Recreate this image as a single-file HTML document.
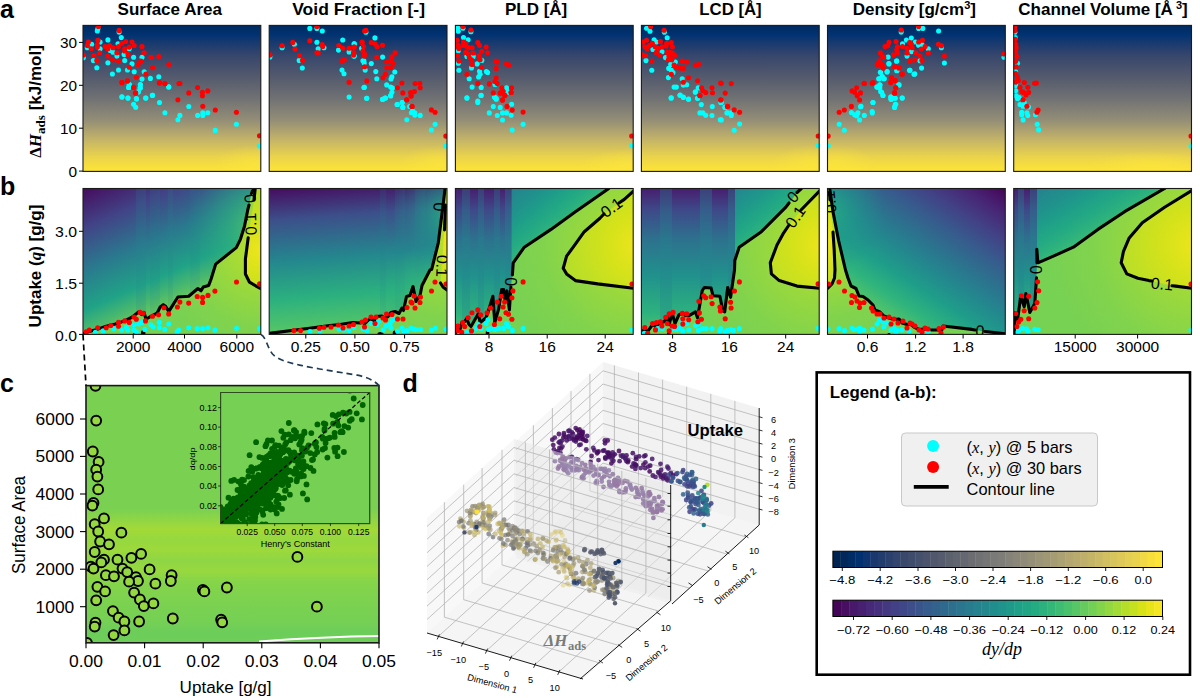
<!DOCTYPE html>
<html><head><meta charset="utf-8"><style>
html,body{margin:0;padding:0;background:#fff;}
body{width:1200px;height:698px;overflow:hidden;font-family:"Liberation Sans",sans-serif;}
svg{display:block;}
</style></head><body>
<svg width="1200" height="698" viewBox="0 0 1200 698">
<defs><linearGradient id="ga" x1="0" y1="0" x2="0" y2="1"><stop offset="0" stop-color="#002a5f"/><stop offset="0.06" stop-color="#013271"/><stop offset="0.2" stop-color="#35456c"/><stop offset="0.35" stop-color="#545a6d"/><stop offset="0.5" stop-color="#707173"/><stop offset="0.65" stop-color="#948e77"/><stop offset="0.78" stop-color="#c3b369"/><stop offset="0.9" stop-color="#ead34c"/><stop offset="1" stop-color="#fee535"/></linearGradient><clipPath id="ca0"><rect x="83" y="25.4" width="177.8" height="146.0"/></clipPath><clipPath id="cb0"><rect x="83" y="188.5" width="177.8" height="145.89999999999998"/></clipPath><clipPath id="ca1"><rect x="269.2" y="25.4" width="177.8" height="146.0"/></clipPath><clipPath id="cb1"><rect x="269.2" y="188.5" width="177.8" height="145.89999999999998"/></clipPath><clipPath id="ca2"><rect x="455.4" y="25.4" width="177.8" height="146.0"/></clipPath><clipPath id="cb2"><rect x="455.4" y="188.5" width="177.8" height="145.89999999999998"/></clipPath><clipPath id="ca3"><rect x="641.4" y="25.4" width="177.8" height="146.0"/></clipPath><clipPath id="cb3"><rect x="641.4" y="188.5" width="177.8" height="145.89999999999998"/></clipPath><clipPath id="ca4"><rect x="827.5" y="25.4" width="177.8" height="146.0"/></clipPath><clipPath id="cb4"><rect x="827.5" y="188.5" width="177.8" height="145.89999999999998"/></clipPath><clipPath id="ca5"><rect x="1013.7" y="25.4" width="177.8" height="146.0"/></clipPath><clipPath id="cb5"><rect x="1013.7" y="188.5" width="177.8" height="145.89999999999998"/></clipPath><radialGradient id="gyb"><stop offset="0" stop-color="#fee838" stop-opacity="0.55"/><stop offset="1" stop-color="#fee838" stop-opacity="0"/></radialGradient><linearGradient id="gA0" gradientUnits="userSpaceOnUse" x1="83" y1="188" x2="144" y2="325.4"><stop offset="0.000" stop-color="#460b5e"/><stop offset="0.250" stop-color="#414487"/><stop offset="0.500" stop-color="#2a788e"/><stop offset="0.750" stop-color="#20a386"/><stop offset="1.000" stop-color="#7ad151"/></linearGradient><linearGradient id="gA1" gradientUnits="userSpaceOnUse" x1="269" y1="188" x2="280" y2="334"><stop offset="0.000" stop-color="#460b5e"/><stop offset="0.220" stop-color="#3c4f8a"/><stop offset="0.500" stop-color="#24868e"/><stop offset="0.770" stop-color="#2cb17e"/><stop offset="1.000" stop-color="#58c765"/></linearGradient><linearGradient id="gA2L" gradientUnits="userSpaceOnUse" x1="455" y1="188" x2="455" y2="334"><stop offset="0.000" stop-color="#481d6f"/><stop offset="0.150" stop-color="#3e4989"/><stop offset="0.350" stop-color="#2d718e"/><stop offset="0.600" stop-color="#21918c"/><stop offset="0.850" stop-color="#2cb17e"/><stop offset="1.000" stop-color="#4ec36b"/></linearGradient><linearGradient id="gA2R" gradientUnits="userSpaceOnUse" x1="511" y1="190" x2="560" y2="252"><stop offset="0.000" stop-color="#26828e"/><stop offset="0.125" stop-color="#228b8d"/><stop offset="0.250" stop-color="#20938c"/><stop offset="0.375" stop-color="#1e9d89"/><stop offset="0.500" stop-color="#21a685"/><stop offset="0.625" stop-color="#28ae80"/><stop offset="0.750" stop-color="#35b779"/><stop offset="0.875" stop-color="#44bf70"/><stop offset="1.000" stop-color="#58c765"/></linearGradient><linearGradient id="gA3L" gradientUnits="userSpaceOnUse" x1="641" y1="188" x2="641" y2="334"><stop offset="0.000" stop-color="#481d6f"/><stop offset="0.150" stop-color="#3e4989"/><stop offset="0.350" stop-color="#2d718e"/><stop offset="0.600" stop-color="#21918c"/><stop offset="0.850" stop-color="#2cb17e"/><stop offset="1.000" stop-color="#4ec36b"/></linearGradient><linearGradient id="gA3R" gradientUnits="userSpaceOnUse" x1="735" y1="190" x2="780" y2="247"><stop offset="0.000" stop-color="#24868e"/><stop offset="0.125" stop-color="#218f8d"/><stop offset="0.250" stop-color="#1f978b"/><stop offset="0.375" stop-color="#1fa088"/><stop offset="0.500" stop-color="#22a884"/><stop offset="0.625" stop-color="#2ab07f"/><stop offset="0.750" stop-color="#37b878"/><stop offset="0.875" stop-color="#46c06f"/><stop offset="1.000" stop-color="#58c765"/></linearGradient><linearGradient id="gA4" gradientUnits="userSpaceOnUse" x1="1005" y1="188" x2="909.6" y2="334.1"><stop offset="0.000" stop-color="#450457"/><stop offset="0.125" stop-color="#482475"/><stop offset="0.250" stop-color="#424186"/><stop offset="0.375" stop-color="#375b8d"/><stop offset="0.500" stop-color="#2c728e"/><stop offset="0.625" stop-color="#23888e"/><stop offset="0.750" stop-color="#1f9e89"/><stop offset="0.875" stop-color="#2fb47c"/><stop offset="1.000" stop-color="#58c765"/></linearGradient><linearGradient id="gA5L" gradientUnits="userSpaceOnUse" x1="1013" y1="188" x2="1013" y2="334"><stop offset="0.000" stop-color="#481d6f"/><stop offset="0.150" stop-color="#3e4989"/><stop offset="0.350" stop-color="#2d718e"/><stop offset="0.600" stop-color="#21918c"/><stop offset="0.850" stop-color="#2cb17e"/><stop offset="1.000" stop-color="#4ec36b"/></linearGradient><linearGradient id="gA5R" gradientUnits="userSpaceOnUse" x1="1037" y1="190" x2="1080" y2="264"><stop offset="0.000" stop-color="#26828e"/><stop offset="0.125" stop-color="#228b8d"/><stop offset="0.250" stop-color="#20938c"/><stop offset="0.375" stop-color="#1e9d89"/><stop offset="0.500" stop-color="#21a685"/><stop offset="0.625" stop-color="#28ae80"/><stop offset="0.750" stop-color="#35b779"/><stop offset="0.875" stop-color="#44bf70"/><stop offset="1.000" stop-color="#58c765"/></linearGradient><radialGradient id="gB0" gradientUnits="userSpaceOnUse" cx="262" cy="250" r="110"><stop offset="0.000" stop-color="#bddf26"/><stop offset="0.400" stop-color="#98d83e"/><stop offset="0.700" stop-color="#81d34d"/><stop offset="1.000" stop-color="#77d153"/></radialGradient><radialGradient id="gC0" gradientUnits="userSpaceOnUse" cx="262" cy="250" r="72.60000000000001"><stop offset="0.000" stop-color="#efe51c"/><stop offset="0.350" stop-color="#d5e21a"/><stop offset="0.700" stop-color="#bddf26"/><stop offset="1.000" stop-color="#addc30"/></radialGradient><radialGradient id="gB1" gradientUnits="userSpaceOnUse" cx="449" cy="240" r="110"><stop offset="0.000" stop-color="#bddf26"/><stop offset="0.400" stop-color="#98d83e"/><stop offset="0.700" stop-color="#81d34d"/><stop offset="1.000" stop-color="#77d153"/></radialGradient><radialGradient id="gC1" gradientUnits="userSpaceOnUse" cx="449" cy="240" r="72.60000000000001"><stop offset="0.000" stop-color="#efe51c"/><stop offset="0.350" stop-color="#d5e21a"/><stop offset="0.700" stop-color="#bddf26"/><stop offset="1.000" stop-color="#addc30"/></radialGradient><radialGradient id="gB2" gradientUnits="userSpaceOnUse" cx="640" cy="245" r="140"><stop offset="0.000" stop-color="#bddf26"/><stop offset="0.400" stop-color="#98d83e"/><stop offset="0.700" stop-color="#81d34d"/><stop offset="1.000" stop-color="#77d153"/></radialGradient><radialGradient id="gC2" gradientUnits="userSpaceOnUse" cx="640" cy="245" r="92.4"><stop offset="0.000" stop-color="#efe51c"/><stop offset="0.350" stop-color="#d5e21a"/><stop offset="0.700" stop-color="#bddf26"/><stop offset="1.000" stop-color="#addc30"/></radialGradient><radialGradient id="gB3" gradientUnits="userSpaceOnUse" cx="826" cy="245" r="140"><stop offset="0.000" stop-color="#bddf26"/><stop offset="0.400" stop-color="#98d83e"/><stop offset="0.700" stop-color="#81d34d"/><stop offset="1.000" stop-color="#77d153"/></radialGradient><radialGradient id="gC3" gradientUnits="userSpaceOnUse" cx="826" cy="245" r="92.4"><stop offset="0.000" stop-color="#efe51c"/><stop offset="0.350" stop-color="#d5e21a"/><stop offset="0.700" stop-color="#bddf26"/><stop offset="1.000" stop-color="#addc30"/></radialGradient><radialGradient id="gB4" gradientUnits="userSpaceOnUse" cx="828" cy="240" r="110"><stop offset="0.000" stop-color="#bddf26"/><stop offset="0.400" stop-color="#98d83e"/><stop offset="0.700" stop-color="#81d34d"/><stop offset="1.000" stop-color="#77d153"/></radialGradient><radialGradient id="gC4" gradientUnits="userSpaceOnUse" cx="828" cy="240" r="72.60000000000001"><stop offset="0.000" stop-color="#efe51c"/><stop offset="0.350" stop-color="#d5e21a"/><stop offset="0.700" stop-color="#bddf26"/><stop offset="1.000" stop-color="#addc30"/></radialGradient><radialGradient id="gB5" gradientUnits="userSpaceOnUse" cx="1198" cy="245" r="150"><stop offset="0.000" stop-color="#bddf26"/><stop offset="0.400" stop-color="#98d83e"/><stop offset="0.700" stop-color="#81d34d"/><stop offset="1.000" stop-color="#77d153"/></radialGradient><radialGradient id="gC5" gradientUnits="userSpaceOnUse" cx="1198" cy="245" r="99.0"><stop offset="0.000" stop-color="#efe51c"/><stop offset="0.350" stop-color="#d5e21a"/><stop offset="0.700" stop-color="#bddf26"/><stop offset="1.000" stop-color="#addc30"/></radialGradient><radialGradient id="ov0_0"><stop offset="0" stop-color="#58c765" stop-opacity="0.95"/><stop offset="0.5" stop-color="#32b67a" stop-opacity="0.5"/><stop offset="1" stop-color="#21a685" stop-opacity="0"/></radialGradient><radialGradient id="ov1_0"><stop offset="0" stop-color="#26ad81" stop-opacity="0.95"/><stop offset="0.5" stop-color="#1f9a8a" stop-opacity="0.5"/><stop offset="1" stop-color="#23898e" stop-opacity="0"/></radialGradient><radialGradient id="ov1_1"><stop offset="0" stop-color="#58c765" stop-opacity="0.95"/><stop offset="0.5" stop-color="#32b67a" stop-opacity="0.5"/><stop offset="1" stop-color="#21a685" stop-opacity="0"/></radialGradient><radialGradient id="ov4_0"><stop offset="0" stop-color="#26ad81" stop-opacity="0.95"/><stop offset="0.5" stop-color="#1f9a8a" stop-opacity="0.5"/><stop offset="1" stop-color="#23898e" stop-opacity="0"/></radialGradient><linearGradient id="gc" x1="0" y1="0" x2="0" y2="1"><stop offset="0" stop-color="#7ad151"/><stop offset="0.48" stop-color="#7ad151"/><stop offset="0.52" stop-color="#8ed645"/><stop offset="0.56" stop-color="#a2da37"/><stop offset="0.6" stop-color="#95d840"/><stop offset="0.64" stop-color="#9dd93b"/><stop offset="0.68" stop-color="#8ed645"/><stop offset="0.72" stop-color="#98d83e"/><stop offset="0.76" stop-color="#86d549"/><stop offset="0.8" stop-color="#81d34d"/><stop offset="0.86" stop-color="#7ad151"/><stop offset="0.92" stop-color="#75d054"/><stop offset="0.96" stop-color="#6ccd5a"/><stop offset="1" stop-color="#6ece58"/></linearGradient><clipPath id="cc"><rect x="86" y="385.6" width="293" height="257.19999999999993"/></clipPath><clipPath id="ci"><rect x="220.6" y="392.5" width="149.1" height="131.10000000000002"/></clipPath></defs>
<rect x="83" y="25.4" width="177.8" height="146.0" fill="url(#ga)"/>
<g clip-path="url(#ca0)"><ellipse cx="255" cy="163" rx="40" ry="18" fill="url(#gyb)"/></g>
<rect x="269.2" y="25.4" width="177.8" height="146.0" fill="url(#ga)"/>
<g clip-path="url(#ca1)"><ellipse cx="441" cy="163" rx="40" ry="18" fill="url(#gyb)"/></g>
<rect x="455.4" y="25.4" width="177.8" height="146.0" fill="url(#ga)"/>
<g clip-path="url(#ca2)"><ellipse cx="627" cy="165" rx="45" ry="16" fill="url(#gyb)"/></g>
<rect x="641.4" y="25.4" width="177.8" height="146.0" fill="url(#ga)"/>
<g clip-path="url(#ca3)"><ellipse cx="813" cy="163" rx="40" ry="18" fill="url(#gyb)"/></g>
<rect x="827.5" y="25.4" width="177.8" height="146.0" fill="url(#ga)"/>
<g clip-path="url(#ca4)"><ellipse cx="835" cy="163" rx="40" ry="18" fill="url(#gyb)"/></g>
<rect x="1013.7" y="25.4" width="177.8" height="146.0" fill="url(#ga)"/>
<g clip-path="url(#ca5)"><ellipse cx="1150" cy="165" rx="60" ry="14" fill="url(#gyb)"/></g>
<g clip-path="url(#ca0)">
<circle cx="97.3" cy="30.9" r="2.55" fill="#00ffff"/><circle cx="97.9" cy="28.7" r="2.55" fill="#00ffff"/><circle cx="119.1" cy="32.1" r="2.55" fill="#00ffff"/><circle cx="121.3" cy="37.6" r="2.55" fill="#00ffff"/><circle cx="107.9" cy="39.9" r="2.55" fill="#00ffff"/><circle cx="91.7" cy="44.3" r="2.55" fill="#00ffff"/><circle cx="100.1" cy="42.1" r="2.55" fill="#00ffff"/><circle cx="87.3" cy="47.7" r="2.55" fill="#00ffff"/><circle cx="100.1" cy="48.8" r="2.55" fill="#00ffff"/><circle cx="110.2" cy="50.5" r="2.55" fill="#00ffff"/><circle cx="113" cy="52.2" r="2.55" fill="#00ffff"/><circle cx="118" cy="43.8" r="2.55" fill="#00ffff"/><circle cx="129.2" cy="48.8" r="2.55" fill="#00ffff"/><circle cx="83.4" cy="57.8" r="2.55" fill="#00ffff"/><circle cx="93.4" cy="60.5" r="2.55" fill="#00ffff"/><circle cx="116.9" cy="56.1" r="2.55" fill="#00ffff"/><circle cx="124.1" cy="54.4" r="2.55" fill="#00ffff"/><circle cx="133.6" cy="57.2" r="2.55" fill="#00ffff"/><circle cx="142" cy="57.2" r="2.55" fill="#00ffff"/><circle cx="107.9" cy="62.8" r="2.55" fill="#00ffff"/><circle cx="124.7" cy="60.5" r="2.55" fill="#00ffff"/><circle cx="132" cy="63.9" r="2.55" fill="#00ffff"/><circle cx="96.8" cy="67.8" r="2.55" fill="#00ffff"/><circle cx="118.5" cy="70" r="2.55" fill="#00ffff"/><circle cx="127.5" cy="70" r="2.55" fill="#00ffff"/><circle cx="134.2" cy="71.7" r="2.55" fill="#00ffff"/><circle cx="144.2" cy="71.7" r="2.55" fill="#00ffff"/><circle cx="112.4" cy="74" r="2.55" fill="#00ffff"/><circle cx="142" cy="79" r="2.55" fill="#00ffff"/><circle cx="150.4" cy="78.4" r="2.55" fill="#00ffff"/><circle cx="158.8" cy="76.7" r="2.55" fill="#00ffff"/><circle cx="129.2" cy="84.6" r="2.55" fill="#00ffff"/><circle cx="128.6" cy="87.4" r="2.55" fill="#00ffff"/><circle cx="140.3" cy="84.6" r="2.55" fill="#00ffff"/><circle cx="140.3" cy="87.9" r="2.55" fill="#00ffff"/><circle cx="138.1" cy="91.8" r="2.55" fill="#00ffff"/><circle cx="168.8" cy="86.8" r="2.55" fill="#00ffff"/><circle cx="121.9" cy="96.9" r="2.55" fill="#00ffff"/><circle cx="128" cy="98" r="2.55" fill="#00ffff"/><circle cx="136.4" cy="98.5" r="2.55" fill="#00ffff"/><circle cx="145.9" cy="98" r="2.55" fill="#00ffff"/><circle cx="152.6" cy="95.2" r="2.55" fill="#00ffff"/><circle cx="129.5" cy="84.8" r="2.55" fill="#00ffff"/><circle cx="128.8" cy="87.5" r="2.55" fill="#00ffff"/><circle cx="140.4" cy="84.8" r="2.55" fill="#00ffff"/><circle cx="140.1" cy="87.9" r="2.55" fill="#00ffff"/><circle cx="138.4" cy="92" r="2.55" fill="#00ffff"/><circle cx="168.7" cy="87.1" r="2.55" fill="#00ffff"/><circle cx="122" cy="97" r="2.55" fill="#00ffff"/><circle cx="127.9" cy="98.1" r="2.55" fill="#00ffff"/><circle cx="136.6" cy="99.1" r="2.55" fill="#00ffff"/><circle cx="145.6" cy="98.1" r="2.55" fill="#00ffff"/><circle cx="152.4" cy="95.4" r="2.55" fill="#00ffff"/><circle cx="133.6" cy="104.2" r="2.55" fill="#00ffff"/><circle cx="135.7" cy="107.2" r="2.55" fill="#00ffff"/><circle cx="159.5" cy="102.5" r="2.55" fill="#00ffff"/><circle cx="164.9" cy="112.7" r="2.55" fill="#00ffff"/><circle cx="188.8" cy="106.5" r="2.55" fill="#00ffff"/><circle cx="179.9" cy="115.4" r="2.55" fill="#00ffff"/><circle cx="177.9" cy="119.8" r="2.55" fill="#00ffff"/><circle cx="197.6" cy="115.4" r="2.55" fill="#00ffff"/><circle cx="202.8" cy="112.7" r="2.55" fill="#00ffff"/><circle cx="202.8" cy="115.4" r="2.55" fill="#00ffff"/><circle cx="207.8" cy="112.7" r="2.55" fill="#00ffff"/><circle cx="236.4" cy="124.2" r="2.55" fill="#00ffff"/><circle cx="215.3" cy="130.4" r="2.55" fill="#00ffff"/><circle cx="259.5" cy="146" r="2.55" fill="#00ffff"/>
<circle cx="98.4" cy="26.5" r="2.55" fill="#ff0000"/><circle cx="119.1" cy="30.4" r="2.55" fill="#ff0000"/><circle cx="88.4" cy="42.1" r="2.55" fill="#ff0000"/><circle cx="97.9" cy="40.4" r="2.55" fill="#ff0000"/><circle cx="87.3" cy="45.5" r="2.55" fill="#ff0000"/><circle cx="97.3" cy="44.9" r="2.55" fill="#ff0000"/><circle cx="91.2" cy="48.8" r="2.55" fill="#ff0000"/><circle cx="97.3" cy="47.1" r="2.55" fill="#ff0000"/><circle cx="105.1" cy="46.6" r="2.55" fill="#ff0000"/><circle cx="109.6" cy="45.5" r="2.55" fill="#ff0000"/><circle cx="113" cy="47.7" r="2.55" fill="#ff0000"/><circle cx="107.9" cy="48.8" r="2.55" fill="#ff0000"/><circle cx="118.5" cy="46.6" r="2.55" fill="#ff0000"/><circle cx="121.9" cy="43.2" r="2.55" fill="#ff0000"/><circle cx="125.8" cy="41.6" r="2.55" fill="#ff0000"/><circle cx="124.7" cy="48.8" r="2.55" fill="#ff0000"/><circle cx="124.7" cy="51" r="2.55" fill="#ff0000"/><circle cx="132" cy="42.1" r="2.55" fill="#ff0000"/><circle cx="134.2" cy="45.5" r="2.55" fill="#ff0000"/><circle cx="129.2" cy="47.1" r="2.55" fill="#ff0000"/><circle cx="99.6" cy="52.7" r="2.55" fill="#ff0000"/><circle cx="94" cy="55.5" r="2.55" fill="#ff0000"/><circle cx="83.4" cy="55" r="2.55" fill="#ff0000"/><circle cx="107.9" cy="56.1" r="2.55" fill="#ff0000"/><circle cx="116.9" cy="52.7" r="2.55" fill="#ff0000"/><circle cx="128" cy="54.4" r="2.55" fill="#ff0000"/><circle cx="142" cy="46.6" r="2.55" fill="#ff0000"/><circle cx="144.2" cy="52.7" r="2.55" fill="#ff0000"/><circle cx="96.8" cy="60.5" r="2.55" fill="#ff0000"/><circle cx="112.4" cy="60" r="2.55" fill="#ff0000"/><circle cx="118.5" cy="61.1" r="2.55" fill="#ff0000"/><circle cx="140.9" cy="61.1" r="2.55" fill="#ff0000"/><circle cx="138.1" cy="64.5" r="2.55" fill="#ff0000"/><circle cx="151" cy="57.2" r="2.55" fill="#ff0000"/><circle cx="158.8" cy="56.6" r="2.55" fill="#ff0000"/><circle cx="168.8" cy="64.5" r="2.55" fill="#ff0000"/><circle cx="129.2" cy="67.3" r="2.55" fill="#ff0000"/><circle cx="152.6" cy="67.8" r="2.55" fill="#ff0000"/><circle cx="145.9" cy="74" r="2.55" fill="#ff0000"/><circle cx="136.4" cy="77.3" r="2.55" fill="#ff0000"/><circle cx="121.9" cy="82.3" r="2.55" fill="#ff0000"/><circle cx="127.5" cy="80.7" r="2.55" fill="#ff0000"/><circle cx="133.6" cy="87.4" r="2.55" fill="#ff0000"/><circle cx="135.3" cy="93" r="2.55" fill="#ff0000"/><circle cx="159.3" cy="82.9" r="2.55" fill="#ff0000"/><circle cx="164.9" cy="83.5" r="2.55" fill="#ff0000"/><circle cx="178.9" cy="83.5" r="2.55" fill="#ff0000"/><circle cx="122" cy="82.7" r="2.55" fill="#ff0000"/><circle cx="127.5" cy="81.1" r="2.55" fill="#ff0000"/><circle cx="133.6" cy="87.5" r="2.55" fill="#ff0000"/><circle cx="135.7" cy="92.9" r="2.55" fill="#ff0000"/><circle cx="159.5" cy="82.7" r="2.55" fill="#ff0000"/><circle cx="164.9" cy="83.8" r="2.55" fill="#ff0000"/><circle cx="179.9" cy="83.4" r="2.55" fill="#ff0000"/><circle cx="188.8" cy="92.9" r="2.55" fill="#ff0000"/><circle cx="197.6" cy="87.5" r="2.55" fill="#ff0000"/><circle cx="202.4" cy="92.3" r="2.55" fill="#ff0000"/><circle cx="202.4" cy="95.7" r="2.55" fill="#ff0000"/><circle cx="207.8" cy="90.9" r="2.55" fill="#ff0000"/><circle cx="177.9" cy="99.7" r="2.55" fill="#ff0000"/><circle cx="202.8" cy="106.3" r="2.55" fill="#ff0000"/><circle cx="215.3" cy="110" r="2.55" fill="#ff0000"/><circle cx="236.4" cy="112.3" r="2.55" fill="#ff0000"/><circle cx="259.5" cy="135.8" r="2.55" fill="#ff0000"/>
</g>
<g clip-path="url(#ca1)">
<circle cx="309.8" cy="28.4" r="2.55" fill="#00ffff"/><circle cx="316.9" cy="28.4" r="2.55" fill="#00ffff"/><circle cx="322.3" cy="31" r="2.55" fill="#00ffff"/><circle cx="316.9" cy="42.2" r="2.55" fill="#00ffff"/><circle cx="294.4" cy="44.2" r="2.55" fill="#00ffff"/><circle cx="282.1" cy="47.8" r="2.55" fill="#00ffff"/><circle cx="318.2" cy="48.8" r="2.55" fill="#00ffff"/><circle cx="324" cy="47.8" r="2.55" fill="#00ffff"/><circle cx="299.2" cy="60.4" r="2.55" fill="#00ffff"/><circle cx="302.3" cy="68" r="2.55" fill="#00ffff"/><circle cx="269.9" cy="57.1" r="2.55" fill="#00ffff"/><circle cx="342.7" cy="40" r="2.55" fill="#00ffff"/><circle cx="338.5" cy="50.1" r="2.55" fill="#00ffff"/><circle cx="349.1" cy="51.9" r="2.55" fill="#00ffff"/><circle cx="354.3" cy="43.9" r="2.55" fill="#00ffff"/><circle cx="354.3" cy="56.1" r="2.55" fill="#00ffff"/><circle cx="342" cy="70.1" r="2.55" fill="#00ffff"/><circle cx="344" cy="73.8" r="2.55" fill="#00ffff"/><circle cx="349.1" cy="97.1" r="2.55" fill="#00ffff"/><circle cx="363.9" cy="60.7" r="2.55" fill="#00ffff"/><circle cx="363.9" cy="87.5" r="2.55" fill="#00ffff"/><circle cx="365.9" cy="32.3" r="2.55" fill="#00ffff"/><circle cx="374.9" cy="37.9" r="2.55" fill="#00ffff"/><circle cx="354.1" cy="43.9" r="2.55" fill="#00ffff"/><circle cx="361.6" cy="48.4" r="2.55" fill="#00ffff"/><circle cx="353.9" cy="56.1" r="2.55" fill="#00ffff"/><circle cx="382.6" cy="57.1" r="2.55" fill="#00ffff"/><circle cx="362.9" cy="60.7" r="2.55" fill="#00ffff"/><circle cx="364.2" cy="63" r="2.55" fill="#00ffff"/><circle cx="371.3" cy="63.6" r="2.55" fill="#00ffff"/><circle cx="365.2" cy="70.1" r="2.55" fill="#00ffff"/><circle cx="375.8" cy="71.6" r="2.55" fill="#00ffff"/><circle cx="394.8" cy="72" r="2.55" fill="#00ffff"/><circle cx="376.8" cy="78.7" r="2.55" fill="#00ffff"/><circle cx="391.9" cy="76.8" r="2.55" fill="#00ffff"/><circle cx="391" cy="79" r="2.55" fill="#00ffff"/><circle cx="364.4" cy="87.3" r="2.55" fill="#00ffff"/><circle cx="386.7" cy="84.9" r="2.55" fill="#00ffff"/><circle cx="390.6" cy="87.1" r="2.55" fill="#00ffff"/><circle cx="392.5" cy="88" r="2.55" fill="#00ffff"/><circle cx="391.9" cy="92.2" r="2.55" fill="#00ffff"/><circle cx="390.6" cy="95.5" r="2.55" fill="#00ffff"/><circle cx="366.8" cy="98.3" r="2.55" fill="#00ffff"/><circle cx="382.5" cy="99.3" r="2.55" fill="#00ffff"/><circle cx="385.1" cy="98" r="2.55" fill="#00ffff"/><circle cx="397.4" cy="104.5" r="2.55" fill="#00ffff"/><circle cx="402.2" cy="102.5" r="2.55" fill="#00ffff"/><circle cx="402.8" cy="107.4" r="2.55" fill="#00ffff"/><circle cx="412.5" cy="110.9" r="2.55" fill="#00ffff"/><circle cx="366.6" cy="98.2" r="2.55" fill="#00ffff"/><circle cx="382.7" cy="99.4" r="2.55" fill="#00ffff"/><circle cx="385.6" cy="98.1" r="2.55" fill="#00ffff"/><circle cx="390.7" cy="95.9" r="2.55" fill="#00ffff"/><circle cx="397" cy="104.5" r="2.55" fill="#00ffff"/><circle cx="402.2" cy="102.5" r="2.55" fill="#00ffff"/><circle cx="402.8" cy="107.4" r="2.55" fill="#00ffff"/><circle cx="409.6" cy="106.5" r="2.55" fill="#00ffff"/><circle cx="411.4" cy="112.8" r="2.55" fill="#00ffff"/><circle cx="414.8" cy="112.8" r="2.55" fill="#00ffff"/><circle cx="414.8" cy="115.1" r="2.55" fill="#00ffff"/><circle cx="420.2" cy="115.4" r="2.55" fill="#00ffff"/><circle cx="406.8" cy="119.7" r="2.55" fill="#00ffff"/><circle cx="435.1" cy="124.2" r="2.55" fill="#00ffff"/><circle cx="431.4" cy="130" r="2.55" fill="#00ffff"/><circle cx="445.8" cy="146" r="2.55" fill="#00ffff"/>
<circle cx="316.9" cy="26.5" r="2.55" fill="#ff0000"/><circle cx="309.8" cy="40.7" r="2.55" fill="#ff0000"/><circle cx="282.1" cy="45.8" r="2.55" fill="#ff0000"/><circle cx="292.8" cy="42.4" r="2.55" fill="#ff0000"/><circle cx="295" cy="49.1" r="2.55" fill="#ff0000"/><circle cx="299.5" cy="55.8" r="2.55" fill="#ff0000"/><circle cx="302.5" cy="60.4" r="2.55" fill="#ff0000"/><circle cx="316.9" cy="52.7" r="2.55" fill="#ff0000"/><circle cx="318.2" cy="52.9" r="2.55" fill="#ff0000"/><circle cx="322.1" cy="44.6" r="2.55" fill="#ff0000"/><circle cx="322.7" cy="46.5" r="2.55" fill="#ff0000"/><circle cx="269.9" cy="54.9" r="2.55" fill="#ff0000"/><circle cx="338.8" cy="45.5" r="2.55" fill="#ff0000"/><circle cx="342.7" cy="48.2" r="2.55" fill="#ff0000"/><circle cx="342" cy="60.7" r="2.55" fill="#ff0000"/><circle cx="344.4" cy="60" r="2.55" fill="#ff0000"/><circle cx="349.1" cy="48.2" r="2.55" fill="#ff0000"/><circle cx="354.3" cy="47.1" r="2.55" fill="#ff0000"/><circle cx="353.6" cy="52.9" r="2.55" fill="#ff0000"/><circle cx="353.6" cy="54.9" r="2.55" fill="#ff0000"/><circle cx="349.1" cy="82.3" r="2.55" fill="#ff0000"/><circle cx="362" cy="42.6" r="2.55" fill="#ff0000"/><circle cx="364.6" cy="31" r="2.55" fill="#ff0000"/><circle cx="365.9" cy="30.4" r="2.55" fill="#ff0000"/><circle cx="362.2" cy="42" r="2.55" fill="#ff0000"/><circle cx="353.9" cy="47.1" r="2.55" fill="#ff0000"/><circle cx="363.5" cy="46.5" r="2.55" fill="#ff0000"/><circle cx="362.9" cy="51" r="2.55" fill="#ff0000"/><circle cx="364.8" cy="54.2" r="2.55" fill="#ff0000"/><circle cx="364.2" cy="56.1" r="2.55" fill="#ff0000"/><circle cx="353.9" cy="52.9" r="2.55" fill="#ff0000"/><circle cx="371.3" cy="42.6" r="2.55" fill="#ff0000"/><circle cx="375.1" cy="43.9" r="2.55" fill="#ff0000"/><circle cx="377.1" cy="46.7" r="2.55" fill="#ff0000"/><circle cx="382.5" cy="45.2" r="2.55" fill="#ff0000"/><circle cx="376.8" cy="57.4" r="2.55" fill="#ff0000"/><circle cx="395.1" cy="52.7" r="2.55" fill="#ff0000"/><circle cx="391.9" cy="56.8" r="2.55" fill="#ff0000"/><circle cx="386.7" cy="61.9" r="2.55" fill="#ff0000"/><circle cx="391.2" cy="60.7" r="2.55" fill="#ff0000"/><circle cx="393.2" cy="63.9" r="2.55" fill="#ff0000"/><circle cx="386.7" cy="67.7" r="2.55" fill="#ff0000"/><circle cx="390.6" cy="67.7" r="2.55" fill="#ff0000"/><circle cx="364.6" cy="66.8" r="2.55" fill="#ff0000"/><circle cx="385.4" cy="74.2" r="2.55" fill="#ff0000"/><circle cx="382.9" cy="77.7" r="2.55" fill="#ff0000"/><circle cx="366.8" cy="80.9" r="2.55" fill="#ff0000"/><circle cx="401.9" cy="83" r="2.55" fill="#ff0000"/><circle cx="415.1" cy="83.6" r="2.55" fill="#ff0000"/><circle cx="419.8" cy="83.2" r="2.55" fill="#ff0000"/><circle cx="420.2" cy="87.7" r="2.55" fill="#ff0000"/><circle cx="397.4" cy="87.7" r="2.55" fill="#ff0000"/><circle cx="402.8" cy="92.9" r="2.55" fill="#ff0000"/><circle cx="410.6" cy="92.6" r="2.55" fill="#ff0000"/><circle cx="414.4" cy="91.6" r="2.55" fill="#ff0000"/><circle cx="411.2" cy="95.7" r="2.55" fill="#ff0000"/><circle cx="406.7" cy="99.7" r="2.55" fill="#ff0000"/><circle cx="412.1" cy="106.4" r="2.55" fill="#ff0000"/><circle cx="431.4" cy="109.9" r="2.55" fill="#ff0000"/><circle cx="411.1" cy="96.1" r="2.55" fill="#ff0000"/><circle cx="406.8" cy="99.8" r="2.55" fill="#ff0000"/><circle cx="411.9" cy="106.5" r="2.55" fill="#ff0000"/><circle cx="435.1" cy="112.2" r="2.55" fill="#ff0000"/><circle cx="445.8" cy="136.1" r="2.55" fill="#ff0000"/>
</g>
<g clip-path="url(#ca2)">
<circle cx="457.7" cy="27.7" r="2.55" fill="#00ffff"/><circle cx="458.3" cy="31.2" r="2.55" fill="#00ffff"/><circle cx="462.9" cy="28.3" r="2.55" fill="#00ffff"/><circle cx="470.9" cy="31.7" r="2.55" fill="#00ffff"/><circle cx="463.5" cy="37.5" r="2.55" fill="#00ffff"/><circle cx="468.1" cy="39.8" r="2.55" fill="#00ffff"/><circle cx="458.3" cy="50.7" r="2.55" fill="#00ffff"/><circle cx="466.9" cy="56.4" r="2.55" fill="#00ffff"/><circle cx="473.2" cy="56.4" r="2.55" fill="#00ffff"/><circle cx="481.8" cy="60.4" r="2.55" fill="#00ffff"/><circle cx="458.3" cy="63.3" r="2.55" fill="#00ffff"/><circle cx="477.2" cy="63.9" r="2.55" fill="#00ffff"/><circle cx="471.5" cy="67.9" r="2.55" fill="#00ffff"/><circle cx="458.9" cy="70.2" r="2.55" fill="#00ffff"/><circle cx="486.4" cy="71.5" r="2.55" fill="#00ffff"/><circle cx="487.6" cy="72.5" r="2.55" fill="#00ffff"/><circle cx="479.5" cy="71.3" r="2.55" fill="#00ffff"/><circle cx="480.1" cy="74.2" r="2.55" fill="#00ffff"/><circle cx="478.6" cy="77" r="2.55" fill="#00ffff"/><circle cx="469.2" cy="78.8" r="2.55" fill="#00ffff"/><circle cx="495" cy="84.5" r="2.55" fill="#00ffff"/><circle cx="472.1" cy="87.1" r="2.55" fill="#00ffff"/><circle cx="481.2" cy="87.4" r="2.55" fill="#00ffff"/><circle cx="506.5" cy="87.9" r="2.55" fill="#00ffff"/><circle cx="508.2" cy="92" r="2.55" fill="#00ffff"/><circle cx="481.2" cy="95.4" r="2.55" fill="#00ffff"/><circle cx="466.9" cy="97.9" r="2.55" fill="#00ffff"/><circle cx="494.4" cy="97.1" r="2.55" fill="#00ffff"/><circle cx="496.2" cy="98.6" r="2.55" fill="#00ffff"/><circle cx="477.8" cy="101.1" r="2.55" fill="#00ffff"/><circle cx="466.9" cy="98" r="2.55" fill="#00ffff"/><circle cx="480.9" cy="95.5" r="2.55" fill="#00ffff"/><circle cx="477.8" cy="102.4" r="2.55" fill="#00ffff"/><circle cx="495" cy="97.5" r="2.55" fill="#00ffff"/><circle cx="496.2" cy="99.2" r="2.55" fill="#00ffff"/><circle cx="508.2" cy="92.3" r="2.55" fill="#00ffff"/><circle cx="511.6" cy="104.3" r="2.55" fill="#00ffff"/><circle cx="493.3" cy="106.6" r="2.55" fill="#00ffff"/><circle cx="500.2" cy="107.4" r="2.55" fill="#00ffff"/><circle cx="489.3" cy="112.9" r="2.55" fill="#00ffff"/><circle cx="497.3" cy="115.5" r="2.55" fill="#00ffff"/><circle cx="502.5" cy="112.9" r="2.55" fill="#00ffff"/><circle cx="506.5" cy="112.9" r="2.55" fill="#00ffff"/><circle cx="511.1" cy="115.2" r="2.55" fill="#00ffff"/><circle cx="502.5" cy="120" r="2.55" fill="#00ffff"/><circle cx="523.1" cy="124.2" r="2.55" fill="#00ffff"/><circle cx="512.2" cy="130.1" r="2.55" fill="#00ffff"/><circle cx="631.7" cy="145.7" r="2.55" fill="#00ffff"/>
<circle cx="462.9" cy="26.6" r="2.55" fill="#ff0000"/><circle cx="470.9" cy="30" r="2.55" fill="#ff0000"/><circle cx="457.2" cy="40.3" r="2.55" fill="#ff0000"/><circle cx="457.7" cy="44.9" r="2.55" fill="#ff0000"/><circle cx="458.9" cy="48.4" r="2.55" fill="#ff0000"/><circle cx="463.5" cy="42.1" r="2.55" fill="#ff0000"/><circle cx="465.8" cy="43.2" r="2.55" fill="#ff0000"/><circle cx="462.9" cy="45.5" r="2.55" fill="#ff0000"/><circle cx="466.9" cy="46.7" r="2.55" fill="#ff0000"/><circle cx="469.2" cy="47.8" r="2.55" fill="#ff0000"/><circle cx="472.1" cy="47.8" r="2.55" fill="#ff0000"/><circle cx="465.8" cy="52.4" r="2.55" fill="#ff0000"/><circle cx="468.1" cy="54.1" r="2.55" fill="#ff0000"/><circle cx="473.2" cy="53" r="2.55" fill="#ff0000"/><circle cx="457.7" cy="55.8" r="2.55" fill="#ff0000"/><circle cx="469.2" cy="57.6" r="2.55" fill="#ff0000"/><circle cx="471.5" cy="59.8" r="2.55" fill="#ff0000"/><circle cx="458.9" cy="61" r="2.55" fill="#ff0000"/><circle cx="472.1" cy="64.4" r="2.55" fill="#ff0000"/><circle cx="477.8" cy="42.6" r="2.55" fill="#ff0000"/><circle cx="479.5" cy="45.5" r="2.55" fill="#ff0000"/><circle cx="481.8" cy="51.2" r="2.55" fill="#ff0000"/><circle cx="479" cy="55.8" r="2.55" fill="#ff0000"/><circle cx="480.1" cy="59.8" r="2.55" fill="#ff0000"/><circle cx="486.2" cy="47" r="2.55" fill="#ff0000"/><circle cx="487.6" cy="52.7" r="2.55" fill="#ff0000"/><circle cx="495.6" cy="61" r="2.55" fill="#ff0000"/><circle cx="497.3" cy="62.1" r="2.55" fill="#ff0000"/><circle cx="506.5" cy="63.9" r="2.55" fill="#ff0000"/><circle cx="508.8" cy="65" r="2.55" fill="#ff0000"/><circle cx="496.2" cy="68.4" r="2.55" fill="#ff0000"/><circle cx="481.2" cy="67.3" r="2.55" fill="#ff0000"/><circle cx="466.9" cy="74.2" r="2.55" fill="#ff0000"/><circle cx="496.2" cy="78" r="2.55" fill="#ff0000"/><circle cx="495" cy="81.6" r="2.55" fill="#ff0000"/><circle cx="497.3" cy="83.4" r="2.55" fill="#ff0000"/><circle cx="489.3" cy="83.9" r="2.55" fill="#ff0000"/><circle cx="477.8" cy="83.4" r="2.55" fill="#ff0000"/><circle cx="501.9" cy="87.9" r="2.55" fill="#ff0000"/><circle cx="511.6" cy="87.7" r="2.55" fill="#ff0000"/><circle cx="502.5" cy="91.4" r="2.55" fill="#ff0000"/><circle cx="500.2" cy="93.1" r="2.55" fill="#ff0000"/><circle cx="493.3" cy="92.9" r="2.55" fill="#ff0000"/><circle cx="511.1" cy="92.5" r="2.55" fill="#ff0000"/><circle cx="504.8" cy="95.4" r="2.55" fill="#ff0000"/><circle cx="502.5" cy="100" r="2.55" fill="#ff0000"/><circle cx="500.2" cy="92.9" r="2.55" fill="#ff0000"/><circle cx="503" cy="91.4" r="2.55" fill="#ff0000"/><circle cx="504.8" cy="95.5" r="2.55" fill="#ff0000"/><circle cx="511.1" cy="92.5" r="2.55" fill="#ff0000"/><circle cx="502.5" cy="100.1" r="2.55" fill="#ff0000"/><circle cx="507" cy="106.4" r="2.55" fill="#ff0000"/><circle cx="512.2" cy="110.1" r="2.55" fill="#ff0000"/><circle cx="523.1" cy="112.1" r="2.55" fill="#ff0000"/><circle cx="631.7" cy="136" r="2.55" fill="#ff0000"/>
</g>
<g clip-path="url(#ca3)">
<circle cx="646.6" cy="28.3" r="2.55" fill="#00ffff"/><circle cx="650" cy="31.2" r="2.55" fill="#00ffff"/><circle cx="664.4" cy="32.3" r="2.55" fill="#00ffff"/><circle cx="667.2" cy="37.8" r="2.55" fill="#00ffff"/><circle cx="654.1" cy="39.8" r="2.55" fill="#00ffff"/><circle cx="656.3" cy="42.1" r="2.55" fill="#00ffff"/><circle cx="652.9" cy="49.5" r="2.55" fill="#00ffff"/><circle cx="662.1" cy="51.8" r="2.55" fill="#00ffff"/><circle cx="665.5" cy="57.6" r="2.55" fill="#00ffff"/><circle cx="646" cy="60.6" r="2.55" fill="#00ffff"/><circle cx="675.3" cy="62.1" r="2.55" fill="#00ffff"/><circle cx="670.7" cy="64.4" r="2.55" fill="#00ffff"/><circle cx="668.7" cy="68.4" r="2.55" fill="#00ffff"/><circle cx="671.3" cy="70.2" r="2.55" fill="#00ffff"/><circle cx="673" cy="72.5" r="2.55" fill="#00ffff"/><circle cx="651.8" cy="70.2" r="2.55" fill="#00ffff"/><circle cx="668.4" cy="77.6" r="2.55" fill="#00ffff"/><circle cx="682.2" cy="78.8" r="2.55" fill="#00ffff"/><circle cx="686.7" cy="84.8" r="2.55" fill="#00ffff"/><circle cx="683.3" cy="85.1" r="2.55" fill="#00ffff"/><circle cx="674.1" cy="87.1" r="2.55" fill="#00ffff"/><circle cx="676.4" cy="87.1" r="2.55" fill="#00ffff"/><circle cx="698.2" cy="87.9" r="2.55" fill="#00ffff"/><circle cx="695.3" cy="92" r="2.55" fill="#00ffff"/><circle cx="680.2" cy="95.1" r="2.55" fill="#00ffff"/><circle cx="683.3" cy="97.1" r="2.55" fill="#00ffff"/><circle cx="671.3" cy="97.9" r="2.55" fill="#00ffff"/><circle cx="688.5" cy="99.1" r="2.55" fill="#00ffff"/><circle cx="697.6" cy="98.3" r="2.55" fill="#00ffff"/><circle cx="695.3" cy="92.1" r="2.55" fill="#00ffff"/><circle cx="671" cy="98" r="2.55" fill="#00ffff"/><circle cx="679.9" cy="95.2" r="2.55" fill="#00ffff"/><circle cx="683.3" cy="97.5" r="2.55" fill="#00ffff"/><circle cx="688.5" cy="99.2" r="2.55" fill="#00ffff"/><circle cx="697.6" cy="98.3" r="2.55" fill="#00ffff"/><circle cx="701.3" cy="104.6" r="2.55" fill="#00ffff"/><circle cx="712.3" cy="106.6" r="2.55" fill="#00ffff"/><circle cx="720.8" cy="102.6" r="2.55" fill="#00ffff"/><circle cx="725.2" cy="107.2" r="2.55" fill="#00ffff"/><circle cx="699.9" cy="112.9" r="2.55" fill="#00ffff"/><circle cx="702.8" cy="112.9" r="2.55" fill="#00ffff"/><circle cx="705.7" cy="115.2" r="2.55" fill="#00ffff"/><circle cx="712" cy="115.5" r="2.55" fill="#00ffff"/><circle cx="726.9" cy="112.9" r="2.55" fill="#00ffff"/><circle cx="720.3" cy="119.8" r="2.55" fill="#00ffff"/><circle cx="721.3" cy="102.5" r="2.55" fill="#00ffff"/><circle cx="724.9" cy="107.4" r="2.55" fill="#00ffff"/><circle cx="727.5" cy="112.8" r="2.55" fill="#00ffff"/><circle cx="731.3" cy="112.8" r="2.55" fill="#00ffff"/><circle cx="731.3" cy="115.4" r="2.55" fill="#00ffff"/><circle cx="721.3" cy="119.9" r="2.55" fill="#00ffff"/><circle cx="739.6" cy="124" r="2.55" fill="#00ffff"/><circle cx="734.2" cy="130.2" r="2.55" fill="#00ffff"/><circle cx="818.2" cy="145.7" r="2.55" fill="#00ffff"/>
<circle cx="650.6" cy="26.6" r="2.55" fill="#ff0000"/><circle cx="664.1" cy="30.3" r="2.55" fill="#ff0000"/><circle cx="643.2" cy="42.1" r="2.55" fill="#ff0000"/><circle cx="646.6" cy="40.3" r="2.55" fill="#ff0000"/><circle cx="644.9" cy="46.7" r="2.55" fill="#ff0000"/><circle cx="647.2" cy="49" r="2.55" fill="#ff0000"/><circle cx="649.5" cy="45.5" r="2.55" fill="#ff0000"/><circle cx="652.3" cy="43.2" r="2.55" fill="#ff0000"/><circle cx="655.2" cy="46.7" r="2.55" fill="#ff0000"/><circle cx="658.1" cy="48.4" r="2.55" fill="#ff0000"/><circle cx="660.4" cy="41.5" r="2.55" fill="#ff0000"/><circle cx="662.1" cy="46.7" r="2.55" fill="#ff0000"/><circle cx="666.7" cy="43.2" r="2.55" fill="#ff0000"/><circle cx="666.1" cy="46.1" r="2.55" fill="#ff0000"/><circle cx="671.3" cy="42.6" r="2.55" fill="#ff0000"/><circle cx="672.4" cy="46.7" r="2.55" fill="#ff0000"/><circle cx="656.3" cy="52.4" r="2.55" fill="#ff0000"/><circle cx="659.8" cy="55.3" r="2.55" fill="#ff0000"/><circle cx="645.5" cy="55.8" r="2.55" fill="#ff0000"/><circle cx="642.6" cy="54.7" r="2.55" fill="#ff0000"/><circle cx="667.2" cy="52.4" r="2.55" fill="#ff0000"/><circle cx="670.1" cy="52.4" r="2.55" fill="#ff0000"/><circle cx="672.4" cy="53" r="2.55" fill="#ff0000"/><circle cx="669" cy="56.4" r="2.55" fill="#ff0000"/><circle cx="674.7" cy="55.8" r="2.55" fill="#ff0000"/><circle cx="668.4" cy="59.8" r="2.55" fill="#ff0000"/><circle cx="671.8" cy="59.8" r="2.55" fill="#ff0000"/><circle cx="651.8" cy="61" r="2.55" fill="#ff0000"/><circle cx="682.2" cy="61" r="2.55" fill="#ff0000"/><circle cx="686.7" cy="62.1" r="2.55" fill="#ff0000"/><circle cx="674.1" cy="65" r="2.55" fill="#ff0000"/><circle cx="676.4" cy="67.3" r="2.55" fill="#ff0000"/><circle cx="679.9" cy="67.9" r="2.55" fill="#ff0000"/><circle cx="683.3" cy="68.4" r="2.55" fill="#ff0000"/><circle cx="695.3" cy="65" r="2.55" fill="#ff0000"/><circle cx="698.8" cy="64.2" r="2.55" fill="#ff0000"/><circle cx="671.3" cy="74.2" r="2.55" fill="#ff0000"/><circle cx="688.5" cy="77.8" r="2.55" fill="#ff0000"/><circle cx="697.6" cy="80.8" r="2.55" fill="#ff0000"/><circle cx="683.3" cy="82.2" r="2.55" fill="#ff0000"/><circle cx="720.6" cy="83.1" r="2.55" fill="#ff0000"/><circle cx="701.6" cy="87.7" r="2.55" fill="#ff0000"/><circle cx="712" cy="87.7" r="2.55" fill="#ff0000"/><circle cx="702.8" cy="90.8" r="2.55" fill="#ff0000"/><circle cx="705.7" cy="92.5" r="2.55" fill="#ff0000"/><circle cx="712.5" cy="92.8" r="2.55" fill="#ff0000"/><circle cx="725.2" cy="93.1" r="2.55" fill="#ff0000"/><circle cx="699.9" cy="95.7" r="2.55" fill="#ff0000"/><circle cx="720.6" cy="100" r="2.55" fill="#ff0000"/><circle cx="699.9" cy="95.5" r="2.55" fill="#ff0000"/><circle cx="721.3" cy="83.2" r="2.55" fill="#ff0000"/><circle cx="731.3" cy="83.6" r="2.55" fill="#ff0000"/><circle cx="721" cy="99.7" r="2.55" fill="#ff0000"/><circle cx="727.7" cy="106.4" r="2.55" fill="#ff0000"/><circle cx="734.2" cy="109.9" r="2.55" fill="#ff0000"/><circle cx="739.6" cy="112.2" r="2.55" fill="#ff0000"/><circle cx="727.4" cy="106.4" r="2.55" fill="#ff0000"/><circle cx="818.2" cy="136" r="2.55" fill="#ff0000"/>
</g>
<g clip-path="url(#ca4)">
<circle cx="918.6" cy="28.4" r="2.55" fill="#00ffff"/><circle cx="922.8" cy="28.4" r="2.55" fill="#00ffff"/><circle cx="901.2" cy="32.1" r="2.55" fill="#00ffff"/><circle cx="938.6" cy="31" r="2.55" fill="#00ffff"/><circle cx="906.4" cy="40" r="2.55" fill="#00ffff"/><circle cx="911.3" cy="38.1" r="2.55" fill="#00ffff"/><circle cx="915.4" cy="42" r="2.55" fill="#00ffff"/><circle cx="902.5" cy="43.9" r="2.55" fill="#00ffff"/><circle cx="918.6" cy="45.2" r="2.55" fill="#00ffff"/><circle cx="921.9" cy="44.6" r="2.55" fill="#00ffff"/><circle cx="928.3" cy="48.8" r="2.55" fill="#00ffff"/><circle cx="941.4" cy="47.8" r="2.55" fill="#00ffff"/><circle cx="911.5" cy="51.6" r="2.55" fill="#00ffff"/><circle cx="907" cy="56.1" r="2.55" fill="#00ffff"/><circle cx="919.9" cy="60.7" r="2.55" fill="#00ffff"/><circle cx="944.4" cy="63" r="2.55" fill="#00ffff"/><circle cx="888.1" cy="57.1" r="2.55" fill="#00ffff"/><circle cx="896.7" cy="60.7" r="2.55" fill="#00ffff"/><circle cx="889" cy="63.9" r="2.55" fill="#00ffff"/><circle cx="896.7" cy="70.7" r="2.55" fill="#00ffff"/><circle cx="887.1" cy="71.6" r="2.55" fill="#00ffff"/><circle cx="880.6" cy="72.3" r="2.55" fill="#00ffff"/><circle cx="910" cy="70.3" r="2.55" fill="#00ffff"/><circle cx="914.8" cy="73.9" r="2.55" fill="#00ffff"/><circle cx="921.6" cy="68.1" r="2.55" fill="#00ffff"/><circle cx="881.9" cy="76.8" r="2.55" fill="#00ffff"/><circle cx="883.8" cy="78.7" r="2.55" fill="#00ffff"/><circle cx="878.7" cy="78.7" r="2.55" fill="#00ffff"/><circle cx="880" cy="85.1" r="2.55" fill="#00ffff"/><circle cx="876.8" cy="87.1" r="2.55" fill="#00ffff"/><circle cx="898.7" cy="84.9" r="2.55" fill="#00ffff"/><circle cx="880.6" cy="91.6" r="2.55" fill="#00ffff"/><circle cx="882.9" cy="95.5" r="2.55" fill="#00ffff"/><circle cx="890.9" cy="96.7" r="2.55" fill="#00ffff"/><circle cx="890.9" cy="99.3" r="2.55" fill="#00ffff"/><circle cx="894.8" cy="98" r="2.55" fill="#00ffff"/><circle cx="902.3" cy="98" r="2.55" fill="#00ffff"/><circle cx="872.9" cy="102.5" r="2.55" fill="#00ffff"/><circle cx="895.8" cy="104.2" r="2.55" fill="#00ffff"/><circle cx="894.5" cy="107.1" r="2.55" fill="#00ffff"/><circle cx="861" cy="106.4" r="2.55" fill="#00ffff"/><circle cx="872.2" cy="111.6" r="2.55" fill="#00ffff"/><circle cx="888.8" cy="63.6" r="2.55" fill="#00ffff"/><circle cx="896.6" cy="61.3" r="2.55" fill="#00ffff"/><circle cx="880.4" cy="72.2" r="2.55" fill="#00ffff"/><circle cx="887.1" cy="71.9" r="2.55" fill="#00ffff"/><circle cx="897.2" cy="70.3" r="2.55" fill="#00ffff"/><circle cx="909.5" cy="70.3" r="2.55" fill="#00ffff"/><circle cx="914" cy="74.2" r="2.55" fill="#00ffff"/><circle cx="882.4" cy="76.5" r="2.55" fill="#00ffff"/><circle cx="884.3" cy="78.7" r="2.55" fill="#00ffff"/><circle cx="879.2" cy="78.7" r="2.55" fill="#00ffff"/><circle cx="879.8" cy="84.8" r="2.55" fill="#00ffff"/><circle cx="877.2" cy="87.1" r="2.55" fill="#00ffff"/><circle cx="879.8" cy="87.7" r="2.55" fill="#00ffff"/><circle cx="899.1" cy="84.9" r="2.55" fill="#00ffff"/><circle cx="881.7" cy="92.2" r="2.55" fill="#00ffff"/><circle cx="883" cy="95.5" r="2.55" fill="#00ffff"/><circle cx="890.8" cy="97.4" r="2.55" fill="#00ffff"/><circle cx="891.4" cy="99.3" r="2.55" fill="#00ffff"/><circle cx="895.3" cy="98.3" r="2.55" fill="#00ffff"/><circle cx="902.1" cy="98" r="2.55" fill="#00ffff"/><circle cx="895.3" cy="104.5" r="2.55" fill="#00ffff"/><circle cx="894.6" cy="107.4" r="2.55" fill="#00ffff"/><circle cx="873" cy="102.5" r="2.55" fill="#00ffff"/><circle cx="860.5" cy="106.7" r="2.55" fill="#00ffff"/><circle cx="851.4" cy="112.6" r="2.55" fill="#00ffff"/><circle cx="854.7" cy="114.8" r="2.55" fill="#00ffff"/><circle cx="857.9" cy="112.9" r="2.55" fill="#00ffff"/><circle cx="856.6" cy="115.7" r="2.55" fill="#00ffff"/><circle cx="864.3" cy="115.4" r="2.55" fill="#00ffff"/><circle cx="872.3" cy="112.9" r="2.55" fill="#00ffff"/><circle cx="859.6" cy="120" r="2.55" fill="#00ffff"/><circle cx="839.2" cy="124.2" r="2.55" fill="#00ffff"/><circle cx="844.3" cy="130.3" r="2.55" fill="#00ffff"/><circle cx="828.2" cy="145.7" r="2.55" fill="#00ffff"/><circle cx="1004" cy="57.3" r="2.55" fill="#00ffff"/>
<circle cx="918.6" cy="26.5" r="2.55" fill="#ff0000"/><circle cx="901.2" cy="30" r="2.55" fill="#ff0000"/><circle cx="889" cy="42.4" r="2.55" fill="#ff0000"/><circle cx="896.1" cy="41.6" r="2.55" fill="#ff0000"/><circle cx="885.1" cy="46.5" r="2.55" fill="#ff0000"/><circle cx="887.7" cy="45.8" r="2.55" fill="#ff0000"/><circle cx="897.4" cy="46.7" r="2.55" fill="#ff0000"/><circle cx="896.7" cy="49.7" r="2.55" fill="#ff0000"/><circle cx="897.4" cy="52.9" r="2.55" fill="#ff0000"/><circle cx="893.5" cy="54.9" r="2.55" fill="#ff0000"/><circle cx="902.5" cy="46.5" r="2.55" fill="#ff0000"/><circle cx="907" cy="48.4" r="2.55" fill="#ff0000"/><circle cx="909.6" cy="42.6" r="2.55" fill="#ff0000"/><circle cx="911.5" cy="44.6" r="2.55" fill="#ff0000"/><circle cx="912.2" cy="47.8" r="2.55" fill="#ff0000"/><circle cx="918.6" cy="42" r="2.55" fill="#ff0000"/><circle cx="922.5" cy="40.3" r="2.55" fill="#ff0000"/><circle cx="925.1" cy="46.5" r="2.55" fill="#ff0000"/><circle cx="921.2" cy="49.1" r="2.55" fill="#ff0000"/><circle cx="928.3" cy="52.9" r="2.55" fill="#ff0000"/><circle cx="915.7" cy="52.7" r="2.55" fill="#ff0000"/><circle cx="907" cy="52.9" r="2.55" fill="#ff0000"/><circle cx="919.9" cy="55.8" r="2.55" fill="#ff0000"/><circle cx="921.9" cy="60.4" r="2.55" fill="#ff0000"/><circle cx="914.8" cy="60" r="2.55" fill="#ff0000"/><circle cx="909.6" cy="60.9" r="2.55" fill="#ff0000"/><circle cx="938.4" cy="44.2" r="2.55" fill="#ff0000"/><circle cx="941.4" cy="45.8" r="2.55" fill="#ff0000"/><circle cx="944.4" cy="56.1" r="2.55" fill="#ff0000"/><circle cx="880.4" cy="52.9" r="2.55" fill="#ff0000"/><circle cx="882.6" cy="56.5" r="2.55" fill="#ff0000"/><circle cx="883.8" cy="57.4" r="2.55" fill="#ff0000"/><circle cx="879.3" cy="60.7" r="2.55" fill="#ff0000"/><circle cx="878" cy="63.9" r="2.55" fill="#ff0000"/><circle cx="881.9" cy="64.5" r="2.55" fill="#ff0000"/><circle cx="883.2" cy="67.7" r="2.55" fill="#ff0000"/><circle cx="894.8" cy="66.8" r="2.55" fill="#ff0000"/><circle cx="898.7" cy="67.7" r="2.55" fill="#ff0000"/><circle cx="901.9" cy="74.2" r="2.55" fill="#ff0000"/><circle cx="891.6" cy="77.7" r="2.55" fill="#ff0000"/><circle cx="895.1" cy="80.6" r="2.55" fill="#ff0000"/><circle cx="890.7" cy="82.3" r="2.55" fill="#ff0000"/><circle cx="895.8" cy="87.7" r="2.55" fill="#ff0000"/><circle cx="894.5" cy="92.6" r="2.55" fill="#ff0000"/><circle cx="864.1" cy="83.2" r="2.55" fill="#ff0000"/><circle cx="872.2" cy="83.2" r="2.55" fill="#ff0000"/><circle cx="873.1" cy="82.6" r="2.55" fill="#ff0000"/><circle cx="877.2" cy="64.5" r="2.55" fill="#ff0000"/><circle cx="882.4" cy="65.2" r="2.55" fill="#ff0000"/><circle cx="883" cy="68" r="2.55" fill="#ff0000"/><circle cx="894.6" cy="66.7" r="2.55" fill="#ff0000"/><circle cx="899.1" cy="68" r="2.55" fill="#ff0000"/><circle cx="902.4" cy="73.9" r="2.55" fill="#ff0000"/><circle cx="910.1" cy="61.3" r="2.55" fill="#ff0000"/><circle cx="891.4" cy="77.4" r="2.55" fill="#ff0000"/><circle cx="895.3" cy="80.6" r="2.55" fill="#ff0000"/><circle cx="890.8" cy="82.6" r="2.55" fill="#ff0000"/><circle cx="895.7" cy="87.7" r="2.55" fill="#ff0000"/><circle cx="894.6" cy="93.3" r="2.55" fill="#ff0000"/><circle cx="864.3" cy="83.5" r="2.55" fill="#ff0000"/><circle cx="856.6" cy="87.7" r="2.55" fill="#ff0000"/><circle cx="852.1" cy="90.9" r="2.55" fill="#ff0000"/><circle cx="854.7" cy="92.2" r="2.55" fill="#ff0000"/><circle cx="860.5" cy="92.9" r="2.55" fill="#ff0000"/><circle cx="857.2" cy="95.8" r="2.55" fill="#ff0000"/><circle cx="859.6" cy="100" r="2.55" fill="#ff0000"/><circle cx="851.4" cy="106.4" r="2.55" fill="#ff0000"/><circle cx="844.3" cy="110" r="2.55" fill="#ff0000"/><circle cx="839.2" cy="112.2" r="2.55" fill="#ff0000"/><circle cx="828.2" cy="136.1" r="2.55" fill="#ff0000"/><circle cx="1004" cy="54" r="2.55" fill="#ff0000"/>
</g>
<g clip-path="url(#ca5)">
<circle cx="1014.9" cy="32.3" r="2.55" fill="#00ffff"/><circle cx="1015.2" cy="37.5" r="2.55" fill="#00ffff"/><circle cx="1017.5" cy="63.2" r="2.55" fill="#00ffff"/><circle cx="1015.7" cy="71.8" r="2.55" fill="#00ffff"/><circle cx="1015.7" cy="85.6" r="2.55" fill="#00ffff"/><circle cx="1015.7" cy="90.7" r="2.55" fill="#00ffff"/><circle cx="1016.2" cy="95.9" r="2.55" fill="#00ffff"/><circle cx="1017.5" cy="98.5" r="2.55" fill="#00ffff"/><circle cx="1019.2" cy="97.6" r="2.55" fill="#00ffff"/><circle cx="1020" cy="104.5" r="2.55" fill="#00ffff"/><circle cx="1024.3" cy="102.8" r="2.55" fill="#00ffff"/><circle cx="1023.1" cy="106.2" r="2.55" fill="#00ffff"/><circle cx="1028.6" cy="107" r="2.55" fill="#00ffff"/><circle cx="1021.7" cy="112.2" r="2.55" fill="#00ffff"/><circle cx="1021.7" cy="114.8" r="2.55" fill="#00ffff"/><circle cx="1026.9" cy="112.7" r="2.55" fill="#00ffff"/><circle cx="1027.8" cy="115.6" r="2.55" fill="#00ffff"/><circle cx="1035.5" cy="114.8" r="2.55" fill="#00ffff"/><circle cx="1023.1" cy="119.9" r="2.55" fill="#00ffff"/><circle cx="1037.2" cy="124.2" r="2.55" fill="#00ffff"/><circle cx="1038.6" cy="129.9" r="2.55" fill="#00ffff"/><circle cx="1191" cy="146" r="2.55" fill="#00ffff"/>
<circle cx="1014.9" cy="27.2" r="2.55" fill="#ff0000"/><circle cx="1014.9" cy="30.6" r="2.55" fill="#ff0000"/><circle cx="1015.2" cy="39.2" r="2.55" fill="#ff0000"/><circle cx="1015.7" cy="44.3" r="2.55" fill="#ff0000"/><circle cx="1016.2" cy="47.8" r="2.55" fill="#ff0000"/><circle cx="1015.7" cy="52.1" r="2.55" fill="#ff0000"/><circle cx="1016.6" cy="56.4" r="2.55" fill="#ff0000"/><circle cx="1015.7" cy="61.5" r="2.55" fill="#ff0000"/><circle cx="1016.2" cy="66.7" r="2.55" fill="#ff0000"/><circle cx="1015.7" cy="73.5" r="2.55" fill="#ff0000"/><circle cx="1017.5" cy="77" r="2.55" fill="#ff0000"/><circle cx="1015.7" cy="82.1" r="2.55" fill="#ff0000"/><circle cx="1018.3" cy="80.4" r="2.55" fill="#ff0000"/><circle cx="1024.3" cy="82.5" r="2.55" fill="#ff0000"/><circle cx="1034.6" cy="83.3" r="2.55" fill="#ff0000"/><circle cx="1036.4" cy="83" r="2.55" fill="#ff0000"/><circle cx="1020" cy="87.3" r="2.55" fill="#ff0000"/><circle cx="1027.8" cy="87.3" r="2.55" fill="#ff0000"/><circle cx="1021.7" cy="91.6" r="2.55" fill="#ff0000"/><circle cx="1023.5" cy="92.4" r="2.55" fill="#ff0000"/><circle cx="1028.6" cy="92.4" r="2.55" fill="#ff0000"/><circle cx="1026" cy="95" r="2.55" fill="#ff0000"/><circle cx="1023.1" cy="99.7" r="2.55" fill="#ff0000"/><circle cx="1026.9" cy="106.2" r="2.55" fill="#ff0000"/><circle cx="1038.1" cy="110" r="2.55" fill="#ff0000"/><circle cx="1036.9" cy="112.2" r="2.55" fill="#ff0000"/><circle cx="1191" cy="136" r="2.55" fill="#ff0000"/>
</g>
<g clip-path="url(#cb0)">
<rect x="83" y="188.5" width="177.8" height="145.89999999999998" fill="url(#gA0)"/>
<rect x="136" y="188.5" width="10" height="145.89999999999998" fill="#25848e" fill-opacity="0.18"/>
<rect x="150" y="188.5" width="10" height="145.89999999999998" fill="#25848e" fill-opacity="0.12"/>
<rect x="168" y="188.5" width="5" height="145.89999999999998" fill="#25848e" fill-opacity="0.15"/>
<rect x="190" y="188.5" width="10" height="145.89999999999998" fill="#25848e" fill-opacity="0.12"/>
<circle cx="262" cy="228" r="75" fill="url(#ov0_0)"/>
<polygon points="83.1,334.0 89.3,331.4 97.0,329.4 106.2,326.3 115.5,324.0 124.7,320.9 132.4,317.0 138.6,311.9 141.7,314.7 144.0,312.4 146.0,319.3 150.9,316.3 157.1,313.2 160.2,307.0 163.3,304.7 165.6,306.2 168.7,311.6 177.9,297.0 188.7,296.2 197.9,288.5 201.0,290.8 203.3,287.0 208.7,285.4 211.0,279.3 215.7,264.1 236.3,247.6 240.4,239.4 244.5,226.2 247.8,209.7 249.0,205.0 251.5,193.5 252.5,191.0 254.4,188.5 260.8,188.5 260.8,334.4 83.0,334.4" fill="url(#gB0)" />
<polygon points="261.0,288.5 259.4,288.0 249.5,282.2 245.4,274.0 245.4,259.1 248.2,237.7 254.0,200.0 255.2,188.5 260.8,188.5" fill="url(#gC0)" />
<polyline points="83.1,334.0 89.3,331.4 97.0,329.4 106.2,326.3 115.5,324.0 124.7,320.9 132.4,317.0 138.6,311.9 141.7,314.7 144.0,312.4 146.0,319.3 150.9,316.3 157.1,313.2 160.2,307.0 163.3,304.7 165.6,306.2 168.7,311.6 177.9,297.0 188.7,296.2 197.9,288.5 201.0,290.8 203.3,287.0 208.7,285.4 211.0,279.3 215.7,264.1 236.3,247.6 240.4,239.4 244.5,226.2 247.8,209.7 249.0,205.0" fill="none" stroke="#000" stroke-width="3.1" stroke-linejoin="round" stroke-linecap="round"/>
<polyline points="251.5,193.5 252.5,191.0 254.4,188.5" fill="none" stroke="#000" stroke-width="3.1" stroke-linejoin="round" stroke-linecap="round"/>
<polyline points="261.0,288.5 259.4,288.0 249.5,282.2 245.4,274.0 245.4,259.1 248.2,237.7" fill="none" stroke="#000" stroke-width="3.1" stroke-linejoin="round" stroke-linecap="round"/>
<polyline points="254.0,200.0 255.2,188.5" fill="none" stroke="#000" stroke-width="3.1" stroke-linejoin="round" stroke-linecap="round"/>
<ellipse cx="143.2" cy="333.2" rx="2.2" ry="3.2" fill="#000"/>
<ellipse cx="134.5" cy="334.2" rx="1.6" ry="1.2" fill="#000"/>
<text transform="translate(250.2,198.5) rotate(-95)" font-family="Liberation Sans" font-size="16" text-anchor="middle" dominant-baseline="central">0</text>
<text transform="translate(250.8,224) rotate(-92)" font-family="Liberation Sans" font-size="16" text-anchor="middle" dominant-baseline="central">0.1</text>
<circle cx="159.4" cy="322.4" r="2.55" fill="#00ffff"/><circle cx="168.7" cy="324" r="2.55" fill="#00ffff"/><circle cx="150.9" cy="324.7" r="2.55" fill="#00ffff"/><circle cx="153.2" cy="327" r="2.55" fill="#00ffff"/><circle cx="141.7" cy="322.4" r="2.55" fill="#00ffff"/><circle cx="138.6" cy="324" r="2.55" fill="#00ffff"/><circle cx="134" cy="324.7" r="2.55" fill="#00ffff"/><circle cx="134" cy="330.1" r="2.55" fill="#00ffff"/><circle cx="136.3" cy="331.7" r="2.55" fill="#00ffff"/><circle cx="144.8" cy="329.4" r="2.55" fill="#00ffff"/><circle cx="159.4" cy="327.8" r="2.55" fill="#00ffff"/><circle cx="164.8" cy="329.4" r="2.55" fill="#00ffff"/><circle cx="178.7" cy="330.1" r="2.55" fill="#00ffff"/><circle cx="177.1" cy="331.7" r="2.55" fill="#00ffff"/><circle cx="188.7" cy="327.8" r="2.55" fill="#00ffff"/><circle cx="197.2" cy="328.6" r="2.55" fill="#00ffff"/><circle cx="202.6" cy="328.6" r="2.55" fill="#00ffff"/><circle cx="208" cy="327.8" r="2.55" fill="#00ffff"/><circle cx="214.9" cy="330.1" r="2.55" fill="#00ffff"/><circle cx="236.5" cy="328.3" r="2.55" fill="#00ffff"/><circle cx="259.6" cy="328.6" r="2.55" fill="#00ffff"/><circle cx="126.3" cy="327" r="2.55" fill="#00ffff"/><circle cx="121.6" cy="330.1" r="2.55" fill="#00ffff"/><circle cx="127.8" cy="330.1" r="2.55" fill="#00ffff"/><circle cx="113.9" cy="328.6" r="2.55" fill="#00ffff"/><circle cx="103.1" cy="330.9" r="2.55" fill="#00ffff"/><circle cx="95.4" cy="332.4" r="2.55" fill="#00ffff"/>
<circle cx="236.5" cy="282" r="2.55" fill="#ff0000"/><circle cx="214.9" cy="291.1" r="2.55" fill="#ff0000"/><circle cx="208" cy="295.4" r="2.55" fill="#ff0000"/><circle cx="202.6" cy="297.4" r="2.55" fill="#ff0000"/><circle cx="202.6" cy="302.4" r="2.55" fill="#ff0000"/><circle cx="197.2" cy="296.5" r="2.55" fill="#ff0000"/><circle cx="188.7" cy="303.1" r="2.55" fill="#ff0000"/><circle cx="179.9" cy="302.1" r="2.55" fill="#ff0000"/><circle cx="177.4" cy="307" r="2.55" fill="#ff0000"/><circle cx="164" cy="307.8" r="2.55" fill="#ff0000"/><circle cx="168.7" cy="313.9" r="2.55" fill="#ff0000"/><circle cx="158.6" cy="314.7" r="2.55" fill="#ff0000"/><circle cx="152.5" cy="316.3" r="2.55" fill="#ff0000"/><circle cx="145.5" cy="320.9" r="2.55" fill="#ff0000"/><circle cx="143.2" cy="313.2" r="2.55" fill="#ff0000"/><circle cx="140.1" cy="312.4" r="2.55" fill="#ff0000"/><circle cx="136.3" cy="319.3" r="2.55" fill="#ff0000"/><circle cx="134" cy="317" r="2.55" fill="#ff0000"/><circle cx="129.3" cy="322.4" r="2.55" fill="#ff0000"/><circle cx="124.7" cy="320.9" r="2.55" fill="#ff0000"/><circle cx="118.5" cy="322.4" r="2.55" fill="#ff0000"/><circle cx="118.5" cy="326.3" r="2.55" fill="#ff0000"/><circle cx="110.8" cy="325.5" r="2.55" fill="#ff0000"/><circle cx="106.2" cy="327.8" r="2.55" fill="#ff0000"/><circle cx="97.7" cy="327.8" r="2.55" fill="#ff0000"/><circle cx="89.3" cy="330.1" r="2.55" fill="#ff0000"/><circle cx="86.2" cy="331.7" r="2.55" fill="#ff0000"/><circle cx="259.6" cy="283.9" r="2.55" fill="#ff0000"/>
</g>
<g clip-path="url(#cb1)">
<rect x="269.2" y="188.5" width="177.8" height="145.89999999999998" fill="url(#gA1)"/>
<rect x="380" y="188.5" width="6" height="145.89999999999998" fill="#25848e" fill-opacity="0.12"/>
<rect x="395" y="188.5" width="10" height="145.89999999999998" fill="#25848e" fill-opacity="0.15"/>
<rect x="415" y="188.5" width="10" height="145.89999999999998" fill="#25848e" fill-opacity="0.15"/>
<circle cx="448" cy="215" r="55" fill="url(#ov1_0)"/>
<circle cx="432" cy="300" r="55" fill="url(#ov1_1)"/>
<polygon points="269.4,333.4 309.4,328.3 330.0,325.5 340.0,324.5 348.0,323.2 353.0,322.5 360.0,323.0 363.0,321.5 364.5,324.0 368.0,320.5 371.0,318.5 374.0,321.5 376.0,316.5 382.0,316.0 384.0,318.5 388.0,316.5 391.0,312.5 395.0,311.5 399.0,313.5 402.0,308.0 403.5,310.5 406.5,296.5 410.0,295.5 413.0,286.5 416.0,301.5 420.0,295.5 422.0,285.5 430.0,270.0 431.7,269.4 438.3,242.8 442.8,207.2 445.0,189.4 447.0,188.5 447.0,334.4 269.2,334.4" fill="url(#gB1)" />
<polygon points="447.0,290.0 443.0,287.0 440.5,283.0 444.5,230.0 445.5,205.0 447.0,188.5" fill="url(#gC1)" />
<polyline points="269.4,333.4 309.4,328.3 330.0,325.5 340.0,324.5 348.0,323.2 353.0,322.5 360.0,323.0 363.0,321.5 364.5,324.0 368.0,320.5 371.0,318.5 374.0,321.5 376.0,316.5 382.0,316.0 384.0,318.5 388.0,316.5 391.0,312.5 395.0,311.5 399.0,313.5 402.0,308.0 403.5,310.5 406.5,296.5 410.0,295.5 413.0,286.5 416.0,301.5 420.0,295.5 422.0,285.5 430.0,270.0 431.7,269.4 438.3,242.8 442.8,207.2 445.0,189.4" fill="none" stroke="#000" stroke-width="3.1" stroke-linejoin="round" stroke-linecap="round"/>
<polyline points="447.0,290.0 443.0,287.0 440.5,283.0" fill="none" stroke="#000" stroke-width="3.1" stroke-linejoin="round" stroke-linecap="round"/>
<polyline points="444.5,230.0 445.5,205.0" fill="none" stroke="#000" stroke-width="3.1" stroke-linejoin="round" stroke-linecap="round"/>
<ellipse cx="380.5" cy="333.8" rx="3" ry="1.8" fill="#000"/>
<ellipse cx="394.5" cy="333" rx="1.8" ry="2.6" fill="#000"/>
<text transform="translate(439,207) rotate(92)" font-family="Liberation Sans" font-size="16" text-anchor="middle" dominant-baseline="central">0</text>
<text transform="translate(442,266) rotate(92)" font-family="Liberation Sans" font-size="16" text-anchor="middle" dominant-baseline="central">0.1</text>
<circle cx="339" cy="329" r="2.55" fill="#00ffff"/><circle cx="344" cy="330" r="2.55" fill="#00ffff"/><circle cx="349" cy="330.5" r="2.55" fill="#00ffff"/><circle cx="354" cy="327.5" r="2.55" fill="#00ffff"/><circle cx="363" cy="329" r="2.55" fill="#00ffff"/><circle cx="367" cy="330.5" r="2.55" fill="#00ffff"/><circle cx="371" cy="323.5" r="2.55" fill="#00ffff"/><circle cx="377" cy="324.5" r="2.55" fill="#00ffff"/><circle cx="378.5" cy="321.5" r="2.55" fill="#00ffff"/><circle cx="383" cy="330" r="2.55" fill="#00ffff"/><circle cx="386" cy="326" r="2.55" fill="#00ffff"/><circle cx="390" cy="324" r="2.55" fill="#00ffff"/><circle cx="392" cy="320.5" r="2.55" fill="#00ffff"/><circle cx="394" cy="319" r="2.55" fill="#00ffff"/><circle cx="391" cy="328" r="2.55" fill="#00ffff"/><circle cx="397.5" cy="331" r="2.55" fill="#00ffff"/><circle cx="402" cy="328" r="2.55" fill="#00ffff"/><circle cx="404" cy="331" r="2.55" fill="#00ffff"/><circle cx="407" cy="330.5" r="2.55" fill="#00ffff"/><circle cx="411" cy="328" r="2.55" fill="#00ffff"/><circle cx="414" cy="329" r="2.55" fill="#00ffff"/><circle cx="416" cy="329.5" r="2.55" fill="#00ffff"/><circle cx="420.5" cy="329.5" r="2.55" fill="#00ffff"/><circle cx="431.5" cy="330" r="2.55" fill="#00ffff"/><circle cx="435.5" cy="328" r="2.55" fill="#00ffff"/><circle cx="446" cy="329" r="2.55" fill="#00ffff"/><circle cx="310" cy="331.5" r="2.55" fill="#00ffff"/><circle cx="320" cy="331" r="2.55" fill="#00ffff"/>
<circle cx="338.5" cy="325" r="2.55" fill="#ff0000"/><circle cx="343" cy="328" r="2.55" fill="#ff0000"/><circle cx="349" cy="326" r="2.55" fill="#ff0000"/><circle cx="353.5" cy="324.5" r="2.55" fill="#ff0000"/><circle cx="362" cy="322" r="2.55" fill="#ff0000"/><circle cx="364.5" cy="327" r="2.55" fill="#ff0000"/><circle cx="365.5" cy="320" r="2.55" fill="#ff0000"/><circle cx="371" cy="317" r="2.55" fill="#ff0000"/><circle cx="375" cy="323.5" r="2.55" fill="#ff0000"/><circle cx="376" cy="317" r="2.55" fill="#ff0000"/><circle cx="383" cy="318" r="2.55" fill="#ff0000"/><circle cx="385.5" cy="320" r="2.55" fill="#ff0000"/><circle cx="386.5" cy="314" r="2.55" fill="#ff0000"/><circle cx="392" cy="314.5" r="2.55" fill="#ff0000"/><circle cx="397.5" cy="319" r="2.55" fill="#ff0000"/><circle cx="403" cy="319" r="2.55" fill="#ff0000"/><circle cx="407" cy="307.5" r="2.55" fill="#ff0000"/><circle cx="411" cy="302" r="2.55" fill="#ff0000"/><circle cx="412" cy="303" r="2.55" fill="#ff0000"/><circle cx="415" cy="308" r="2.55" fill="#ff0000"/><circle cx="420" cy="302.5" r="2.55" fill="#ff0000"/><circle cx="420.5" cy="297" r="2.55" fill="#ff0000"/><circle cx="414" cy="296" r="2.55" fill="#ff0000"/><circle cx="431.5" cy="291" r="2.55" fill="#ff0000"/><circle cx="435" cy="282" r="2.55" fill="#ff0000"/><circle cx="446" cy="284" r="2.55" fill="#ff0000"/><circle cx="293.9" cy="330.6" r="2.55" fill="#ff0000"/><circle cx="300.6" cy="330.6" r="2.55" fill="#ff0000"/><circle cx="319.4" cy="328.3" r="2.55" fill="#ff0000"/><circle cx="323.9" cy="327.2" r="2.55" fill="#ff0000"/><circle cx="331" cy="327" r="2.55" fill="#ff0000"/>
</g>
<g clip-path="url(#cb2)">
<rect x="455.4" y="188.5" width="177.8" height="145.89999999999998" fill="url(#gA2L)"/>
<polygon points="511.5,188.5 511.5,275.0 512.4,275.0 513.2,262.8 524.3,247.2 551.0,229.4 575.4,211.7 608.8,188.5 633.2,188.5" fill="url(#gA2R)" />
<rect x="462" y="188.5" width="8" height="145.89999999999998" fill="#25848e" fill-opacity="0.3"/>
<rect x="478" y="188.5" width="6" height="145.89999999999998" fill="#25848e" fill-opacity="0.3"/>
<rect x="494" y="188.5" width="6" height="145.89999999999998" fill="#25848e" fill-opacity="0.3"/>
<rect x="505" y="188.5" width="6.5" height="145.89999999999998" fill="#25848e" fill-opacity="0.35"/>
<polygon points="455.4,333.8 457.8,326.5 459.8,330.4 461.7,322.6 464.7,321.6 466.6,318.7 469.0,324.5 471.0,326.5 474.4,320.6 478.3,313.8 480.2,322.6 486.1,317.7 489.0,308.9 492.9,296.3 494.8,322.6 498.7,308.9 501.7,289.5 503.6,289.5 505.1,300.2 507.0,290.9 509.4,309.9 510.9,287.0 512.4,275.0 513.2,262.8 524.3,247.2 551.0,229.4 575.4,211.7 608.8,188.5 633.2,188.5 633.2,334.4 455.4,334.4" fill="url(#gB2)" />
<polygon points="633.4,191.2 624.3,199.4 619.0,203.0 604.0,214.0 599.9,218.3 584.3,231.7 573.2,247.2 566.6,256.1 563.2,268.3 566.6,273.9 575.4,280.6 597.7,283.9 633.4,288.3 633.2,288.3" fill="url(#gC2)" />
<polyline points="455.4,333.8 457.8,326.5 459.8,330.4 461.7,322.6 464.7,321.6 466.6,318.7 469.0,324.5 471.0,326.5 474.4,320.6 478.3,313.8 480.2,322.6 486.1,317.7 489.0,308.9 492.9,296.3 494.8,322.6 498.7,308.9 501.7,289.5 503.6,289.5 505.1,300.2 507.0,290.9 509.4,309.9 510.9,287.0" fill="none" stroke="#000" stroke-width="3.1" stroke-linejoin="round" stroke-linecap="round"/>
<polyline points="512.4,275.0 513.2,262.8 524.3,247.2 551.0,229.4 575.4,211.7 608.8,188.5" fill="none" stroke="#000" stroke-width="3.1" stroke-linejoin="round" stroke-linecap="round"/>
<polyline points="633.4,191.2 624.3,199.4 619.0,203.0" fill="none" stroke="#000" stroke-width="3.1" stroke-linejoin="round" stroke-linecap="round"/>
<polyline points="604.0,214.0 599.9,218.3 584.3,231.7 573.2,247.2 566.6,256.1 563.2,268.3 566.6,273.9 575.4,280.6 597.7,283.9 633.4,288.3" fill="none" stroke="#000" stroke-width="3.1" stroke-linejoin="round" stroke-linecap="round"/>
<ellipse cx="487.5" cy="333" rx="1.8" ry="3" fill="#000"/>
<text transform="translate(510.2,281.7) rotate(90)" font-family="Liberation Sans" font-size="16" text-anchor="middle" dominant-baseline="central">0</text>
<text transform="translate(611.5,207.5) rotate(-36)" font-family="Liberation Sans" font-size="16" text-anchor="middle" dominant-baseline="central">0.1</text>
<circle cx="523.1" cy="328.4" r="2.55" fill="#00ffff"/><circle cx="512.4" cy="330.4" r="2.55" fill="#00ffff"/><circle cx="508.5" cy="326.5" r="2.55" fill="#00ffff"/><circle cx="506.5" cy="323.6" r="2.55" fill="#00ffff"/><circle cx="503.6" cy="328.4" r="2.55" fill="#00ffff"/><circle cx="498.7" cy="328.4" r="2.55" fill="#00ffff"/><circle cx="494.8" cy="329.4" r="2.55" fill="#00ffff"/><circle cx="490.9" cy="328.4" r="2.55" fill="#00ffff"/><circle cx="488.5" cy="329.4" r="2.55" fill="#00ffff"/><circle cx="486.1" cy="323.6" r="2.55" fill="#00ffff"/><circle cx="488" cy="319.7" r="2.55" fill="#00ffff"/><circle cx="481.2" cy="328.4" r="2.55" fill="#00ffff"/><circle cx="478.3" cy="324.5" r="2.55" fill="#00ffff"/><circle cx="476.3" cy="328.4" r="2.55" fill="#00ffff"/><circle cx="472" cy="332.3" r="2.55" fill="#00ffff"/><circle cx="466.6" cy="332.3" r="2.55" fill="#00ffff"/><circle cx="632" cy="330" r="2.55" fill="#00ffff"/>
<circle cx="523.1" cy="281.9" r="2.55" fill="#ff0000"/><circle cx="512.9" cy="290.9" r="2.55" fill="#ff0000"/><circle cx="511.9" cy="297.8" r="2.55" fill="#ff0000"/><circle cx="501.2" cy="296.3" r="2.55" fill="#ff0000"/><circle cx="504.6" cy="302.1" r="2.55" fill="#ff0000"/><circle cx="497.3" cy="302.1" r="2.55" fill="#ff0000"/><circle cx="503.1" cy="307" r="2.55" fill="#ff0000"/><circle cx="490.5" cy="308" r="2.55" fill="#ff0000"/><circle cx="506" cy="312.8" r="2.55" fill="#ff0000"/><circle cx="508.5" cy="314.3" r="2.55" fill="#ff0000"/><circle cx="511.9" cy="319.2" r="2.55" fill="#ff0000"/><circle cx="499.7" cy="318.7" r="2.55" fill="#ff0000"/><circle cx="494.4" cy="324.5" r="2.55" fill="#ff0000"/><circle cx="487.1" cy="312.8" r="2.55" fill="#ff0000"/><circle cx="477.8" cy="309.9" r="2.55" fill="#ff0000"/><circle cx="480.7" cy="314.8" r="2.55" fill="#ff0000"/><circle cx="472" cy="312.8" r="2.55" fill="#ff0000"/><circle cx="468.1" cy="317.7" r="2.55" fill="#ff0000"/><circle cx="462.7" cy="322.6" r="2.55" fill="#ff0000"/><circle cx="457.8" cy="326" r="2.55" fill="#ff0000"/><circle cx="464.7" cy="326.5" r="2.55" fill="#ff0000"/><circle cx="471.5" cy="330.9" r="2.55" fill="#ff0000"/><circle cx="479.8" cy="326.5" r="2.55" fill="#ff0000"/><circle cx="457.4" cy="330.4" r="2.55" fill="#ff0000"/><circle cx="461.7" cy="332.3" r="2.55" fill="#ff0000"/><circle cx="632" cy="284" r="2.55" fill="#ff0000"/>
</g>
<g clip-path="url(#cb3)">
<rect x="641.4" y="188.5" width="177.8" height="145.89999999999998" fill="url(#gA3L)"/>
<polygon points="735.0,188.5 735.0,270.0 734.5,270.0 734.8,260.6 739.2,247.2 761.4,231.7 785.9,207.2 789.0,203.0 797.0,192.5 801.4,188.5 819.2,188.5" fill="url(#gA3R)" />
<rect x="660" y="188.5" width="12" height="145.89999999999998" fill="#25848e" fill-opacity="0.3"/>
<rect x="700" y="188.5" width="12" height="145.89999999999998" fill="#25848e" fill-opacity="0.35"/>
<rect x="728" y="188.5" width="7" height="145.89999999999998" fill="#25848e" fill-opacity="0.35"/>
<polygon points="641.4,333.4 644.8,328.5 647.7,331.4 652.6,324.6 655.5,326.5 659.4,323.1 664.3,321.7 667.2,316.8 669.2,324.6 672.1,312.9 675.0,323.6 678.9,314.8 682.8,312.9 685.8,315.8 688.7,315.8 695.5,311.9 697.5,317.8 702.3,290.5 704.3,287.5 711.1,288.0 713.0,295.8 719.9,296.3 722.8,310.9 724.7,311.9 727.7,287.5 730.6,297.3 734.5,270.0 734.8,260.6 739.2,247.2 761.4,231.7 785.9,207.2 789.0,203.0 797.0,192.5 801.4,188.5 819.2,188.5 819.2,334.4 641.4,334.4" fill="url(#gB3)" />
<polygon points="819.4,191.2 805.9,205.0 801.0,210.0 789.0,225.0 783.7,232.8 777.0,245.0 770.3,262.8 771.4,273.9 779.2,280.6 797.0,286.1 819.4,288.3 819.2,288.3" fill="url(#gC3)" />
<polyline points="641.4,333.4 644.8,328.5 647.7,331.4 652.6,324.6 655.5,326.5 659.4,323.1 664.3,321.7 667.2,316.8 669.2,324.6 672.1,312.9 675.0,323.6 678.9,314.8 682.8,312.9 685.8,315.8 688.7,315.8 695.5,311.9 697.5,317.8 702.3,290.5 704.3,287.5 711.1,288.0 713.0,295.8 719.9,296.3 722.8,310.9 724.7,311.9 727.7,287.5 730.6,297.3 734.5,270.0 734.8,260.6 739.2,247.2 761.4,231.7 785.9,207.2 789.0,203.0" fill="none" stroke="#000" stroke-width="3.1" stroke-linejoin="round" stroke-linecap="round"/>
<polyline points="797.0,192.5 801.4,188.5" fill="none" stroke="#000" stroke-width="3.1" stroke-linejoin="round" stroke-linecap="round"/>
<polyline points="819.4,191.2 805.9,205.0 801.0,210.0" fill="none" stroke="#000" stroke-width="3.1" stroke-linejoin="round" stroke-linecap="round"/>
<polyline points="789.0,225.0 783.7,232.8 777.0,245.0 770.3,262.8 771.4,273.9 779.2,280.6 797.0,286.1 819.4,288.3" fill="none" stroke="#000" stroke-width="3.1" stroke-linejoin="round" stroke-linecap="round"/>
<ellipse cx="668.7" cy="334" rx="1.8" ry="1.4" fill="#000"/>
<text transform="translate(793,197) rotate(-48)" font-family="Liberation Sans" font-size="16" text-anchor="middle" dominant-baseline="central">0</text>
<text transform="translate(795.5,217) rotate(-55)" font-family="Liberation Sans" font-size="16" text-anchor="middle" dominant-baseline="central">0.1</text>
<circle cx="739.4" cy="328.5" r="2.55" fill="#00ffff"/><circle cx="733.5" cy="330.4" r="2.55" fill="#00ffff"/><circle cx="730.6" cy="329.5" r="2.55" fill="#00ffff"/><circle cx="727.7" cy="330.4" r="2.55" fill="#00ffff"/><circle cx="725.2" cy="331.9" r="2.55" fill="#00ffff"/><circle cx="720.8" cy="328.5" r="2.55" fill="#00ffff"/><circle cx="719.9" cy="330.9" r="2.55" fill="#00ffff"/><circle cx="712.1" cy="328.5" r="2.55" fill="#00ffff"/><circle cx="706.2" cy="328.5" r="2.55" fill="#00ffff"/><circle cx="702.3" cy="328.5" r="2.55" fill="#00ffff"/><circle cx="698.4" cy="330.4" r="2.55" fill="#00ffff"/><circle cx="695.5" cy="325.6" r="2.55" fill="#00ffff"/><circle cx="698.4" cy="324.1" r="2.55" fill="#00ffff"/><circle cx="688.7" cy="329.9" r="2.55" fill="#00ffff"/><circle cx="682.8" cy="330.9" r="2.55" fill="#00ffff"/><circle cx="680.9" cy="326.5" r="2.55" fill="#00ffff"/><circle cx="678.9" cy="328.5" r="2.55" fill="#00ffff"/><circle cx="676.5" cy="329.5" r="2.55" fill="#00ffff"/><circle cx="672.1" cy="329.5" r="2.55" fill="#00ffff"/><circle cx="686.7" cy="323.6" r="2.55" fill="#00ffff"/><circle cx="681.9" cy="321.7" r="2.55" fill="#00ffff"/><circle cx="662.4" cy="328.5" r="2.55" fill="#00ffff"/><circle cx="657.5" cy="328.5" r="2.55" fill="#00ffff"/><circle cx="644.3" cy="333.4" r="2.55" fill="#00ffff"/><circle cx="818.1" cy="328.3" r="2.55" fill="#00ffff"/>
<circle cx="739.4" cy="281.9" r="2.55" fill="#ff0000"/><circle cx="734.5" cy="291" r="2.55" fill="#ff0000"/><circle cx="730.6" cy="302.2" r="2.55" fill="#ff0000"/><circle cx="731.1" cy="308" r="2.55" fill="#ff0000"/><circle cx="725.2" cy="318.7" r="2.55" fill="#ff0000"/><circle cx="719.9" cy="307" r="2.55" fill="#ff0000"/><circle cx="720.4" cy="310.9" r="2.55" fill="#ff0000"/><circle cx="712.1" cy="303.6" r="2.55" fill="#ff0000"/><circle cx="711.1" cy="296.8" r="2.55" fill="#ff0000"/><circle cx="705.7" cy="297.8" r="2.55" fill="#ff0000"/><circle cx="703.8" cy="295.8" r="2.55" fill="#ff0000"/><circle cx="698.9" cy="301.2" r="2.55" fill="#ff0000"/><circle cx="699.4" cy="312.9" r="2.55" fill="#ff0000"/><circle cx="701.4" cy="319.2" r="2.55" fill="#ff0000"/><circle cx="697.9" cy="321.7" r="2.55" fill="#ff0000"/><circle cx="688.7" cy="319.7" r="2.55" fill="#ff0000"/><circle cx="686.7" cy="313.9" r="2.55" fill="#ff0000"/><circle cx="682.8" cy="318.7" r="2.55" fill="#ff0000"/><circle cx="682.8" cy="324.1" r="2.55" fill="#ff0000"/><circle cx="682.3" cy="313.4" r="2.55" fill="#ff0000"/><circle cx="673.1" cy="312.4" r="2.55" fill="#ff0000"/><circle cx="669.2" cy="313.9" r="2.55" fill="#ff0000"/><circle cx="665.8" cy="317.3" r="2.55" fill="#ff0000"/><circle cx="667.2" cy="323.6" r="2.55" fill="#ff0000"/><circle cx="672.1" cy="326" r="2.55" fill="#ff0000"/><circle cx="674.6" cy="326.5" r="2.55" fill="#ff0000"/><circle cx="669.2" cy="330.9" r="2.55" fill="#ff0000"/><circle cx="661.9" cy="326" r="2.55" fill="#ff0000"/><circle cx="660.4" cy="321.7" r="2.55" fill="#ff0000"/><circle cx="656.5" cy="322.6" r="2.55" fill="#ff0000"/><circle cx="652.6" cy="323.6" r="2.55" fill="#ff0000"/><circle cx="655.5" cy="329.9" r="2.55" fill="#ff0000"/><circle cx="644.8" cy="327.5" r="2.55" fill="#ff0000"/><circle cx="647.7" cy="333.4" r="2.55" fill="#ff0000"/><circle cx="818.1" cy="283.9" r="2.55" fill="#ff0000"/>
</g>
<g clip-path="url(#cb4)">
<rect x="827.5" y="188.5" width="177.8" height="145.89999999999998" fill="url(#gA4)"/>
<circle cx="826" cy="212" r="60" fill="url(#ov4_0)"/>
<polygon points="827.5,188.5 829.7,188.5 833.0,211.7 838.6,240.6 845.5,270.0 848.0,278.0 851.0,286.0 856.0,288.5 859.0,296.0 863.0,296.5 868.0,300.0 873.0,305.0 875.0,310.0 880.0,312.0 884.0,316.0 889.0,318.0 894.0,319.5 899.0,319.0 902.0,323.0 907.0,324.5 911.0,324.5 914.0,327.0 919.0,329.5 924.0,329.0 929.0,330.0 939.0,330.0 941.5,331.0 943.0,326.0 971.9,329.4 975.0,330.0 985.0,331.5 987.4,331.7 1005.2,333.9 1005.3,334.4 827.5,334.4" fill="url(#gB4)" />
<polygon points="827.5,288.5 828.0,288.0 832.0,284.0 834.5,278.0 835.0,270.0 834.2,250.0 833.0,232.0 830.0,200.0 829.5,192.0 827.5,188.5" fill="url(#gC4)" />
<polyline points="829.7,188.5 833.0,211.7 838.6,240.6 845.5,270.0 848.0,278.0 851.0,286.0 856.0,288.5 859.0,296.0 863.0,296.5 868.0,300.0 873.0,305.0 875.0,310.0 880.0,312.0 884.0,316.0 889.0,318.0 894.0,319.5 899.0,319.0 902.0,323.0 907.0,324.5 911.0,324.5 914.0,327.0 919.0,329.5 924.0,329.0 929.0,330.0 939.0,330.0 941.5,331.0 943.0,326.0 971.9,329.4 975.0,330.0" fill="none" stroke="#000" stroke-width="3.1" stroke-linejoin="round" stroke-linecap="round"/>
<polyline points="985.0,331.5 987.4,331.7 1005.2,333.9" fill="none" stroke="#000" stroke-width="3.1" stroke-linejoin="round" stroke-linecap="round"/>
<polyline points="827.5,288.5 828.0,288.0 832.0,284.0 834.5,278.0 835.0,270.0 834.2,250.0 833.0,232.0" fill="none" stroke="#000" stroke-width="3.1" stroke-linejoin="round" stroke-linecap="round"/>
<polyline points="830.0,200.0 829.5,192.0" fill="none" stroke="#000" stroke-width="3.1" stroke-linejoin="round" stroke-linecap="round"/>
<ellipse cx="889" cy="334.2" rx="1.6" ry="1.2" fill="#000"/>
<text transform="translate(830,202) rotate(-95)" font-family="Liberation Sans" font-size="16" text-anchor="middle" dominant-baseline="central">0.1</text>
<text transform="translate(980,331) rotate(5)" font-family="Liberation Sans" font-size="16" text-anchor="middle" dominant-baseline="central">0</text>
<circle cx="828" cy="329" r="2.55" fill="#00ffff"/><circle cx="839" cy="328.5" r="2.55" fill="#00ffff"/><circle cx="844.5" cy="330.5" r="2.55" fill="#00ffff"/><circle cx="852" cy="328" r="2.55" fill="#00ffff"/><circle cx="854" cy="329.5" r="2.55" fill="#00ffff"/><circle cx="858" cy="329" r="2.55" fill="#00ffff"/><circle cx="860" cy="328" r="2.55" fill="#00ffff"/><circle cx="864" cy="330" r="2.55" fill="#00ffff"/><circle cx="859.5" cy="331" r="2.55" fill="#00ffff"/><circle cx="872.5" cy="329" r="2.55" fill="#00ffff"/><circle cx="877" cy="324" r="2.55" fill="#00ffff"/><circle cx="879.5" cy="320" r="2.55" fill="#00ffff"/><circle cx="883" cy="322" r="2.55" fill="#00ffff"/><circle cx="887" cy="323" r="2.55" fill="#00ffff"/><circle cx="884" cy="327" r="2.55" fill="#00ffff"/><circle cx="891" cy="330" r="2.55" fill="#00ffff"/><circle cx="894" cy="328" r="2.55" fill="#00ffff"/><circle cx="897" cy="330" r="2.55" fill="#00ffff"/><circle cx="902" cy="330" r="2.55" fill="#00ffff"/><circle cx="896" cy="332" r="2.55" fill="#00ffff"/><circle cx="909" cy="331" r="2.55" fill="#00ffff"/><circle cx="920" cy="333" r="2.55" fill="#00ffff"/><circle cx="928" cy="331.5" r="2.55" fill="#00ffff"/>
<circle cx="839" cy="282" r="2.55" fill="#ff0000"/><circle cx="828.5" cy="284" r="2.55" fill="#ff0000"/><circle cx="844.5" cy="291" r="2.55" fill="#ff0000"/><circle cx="852" cy="295.5" r="2.55" fill="#ff0000"/><circle cx="855" cy="297" r="2.55" fill="#ff0000"/><circle cx="851.5" cy="302.5" r="2.55" fill="#ff0000"/><circle cx="857" cy="301" r="2.55" fill="#ff0000"/><circle cx="860" cy="303" r="2.55" fill="#ff0000"/><circle cx="864" cy="302.5" r="2.55" fill="#ff0000"/><circle cx="859.5" cy="307.5" r="2.55" fill="#ff0000"/><circle cx="871.5" cy="308" r="2.55" fill="#ff0000"/><circle cx="873" cy="311" r="2.55" fill="#ff0000"/><circle cx="877" cy="314" r="2.55" fill="#ff0000"/><circle cx="880" cy="314" r="2.55" fill="#ff0000"/><circle cx="884" cy="318" r="2.55" fill="#ff0000"/><circle cx="889" cy="317" r="2.55" fill="#ff0000"/><circle cx="891" cy="324" r="2.55" fill="#ff0000"/><circle cx="894" cy="319" r="2.55" fill="#ff0000"/><circle cx="898" cy="323" r="2.55" fill="#ff0000"/><circle cx="903" cy="321" r="2.55" fill="#ff0000"/><circle cx="907" cy="328" r="2.55" fill="#ff0000"/><circle cx="910" cy="323" r="2.55" fill="#ff0000"/><circle cx="912" cy="324" r="2.55" fill="#ff0000"/><circle cx="915" cy="326" r="2.55" fill="#ff0000"/><circle cx="919" cy="330" r="2.55" fill="#ff0000"/><circle cx="922" cy="332" r="2.55" fill="#ff0000"/><circle cx="925" cy="328" r="2.55" fill="#ff0000"/><circle cx="928" cy="329" r="2.55" fill="#ff0000"/><circle cx="939" cy="328.5" r="2.55" fill="#ff0000"/><circle cx="941" cy="333" r="2.55" fill="#ff0000"/><circle cx="943.5" cy="327" r="2.55" fill="#ff0000"/>
</g>
<g clip-path="url(#cb5)">
<rect x="1013.7" y="188.5" width="177.8" height="145.89999999999998" fill="url(#gA5L)"/>
<polygon points="1037.0,188.5 1037.0,277.9 1036.5,277.9 1037.0,262.8 1036.8,249.4 1037.9,262.8 1053.4,256.1 1073.4,247.2 1097.9,229.4 1124.6,211.7 1164.6,188.5 1191.5,188.5" fill="url(#gA5R)" />
<rect x="1018" y="188.5" width="6" height="145.89999999999998" fill="#25848e" fill-opacity="0.35"/>
<rect x="1030" y="188.5" width="7" height="145.89999999999998" fill="#25848e" fill-opacity="0.35"/>
<polygon points="1014.1,333.2 1015.3,312.5 1017.5,320.3 1020.8,295.8 1024.2,306.9 1025.9,293.5 1029.8,312.5 1034.8,303.6 1036.5,277.9 1037.0,262.8 1036.8,249.4 1037.9,262.8 1053.4,256.1 1073.4,247.2 1097.9,229.4 1124.6,211.7 1164.6,188.5 1191.5,188.5 1191.5,334.4 1013.7,334.4" fill="url(#gB5)" />
<polygon points="1191.7,190.6 1164.6,207.2 1142.3,222.8 1129.0,238.3 1123.4,251.7 1121.2,262.8 1126.8,273.9 1137.9,278.3 1149.0,280.6 1152.0,281.0 1172.0,285.8 1175.7,286.1 1191.7,288.3 1191.5,288.3" fill="url(#gC5)" />
<polyline points="1014.1,333.2 1015.3,312.5 1017.5,320.3 1020.8,295.8 1024.2,306.9 1025.9,293.5 1029.8,312.5 1034.8,303.6 1036.5,277.9" fill="none" stroke="#000" stroke-width="3.1" stroke-linejoin="round" stroke-linecap="round"/>
<polyline points="1037.0,262.8 1036.8,249.4 1037.9,262.8 1053.4,256.1 1073.4,247.2 1097.9,229.4 1124.6,211.7 1164.6,188.5" fill="none" stroke="#000" stroke-width="3.1" stroke-linejoin="round" stroke-linecap="round"/>
<polyline points="1191.7,190.6 1164.6,207.2 1142.3,222.8 1129.0,238.3 1123.4,251.7 1121.2,262.8 1126.8,273.9 1137.9,278.3 1149.0,280.6 1152.0,281.0" fill="none" stroke="#000" stroke-width="3.1" stroke-linejoin="round" stroke-linecap="round"/>
<polyline points="1172.0,285.8 1175.7,286.1 1191.7,288.3" fill="none" stroke="#000" stroke-width="3.1" stroke-linejoin="round" stroke-linecap="round"/>
<text transform="translate(1035.7,269.6) rotate(90)" font-family="Liberation Sans" font-size="16" text-anchor="middle" dominant-baseline="central">0</text>
<text transform="translate(1162,284) rotate(5)" font-family="Liberation Sans" font-size="16" text-anchor="middle" dominant-baseline="central">0.1</text>
<circle cx="1019.2" cy="329.8" r="2.55" fill="#00ffff"/><circle cx="1022.5" cy="328.2" r="2.55" fill="#00ffff"/><circle cx="1026.4" cy="328.7" r="2.55" fill="#00ffff"/><circle cx="1028.1" cy="331" r="2.55" fill="#00ffff"/><circle cx="1034.8" cy="329.3" r="2.55" fill="#00ffff"/><circle cx="1038.2" cy="329.8" r="2.55" fill="#00ffff"/><circle cx="1018.1" cy="332.1" r="2.55" fill="#00ffff"/><circle cx="1191" cy="330" r="2.55" fill="#00ffff"/>
<circle cx="1037.6" cy="281.8" r="2.55" fill="#ff0000"/><circle cx="1038.7" cy="290.7" r="2.55" fill="#ff0000"/><circle cx="1037" cy="302.5" r="2.55" fill="#ff0000"/><circle cx="1034.8" cy="308" r="2.55" fill="#ff0000"/><circle cx="1028.7" cy="318.7" r="2.55" fill="#ff0000"/><circle cx="1024.2" cy="310.8" r="2.55" fill="#ff0000"/><circle cx="1028.7" cy="296.3" r="2.55" fill="#ff0000"/><circle cx="1021.4" cy="295.8" r="2.55" fill="#ff0000"/><circle cx="1020.8" cy="319.2" r="2.55" fill="#ff0000"/><circle cx="1016.9" cy="326.5" r="2.55" fill="#ff0000"/><circle cx="1018.6" cy="322" r="2.55" fill="#ff0000"/><circle cx="1015.8" cy="313.6" r="2.55" fill="#ff0000"/><circle cx="1191" cy="284" r="2.55" fill="#ff0000"/>
</g>
<rect x="83" y="25.4" width="177.8" height="146.0" fill="none" stroke="#1a1a1a" stroke-width="1.1"/>
<rect x="83" y="188.5" width="177.8" height="145.89999999999998" fill="none" stroke="#1a1a1a" stroke-width="1.1"/>
<rect x="269.2" y="25.4" width="177.8" height="146.0" fill="none" stroke="#1a1a1a" stroke-width="1.1"/>
<rect x="269.2" y="188.5" width="177.8" height="145.89999999999998" fill="none" stroke="#1a1a1a" stroke-width="1.1"/>
<rect x="455.4" y="25.4" width="177.8" height="146.0" fill="none" stroke="#1a1a1a" stroke-width="1.1"/>
<rect x="455.4" y="188.5" width="177.8" height="145.89999999999998" fill="none" stroke="#1a1a1a" stroke-width="1.1"/>
<rect x="641.4" y="25.4" width="177.8" height="146.0" fill="none" stroke="#1a1a1a" stroke-width="1.1"/>
<rect x="641.4" y="188.5" width="177.8" height="145.89999999999998" fill="none" stroke="#1a1a1a" stroke-width="1.1"/>
<rect x="827.5" y="25.4" width="177.8" height="146.0" fill="none" stroke="#1a1a1a" stroke-width="1.1"/>
<rect x="827.5" y="188.5" width="177.8" height="145.89999999999998" fill="none" stroke="#1a1a1a" stroke-width="1.1"/>
<rect x="1013.7" y="25.4" width="177.8" height="146.0" fill="none" stroke="#1a1a1a" stroke-width="1.1"/>
<rect x="1013.7" y="188.5" width="177.8" height="145.89999999999998" fill="none" stroke="#1a1a1a" stroke-width="1.1"/>
<text x="169.8" y="15.2" font-family="Liberation Sans" font-size="17" text-anchor="middle" font-weight="bold" textLength="104.4" lengthAdjust="spacingAndGlyphs" >Surface Area</text>
<text x="358.6" y="15.2" font-family="Liberation Sans" font-size="17" text-anchor="middle" font-weight="bold" textLength="132.7" lengthAdjust="spacingAndGlyphs" >Void Fraction [-]</text>
<text x="536.1" y="15.2" font-family="Liberation Sans" font-size="17" text-anchor="middle" font-weight="bold" textLength="62.3" lengthAdjust="spacingAndGlyphs" >PLD [Å]</text>
<text x="730.5" y="15.2" font-family="Liberation Sans" font-size="17" text-anchor="middle" font-weight="bold" textLength="62.4" lengthAdjust="spacingAndGlyphs" >LCD [Å]</text>
<text x="852.7" y="15.2" font-family="Liberation Sans" font-size="17" text-anchor="start" font-weight="bold" >Density [g/cm<tspan font-size="11" dy="-6">3</tspan><tspan dy="6">]</tspan></text>
<text x="1018.3" y="15.2" font-family="Liberation Sans" font-size="17" text-anchor="start" font-weight="bold" >Channel Volume [Å<tspan font-size="11" dy="-6"> 3</tspan><tspan dy="6">]</tspan></text>
<text x="0.0" y="17.5" font-family="Liberation Sans" font-size="25" text-anchor="start" font-weight="bold" >a</text>
<text x="0.0" y="194.5" font-family="Liberation Sans" font-size="25" text-anchor="start" font-weight="bold" >b</text>
<text x="0.0" y="392.0" font-family="Liberation Sans" font-size="25" text-anchor="start" font-weight="bold" >c</text>
<text x="402.5" y="392.4" font-family="Liberation Sans" font-size="25" text-anchor="start" font-weight="bold" >d</text>
<line x1="79" y1="42.4" x2="83" y2="42.4" stroke="#000" stroke-width="1"/>
<text x="77.0" y="47.9" font-family="Liberation Sans" font-size="15.5" text-anchor="end" textLength="17.1" lengthAdjust="spacingAndGlyphs" >30</text>
<line x1="79" y1="85.3" x2="83" y2="85.3" stroke="#000" stroke-width="1"/>
<text x="77.0" y="90.8" font-family="Liberation Sans" font-size="15.5" text-anchor="end" textLength="17.1" lengthAdjust="spacingAndGlyphs" >20</text>
<line x1="79" y1="128.2" x2="83" y2="128.2" stroke="#000" stroke-width="1"/>
<text x="77.0" y="133.7" font-family="Liberation Sans" font-size="15.5" text-anchor="end" textLength="17.1" lengthAdjust="spacingAndGlyphs" >10</text>
<line x1="79" y1="171.1" x2="83" y2="171.1" stroke="#000" stroke-width="1"/>
<text x="77.0" y="176.6" font-family="Liberation Sans" font-size="15.5" text-anchor="end" textLength="8.6" lengthAdjust="spacingAndGlyphs" >0</text>
<line x1="79" y1="231.3" x2="83" y2="231.3" stroke="#000" stroke-width="1"/>
<text x="77.1" y="237.4" font-family="Liberation Sans" font-size="15.5" text-anchor="end" textLength="22" lengthAdjust="spacingAndGlyphs" >3.0</text>
<line x1="79" y1="283.2" x2="83" y2="283.2" stroke="#000" stroke-width="1"/>
<text x="77.1" y="289.3" font-family="Liberation Sans" font-size="15.5" text-anchor="end" textLength="22" lengthAdjust="spacingAndGlyphs" >1.5</text>
<line x1="79" y1="334.4" x2="83" y2="334.4" stroke="#000" stroke-width="1"/>
<text x="77.1" y="340.5" font-family="Liberation Sans" font-size="15.5" text-anchor="end" textLength="22" lengthAdjust="spacingAndGlyphs" >0.0</text>
<text transform="translate(41,101.5) rotate(-90)" font-family="Liberation Sans" font-size="17" font-weight="bold" text-anchor="middle"><tspan font-family="Liberation Serif">Δ</tspan><tspan font-family="Liberation Serif" font-style="italic">H</tspan><tspan font-family="Liberation Serif" font-size="13" dy="4">ads</tspan><tspan dy="-4"> [kJ/mol]</tspan></text>
<text transform="translate(41,266) rotate(-90)" font-family="Liberation Sans" font-size="17" font-weight="bold" text-anchor="middle">Uptake (<tspan font-family="Liberation Serif" font-style="italic">q</tspan>) [g/g]</text>
<line x1="133.2" y1="334.4" x2="133.2" y2="338.5" stroke="#000" stroke-width="1"/>
<text x="133.2" y="351.9" font-family="Liberation Sans" font-size="15.5" text-anchor="middle" textLength="34.5" lengthAdjust="spacingAndGlyphs" >2000</text>
<line x1="184.5" y1="334.4" x2="184.5" y2="338.5" stroke="#000" stroke-width="1"/>
<text x="184.5" y="351.9" font-family="Liberation Sans" font-size="15.5" text-anchor="middle" textLength="34.5" lengthAdjust="spacingAndGlyphs" >4000</text>
<line x1="236.8" y1="334.4" x2="236.8" y2="338.5" stroke="#000" stroke-width="1"/>
<text x="236.8" y="351.9" font-family="Liberation Sans" font-size="15.5" text-anchor="middle" textLength="34.5" lengthAdjust="spacingAndGlyphs" >6000</text>
<line x1="305.8" y1="334.4" x2="305.8" y2="338.5" stroke="#000" stroke-width="1"/>
<text x="305.8" y="351.9" font-family="Liberation Sans" font-size="15.5" text-anchor="middle" textLength="30.2" lengthAdjust="spacingAndGlyphs" >0.25</text>
<line x1="354.9" y1="334.4" x2="354.9" y2="338.5" stroke="#000" stroke-width="1"/>
<text x="354.9" y="351.9" font-family="Liberation Sans" font-size="15.5" text-anchor="middle" textLength="30.2" lengthAdjust="spacingAndGlyphs" >0.50</text>
<line x1="404.6" y1="334.4" x2="404.6" y2="338.5" stroke="#000" stroke-width="1"/>
<text x="404.6" y="351.9" font-family="Liberation Sans" font-size="15.5" text-anchor="middle" textLength="30.2" lengthAdjust="spacingAndGlyphs" >0.75</text>
<line x1="489" y1="334.4" x2="489" y2="338.5" stroke="#000" stroke-width="1"/>
<text x="489.0" y="351.9" font-family="Liberation Sans" font-size="15.5" text-anchor="middle" textLength="8.6" lengthAdjust="spacingAndGlyphs" >8</text>
<line x1="547.2" y1="334.4" x2="547.2" y2="338.5" stroke="#000" stroke-width="1"/>
<text x="547.2" y="351.9" font-family="Liberation Sans" font-size="15.5" text-anchor="middle" textLength="17.2" lengthAdjust="spacingAndGlyphs" >16</text>
<line x1="605.2" y1="334.4" x2="605.2" y2="338.5" stroke="#000" stroke-width="1"/>
<text x="605.2" y="351.9" font-family="Liberation Sans" font-size="15.5" text-anchor="middle" textLength="17.2" lengthAdjust="spacingAndGlyphs" >24</text>
<line x1="672.6" y1="334.4" x2="672.6" y2="338.5" stroke="#000" stroke-width="1"/>
<text x="672.6" y="351.9" font-family="Liberation Sans" font-size="15.5" text-anchor="middle" textLength="8.6" lengthAdjust="spacingAndGlyphs" >8</text>
<line x1="729.3" y1="334.4" x2="729.3" y2="338.5" stroke="#000" stroke-width="1"/>
<text x="729.3" y="351.9" font-family="Liberation Sans" font-size="15.5" text-anchor="middle" textLength="17.2" lengthAdjust="spacingAndGlyphs" >16</text>
<line x1="785.7" y1="334.4" x2="785.7" y2="338.5" stroke="#000" stroke-width="1"/>
<text x="785.7" y="351.9" font-family="Liberation Sans" font-size="15.5" text-anchor="middle" textLength="17.2" lengthAdjust="spacingAndGlyphs" >24</text>
<line x1="867.5" y1="334.4" x2="867.5" y2="338.5" stroke="#000" stroke-width="1"/>
<text x="867.5" y="351.9" font-family="Liberation Sans" font-size="15.5" text-anchor="middle" textLength="21.6" lengthAdjust="spacingAndGlyphs" >0.6</text>
<line x1="915.6" y1="334.4" x2="915.6" y2="338.5" stroke="#000" stroke-width="1"/>
<text x="915.6" y="351.9" font-family="Liberation Sans" font-size="15.5" text-anchor="middle" textLength="21.6" lengthAdjust="spacingAndGlyphs" >1.2</text>
<line x1="963.1" y1="334.4" x2="963.1" y2="338.5" stroke="#000" stroke-width="1"/>
<text x="963.1" y="351.9" font-family="Liberation Sans" font-size="15.5" text-anchor="middle" textLength="21.6" lengthAdjust="spacingAndGlyphs" >1.8</text>
<line x1="1075.2" y1="334.4" x2="1075.2" y2="338.5" stroke="#000" stroke-width="1"/>
<text x="1075.2" y="351.9" font-family="Liberation Sans" font-size="15.5" text-anchor="middle" textLength="43.1" lengthAdjust="spacingAndGlyphs" >15000</text>
<line x1="1137.6" y1="334.4" x2="1137.6" y2="338.5" stroke="#000" stroke-width="1"/>
<text x="1137.6" y="351.9" font-family="Liberation Sans" font-size="15.5" text-anchor="middle" textLength="43.1" lengthAdjust="spacingAndGlyphs" >30000</text>
<rect x="86" y="385.6" width="293" height="257.19999999999993" fill="url(#gc)"/>
<g clip-path="url(#cc)">
<path d="M259,641.5 C300,638.5 340,636.5 380,636" fill="none" stroke="#fff" stroke-width="1.8"/>
<circle cx="95.5" cy="385.8" r="4.9" fill="#95d840" stroke="#000" stroke-width="2"/><circle cx="96.2" cy="420.6" r="4.9" fill="#95d840" stroke="#000" stroke-width="2"/><circle cx="92.8" cy="451.5" r="4.9" fill="#95d840" stroke="#000" stroke-width="2"/><circle cx="98.6" cy="461.9" r="4.9" fill="#95d840" stroke="#000" stroke-width="2"/><circle cx="96.2" cy="469.7" r="4.9" fill="#95d840" stroke="#000" stroke-width="2"/><circle cx="97.4" cy="476.6" r="4.9" fill="#95d840" stroke="#000" stroke-width="2"/><circle cx="98.2" cy="489.4" r="4.9" fill="#95d840" stroke="#000" stroke-width="2"/><circle cx="93.5" cy="502.9" r="4.9" fill="#95d840" stroke="#000" stroke-width="2"/><circle cx="92.4" cy="505.6" r="4.9" fill="#95d840" stroke="#000" stroke-width="2"/><circle cx="104" cy="518.4" r="4.9" fill="#95d840" stroke="#000" stroke-width="2"/><circle cx="94.7" cy="524.2" r="4.9" fill="#95d840" stroke="#000" stroke-width="2"/><circle cx="98.2" cy="531.5" r="4.9" fill="#95d840" stroke="#000" stroke-width="2"/><circle cx="121.4" cy="532.7" r="4.9" fill="#95d840" stroke="#000" stroke-width="2"/><circle cx="100.1" cy="541.5" r="4.9" fill="#95d840" stroke="#000" stroke-width="2"/><circle cx="109" cy="544.3" r="4.9" fill="#95d840" stroke="#000" stroke-width="2"/><circle cx="94.7" cy="552" r="4.9" fill="#95d840" stroke="#000" stroke-width="2"/><circle cx="104" cy="559.7" r="4.9" fill="#95d840" stroke="#000" stroke-width="2"/><circle cx="101.3" cy="562.4" r="4.9" fill="#95d840" stroke="#000" stroke-width="2"/><circle cx="117.5" cy="559.7" r="4.9" fill="#95d840" stroke="#000" stroke-width="2"/><circle cx="131.4" cy="557.8" r="4.9" fill="#95d840" stroke="#000" stroke-width="2"/><circle cx="141.1" cy="553.9" r="4.9" fill="#95d840" stroke="#000" stroke-width="2"/><circle cx="90.8" cy="566.7" r="4.9" fill="#95d840" stroke="#000" stroke-width="2"/><circle cx="93.5" cy="568.6" r="4.9" fill="#95d840" stroke="#000" stroke-width="2"/><circle cx="122.5" cy="568.6" r="4.9" fill="#95d840" stroke="#000" stroke-width="2"/><circle cx="127.2" cy="572.1" r="4.9" fill="#95d840" stroke="#000" stroke-width="2"/><circle cx="149.6" cy="569.4" r="4.9" fill="#95d840" stroke="#000" stroke-width="2"/><circle cx="105.9" cy="575.2" r="4.9" fill="#95d840" stroke="#000" stroke-width="2"/><circle cx="114" cy="576.3" r="4.9" fill="#95d840" stroke="#000" stroke-width="2"/><circle cx="136" cy="577.1" r="4.9" fill="#95d840" stroke="#000" stroke-width="2"/><circle cx="138" cy="581" r="4.9" fill="#95d840" stroke="#000" stroke-width="2"/><circle cx="129.1" cy="581.7" r="4.9" fill="#95d840" stroke="#000" stroke-width="2"/><circle cx="171.6" cy="575.2" r="4.9" fill="#95d840" stroke="#000" stroke-width="2"/><circle cx="170.8" cy="581" r="4.9" fill="#95d840" stroke="#000" stroke-width="2"/><circle cx="155.4" cy="583.7" r="4.9" fill="#95d840" stroke="#000" stroke-width="2"/><circle cx="97.4" cy="586.8" r="4.9" fill="#95d840" stroke="#000" stroke-width="2"/><circle cx="105.1" cy="591.4" r="4.9" fill="#95d840" stroke="#000" stroke-width="2"/><circle cx="134.1" cy="592.6" r="4.9" fill="#95d840" stroke="#000" stroke-width="2"/><circle cx="139.9" cy="599.5" r="4.9" fill="#95d840" stroke="#000" stroke-width="2"/><circle cx="96.2" cy="600.3" r="4.9" fill="#95d840" stroke="#000" stroke-width="2"/><circle cx="143.8" cy="606.1" r="4.9" fill="#95d840" stroke="#000" stroke-width="2"/><circle cx="153.4" cy="603.4" r="4.9" fill="#95d840" stroke="#000" stroke-width="2"/><circle cx="112.9" cy="611.1" r="4.9" fill="#95d840" stroke="#000" stroke-width="2"/><circle cx="118.6" cy="617.7" r="4.9" fill="#95d840" stroke="#000" stroke-width="2"/><circle cx="124.4" cy="621.5" r="4.9" fill="#95d840" stroke="#000" stroke-width="2"/><circle cx="139.1" cy="621.5" r="4.9" fill="#95d840" stroke="#000" stroke-width="2"/><circle cx="172.8" cy="618.5" r="4.9" fill="#95d840" stroke="#000" stroke-width="2"/><circle cx="95.5" cy="622.7" r="4.9" fill="#95d840" stroke="#000" stroke-width="2"/><circle cx="94.7" cy="626.6" r="4.9" fill="#95d840" stroke="#000" stroke-width="2"/><circle cx="124.4" cy="630.4" r="4.9" fill="#95d840" stroke="#000" stroke-width="2"/><circle cx="113.6" cy="635.1" r="4.9" fill="#95d840" stroke="#000" stroke-width="2"/><circle cx="87" cy="642.8" r="4.9" fill="#95d840" stroke="#000" stroke-width="2"/><circle cx="202.9" cy="589.9" r="4.9" fill="#95d840" stroke="#000" stroke-width="2"/><circle cx="204.4" cy="591.4" r="4.9" fill="#95d840" stroke="#000" stroke-width="2"/><circle cx="226.9" cy="587.5" r="4.9" fill="#95d840" stroke="#000" stroke-width="2"/><circle cx="221.1" cy="619.6" r="4.9" fill="#95d840" stroke="#000" stroke-width="2"/><circle cx="222.2" cy="622.3" r="4.9" fill="#95d840" stroke="#000" stroke-width="2"/><circle cx="297.4" cy="556.9" r="4.9" fill="#95d840" stroke="#000" stroke-width="2"/><circle cx="316.9" cy="606.7" r="4.9" fill="#95d840" stroke="#000" stroke-width="2"/>
<rect x="220.6" y="392.5" width="149.1" height="131.10000000000002" fill="#75d054" stroke="#3a5a2a" stroke-width="1"/>
<clipPath id="ci"><rect x="220.6" y="392.5" width="149.1" height="131.10000000000002"/></clipPath>
<g clip-path="url(#ci)"><circle cx="260.5" cy="483.1" r="2.9" fill="#006400"/><circle cx="291.0" cy="454.9" r="2.9" fill="#006400"/><circle cx="261.0" cy="486.2" r="2.9" fill="#006400"/><circle cx="289.3" cy="461.5" r="2.9" fill="#006400"/><circle cx="275.0" cy="475.1" r="2.9" fill="#006400"/><circle cx="271.5" cy="468.0" r="2.9" fill="#006400"/><circle cx="227.2" cy="524.4" r="2.9" fill="#006400"/><circle cx="255.7" cy="468.6" r="2.9" fill="#006400"/><circle cx="278.9" cy="469.7" r="2.9" fill="#006400"/><circle cx="275.0" cy="474.0" r="2.9" fill="#006400"/><circle cx="253.3" cy="504.8" r="2.9" fill="#006400"/><circle cx="249.7" cy="493.7" r="2.9" fill="#006400"/><circle cx="256.2" cy="507.1" r="2.9" fill="#006400"/><circle cx="245.1" cy="510.5" r="2.9" fill="#006400"/><circle cx="275.7" cy="488.0" r="2.9" fill="#006400"/><circle cx="253.9" cy="480.5" r="2.9" fill="#006400"/><circle cx="240.7" cy="501.2" r="2.9" fill="#006400"/><circle cx="264.8" cy="486.3" r="2.9" fill="#006400"/><circle cx="253.4" cy="477.1" r="2.9" fill="#006400"/><circle cx="274.3" cy="507.1" r="2.9" fill="#006400"/><circle cx="246.0" cy="508.4" r="2.9" fill="#006400"/><circle cx="237.9" cy="524.4" r="2.9" fill="#006400"/><circle cx="277.8" cy="496.0" r="2.9" fill="#006400"/><circle cx="256.5" cy="512.6" r="2.9" fill="#006400"/><circle cx="274.1" cy="490.2" r="2.9" fill="#006400"/><circle cx="263.8" cy="490.2" r="2.9" fill="#006400"/><circle cx="271.7" cy="473.4" r="2.9" fill="#006400"/><circle cx="254.5" cy="495.2" r="2.9" fill="#006400"/><circle cx="288.4" cy="450.2" r="2.9" fill="#006400"/><circle cx="278.0" cy="507.0" r="2.9" fill="#006400"/><circle cx="252.0" cy="490.5" r="2.9" fill="#006400"/><circle cx="252.6" cy="514.5" r="2.9" fill="#006400"/><circle cx="302.1" cy="448.1" r="2.9" fill="#006400"/><circle cx="277.5" cy="474.5" r="2.9" fill="#006400"/><circle cx="282.3" cy="477.7" r="2.9" fill="#006400"/><circle cx="247.5" cy="495.4" r="2.9" fill="#006400"/><circle cx="298.9" cy="465.7" r="2.9" fill="#006400"/><circle cx="235.4" cy="513.3" r="2.9" fill="#006400"/><circle cx="311.3" cy="433.1" r="2.9" fill="#006400"/><circle cx="274.7" cy="509.5" r="2.9" fill="#006400"/><circle cx="248.6" cy="489.5" r="2.9" fill="#006400"/><circle cx="260.2" cy="478.5" r="2.9" fill="#006400"/><circle cx="262.2" cy="481.7" r="2.9" fill="#006400"/><circle cx="274.6" cy="480.6" r="2.9" fill="#006400"/><circle cx="270.0" cy="488.7" r="2.9" fill="#006400"/><circle cx="257.9" cy="491.0" r="2.9" fill="#006400"/><circle cx="307.2" cy="499.4" r="2.9" fill="#006400"/><circle cx="241.1" cy="495.3" r="2.9" fill="#006400"/><circle cx="278.4" cy="455.8" r="2.9" fill="#006400"/><circle cx="233.9" cy="509.0" r="2.9" fill="#006400"/><circle cx="293.1" cy="458.9" r="2.9" fill="#006400"/><circle cx="310.3" cy="453.1" r="2.9" fill="#006400"/><circle cx="260.4" cy="500.8" r="2.9" fill="#006400"/><circle cx="285.3" cy="444.2" r="2.9" fill="#006400"/><circle cx="269.8" cy="482.8" r="2.9" fill="#006400"/><circle cx="232.3" cy="502.2" r="2.9" fill="#006400"/><circle cx="233.9" cy="513.5" r="2.9" fill="#006400"/><circle cx="250.2" cy="498.8" r="2.9" fill="#006400"/><circle cx="263.0" cy="477.2" r="2.9" fill="#006400"/><circle cx="289.6" cy="470.6" r="2.9" fill="#006400"/><circle cx="327.4" cy="457.6" r="2.9" fill="#006400"/><circle cx="255.8" cy="484.5" r="2.9" fill="#006400"/><circle cx="280.4" cy="498.1" r="2.9" fill="#006400"/><circle cx="232.5" cy="524.4" r="2.9" fill="#006400"/><circle cx="270.3" cy="462.7" r="2.9" fill="#006400"/><circle cx="282.8" cy="465.7" r="2.9" fill="#006400"/><circle cx="229.8" cy="508.1" r="2.9" fill="#006400"/><circle cx="301.6" cy="439.8" r="2.9" fill="#006400"/><circle cx="229.0" cy="524.4" r="2.9" fill="#006400"/><circle cx="279.9" cy="468.2" r="2.9" fill="#006400"/><circle cx="294.3" cy="430.2" r="2.9" fill="#006400"/><circle cx="270.5" cy="489.8" r="2.9" fill="#006400"/><circle cx="298.6" cy="461.1" r="2.9" fill="#006400"/><circle cx="249.6" cy="455.2" r="2.9" fill="#006400"/><circle cx="271.5" cy="492.0" r="2.9" fill="#006400"/><circle cx="244.1" cy="524.4" r="2.9" fill="#006400"/><circle cx="284.4" cy="466.8" r="2.9" fill="#006400"/><circle cx="282.7" cy="470.1" r="2.9" fill="#006400"/><circle cx="295.8" cy="468.5" r="2.9" fill="#006400"/><circle cx="271.9" cy="468.5" r="2.9" fill="#006400"/><circle cx="255.0" cy="520.4" r="2.9" fill="#006400"/><circle cx="242.0" cy="493.6" r="2.9" fill="#006400"/><circle cx="253.2" cy="499.1" r="2.9" fill="#006400"/><circle cx="265.5" cy="485.5" r="2.9" fill="#006400"/><circle cx="268.0" cy="476.0" r="2.9" fill="#006400"/><circle cx="288.5" cy="480.7" r="2.9" fill="#006400"/><circle cx="259.3" cy="509.1" r="2.9" fill="#006400"/><circle cx="262.9" cy="464.4" r="2.9" fill="#006400"/><circle cx="259.7" cy="467.1" r="2.9" fill="#006400"/><circle cx="231.3" cy="522.3" r="2.9" fill="#006400"/><circle cx="237.4" cy="504.4" r="2.9" fill="#006400"/><circle cx="232.0" cy="515.9" r="2.9" fill="#006400"/><circle cx="241.3" cy="509.6" r="2.9" fill="#006400"/><circle cx="251.9" cy="523.4" r="2.9" fill="#006400"/><circle cx="264.5" cy="468.3" r="2.9" fill="#006400"/><circle cx="272.7" cy="482.7" r="2.9" fill="#006400"/><circle cx="269.3" cy="482.5" r="2.9" fill="#006400"/><circle cx="274.9" cy="446.5" r="2.9" fill="#006400"/><circle cx="259.2" cy="488.7" r="2.9" fill="#006400"/><circle cx="226.9" cy="513.9" r="2.9" fill="#006400"/><circle cx="285.6" cy="464.0" r="2.9" fill="#006400"/><circle cx="254.7" cy="506.5" r="2.9" fill="#006400"/><circle cx="251.3" cy="467.1" r="2.9" fill="#006400"/><circle cx="258.2" cy="479.9" r="2.9" fill="#006400"/><circle cx="268.4" cy="489.0" r="2.9" fill="#006400"/><circle cx="265.5" cy="446.2" r="2.9" fill="#006400"/><circle cx="265.6" cy="481.9" r="2.9" fill="#006400"/><circle cx="264.7" cy="479.1" r="2.9" fill="#006400"/><circle cx="301.2" cy="473.6" r="2.9" fill="#006400"/><circle cx="265.5" cy="477.7" r="2.9" fill="#006400"/><circle cx="234.9" cy="503.0" r="2.9" fill="#006400"/><circle cx="278.2" cy="480.7" r="2.9" fill="#006400"/><circle cx="270.1" cy="484.4" r="2.9" fill="#006400"/><circle cx="271.3" cy="485.6" r="2.9" fill="#006400"/><circle cx="246.7" cy="498.7" r="2.9" fill="#006400"/><circle cx="282.0" cy="469.2" r="2.9" fill="#006400"/><circle cx="263.4" cy="476.8" r="2.9" fill="#006400"/><circle cx="271.9" cy="467.9" r="2.9" fill="#006400"/><circle cx="267.3" cy="496.8" r="2.9" fill="#006400"/><circle cx="275.2" cy="464.8" r="2.9" fill="#006400"/><circle cx="270.1" cy="469.4" r="2.9" fill="#006400"/><circle cx="223.9" cy="512.4" r="2.9" fill="#006400"/><circle cx="244.6" cy="524.4" r="2.9" fill="#006400"/><circle cx="267.5" cy="507.0" r="2.9" fill="#006400"/><circle cx="264.7" cy="501.9" r="2.9" fill="#006400"/><circle cx="301.4" cy="467.8" r="2.9" fill="#006400"/><circle cx="249.0" cy="499.3" r="2.9" fill="#006400"/><circle cx="299.3" cy="444.4" r="2.9" fill="#006400"/><circle cx="265.7" cy="464.2" r="2.9" fill="#006400"/><circle cx="228.3" cy="513.6" r="2.9" fill="#006400"/><circle cx="259.6" cy="467.4" r="2.9" fill="#006400"/><circle cx="272.0" cy="440.5" r="2.9" fill="#006400"/><circle cx="251.9" cy="496.4" r="2.9" fill="#006400"/><circle cx="224.9" cy="524.4" r="2.9" fill="#006400"/><circle cx="283.3" cy="451.6" r="2.9" fill="#006400"/><circle cx="265.3" cy="479.9" r="2.9" fill="#006400"/><circle cx="270.8" cy="480.7" r="2.9" fill="#006400"/><circle cx="269.4" cy="462.9" r="2.9" fill="#006400"/><circle cx="266.3" cy="507.0" r="2.9" fill="#006400"/><circle cx="282.2" cy="483.0" r="2.9" fill="#006400"/><circle cx="278.8" cy="475.6" r="2.9" fill="#006400"/><circle cx="262.0" cy="492.4" r="2.9" fill="#006400"/><circle cx="290.6" cy="480.0" r="2.9" fill="#006400"/><circle cx="262.0" cy="501.2" r="2.9" fill="#006400"/><circle cx="262.2" cy="475.7" r="2.9" fill="#006400"/><circle cx="231.4" cy="524.4" r="2.9" fill="#006400"/><circle cx="242.4" cy="500.8" r="2.9" fill="#006400"/><circle cx="280.3" cy="454.3" r="2.9" fill="#006400"/><circle cx="241.7" cy="518.2" r="2.9" fill="#006400"/><circle cx="243.6" cy="505.7" r="2.9" fill="#006400"/><circle cx="266.3" cy="485.6" r="2.9" fill="#006400"/><circle cx="239.8" cy="510.3" r="2.9" fill="#006400"/><circle cx="259.2" cy="491.5" r="2.9" fill="#006400"/><circle cx="275.0" cy="479.4" r="2.9" fill="#006400"/><circle cx="251.2" cy="483.1" r="2.9" fill="#006400"/><circle cx="262.2" cy="510.4" r="2.9" fill="#006400"/><circle cx="270.6" cy="486.6" r="2.9" fill="#006400"/><circle cx="276.4" cy="467.1" r="2.9" fill="#006400"/><circle cx="256.5" cy="468.4" r="2.9" fill="#006400"/><circle cx="272.7" cy="491.0" r="2.9" fill="#006400"/><circle cx="235.9" cy="514.8" r="2.9" fill="#006400"/><circle cx="292.2" cy="471.9" r="2.9" fill="#006400"/><circle cx="268.5" cy="475.6" r="2.9" fill="#006400"/><circle cx="257.0" cy="490.9" r="2.9" fill="#006400"/><circle cx="264.5" cy="470.6" r="2.9" fill="#006400"/><circle cx="225.5" cy="521.0" r="2.9" fill="#006400"/><circle cx="281.4" cy="452.2" r="2.9" fill="#006400"/><circle cx="226.9" cy="516.8" r="2.9" fill="#006400"/><circle cx="242.1" cy="479.6" r="2.9" fill="#006400"/><circle cx="286.8" cy="479.6" r="2.9" fill="#006400"/><circle cx="268.0" cy="483.7" r="2.9" fill="#006400"/><circle cx="248.1" cy="491.8" r="2.9" fill="#006400"/><circle cx="282.3" cy="471.2" r="2.9" fill="#006400"/><circle cx="265.1" cy="482.5" r="2.9" fill="#006400"/><circle cx="256.6" cy="500.4" r="2.9" fill="#006400"/><circle cx="219.4" cy="524.4" r="2.9" fill="#006400"/><circle cx="282.2" cy="485.0" r="2.9" fill="#006400"/><circle cx="255.0" cy="492.1" r="2.9" fill="#006400"/><circle cx="275.5" cy="488.7" r="2.9" fill="#006400"/><circle cx="266.2" cy="473.8" r="2.9" fill="#006400"/><circle cx="274.1" cy="464.7" r="2.9" fill="#006400"/><circle cx="296.7" cy="481.3" r="2.9" fill="#006400"/><circle cx="232.6" cy="524.4" r="2.9" fill="#006400"/><circle cx="232.3" cy="518.3" r="2.9" fill="#006400"/><circle cx="241.9" cy="505.9" r="2.9" fill="#006400"/><circle cx="234.1" cy="479.9" r="2.9" fill="#006400"/><circle cx="246.0" cy="500.6" r="2.9" fill="#006400"/><circle cx="262.0" cy="524.4" r="2.9" fill="#006400"/><circle cx="255.7" cy="504.0" r="2.9" fill="#006400"/><circle cx="255.5" cy="482.8" r="2.9" fill="#006400"/><circle cx="313.0" cy="459.4" r="2.9" fill="#006400"/><circle cx="266.5" cy="444.0" r="2.9" fill="#006400"/><circle cx="224.5" cy="510.7" r="2.9" fill="#006400"/><circle cx="260.8" cy="484.0" r="2.9" fill="#006400"/><circle cx="295.1" cy="438.3" r="2.9" fill="#006400"/><circle cx="242.0" cy="516.8" r="2.9" fill="#006400"/><circle cx="278.2" cy="478.2" r="2.9" fill="#006400"/><circle cx="256.1" cy="442.2" r="2.9" fill="#006400"/><circle cx="265.5" cy="479.4" r="2.9" fill="#006400"/><circle cx="254.4" cy="495.4" r="2.9" fill="#006400"/><circle cx="288.7" cy="434.4" r="2.9" fill="#006400"/><circle cx="253.8" cy="492.3" r="2.9" fill="#006400"/><circle cx="254.2" cy="523.4" r="2.9" fill="#006400"/><circle cx="265.8" cy="485.9" r="2.9" fill="#006400"/><circle cx="303.6" cy="469.1" r="2.9" fill="#006400"/><circle cx="302.9" cy="493.4" r="2.9" fill="#006400"/><circle cx="266.3" cy="460.7" r="2.9" fill="#006400"/><circle cx="261.4" cy="468.3" r="2.9" fill="#006400"/><circle cx="253.3" cy="495.0" r="2.9" fill="#006400"/><circle cx="241.6" cy="480.8" r="2.9" fill="#006400"/><circle cx="294.3" cy="473.8" r="2.9" fill="#006400"/><circle cx="262.3" cy="481.7" r="2.9" fill="#006400"/><circle cx="243.5" cy="506.3" r="2.9" fill="#006400"/><circle cx="277.8" cy="483.5" r="2.9" fill="#006400"/><circle cx="263.6" cy="488.9" r="2.9" fill="#006400"/><circle cx="227.1" cy="512.2" r="2.9" fill="#006400"/><circle cx="285.1" cy="481.5" r="2.9" fill="#006400"/><circle cx="322.9" cy="438.7" r="2.9" fill="#006400"/><circle cx="270.6" cy="504.5" r="2.9" fill="#006400"/><circle cx="266.5" cy="486.2" r="2.9" fill="#006400"/><circle cx="299.3" cy="456.6" r="2.9" fill="#006400"/><circle cx="272.0" cy="488.9" r="2.9" fill="#006400"/><circle cx="286.0" cy="458.9" r="2.9" fill="#006400"/><circle cx="303.9" cy="466.0" r="2.9" fill="#006400"/><circle cx="265.7" cy="473.4" r="2.9" fill="#006400"/><circle cx="262.5" cy="487.3" r="2.9" fill="#006400"/><circle cx="281.8" cy="483.4" r="2.9" fill="#006400"/><circle cx="238.6" cy="524.2" r="2.9" fill="#006400"/><circle cx="282.6" cy="452.1" r="2.9" fill="#006400"/><circle cx="278.4" cy="465.6" r="2.9" fill="#006400"/><circle cx="274.4" cy="452.5" r="2.9" fill="#006400"/><circle cx="238.5" cy="481.6" r="2.9" fill="#006400"/><circle cx="265.4" cy="472.6" r="2.9" fill="#006400"/><circle cx="265.7" cy="496.2" r="2.9" fill="#006400"/><circle cx="281.1" cy="472.2" r="2.9" fill="#006400"/><circle cx="267.7" cy="482.8" r="2.9" fill="#006400"/><circle cx="281.0" cy="475.3" r="2.9" fill="#006400"/><circle cx="284.2" cy="498.0" r="2.9" fill="#006400"/><circle cx="290.3" cy="459.0" r="2.9" fill="#006400"/><circle cx="231.3" cy="480.9" r="2.9" fill="#006400"/><circle cx="302.0" cy="436.2" r="2.9" fill="#006400"/><circle cx="270.5" cy="453.4" r="2.9" fill="#006400"/><circle cx="274.0" cy="477.6" r="2.9" fill="#006400"/><circle cx="264.5" cy="462.7" r="2.9" fill="#006400"/><circle cx="256.7" cy="484.2" r="2.9" fill="#006400"/><circle cx="253.3" cy="503.5" r="2.9" fill="#006400"/><circle cx="258.9" cy="480.5" r="2.9" fill="#006400"/><circle cx="222.1" cy="518.1" r="2.9" fill="#006400"/><circle cx="268.7" cy="466.3" r="2.9" fill="#006400"/><circle cx="287.3" cy="472.3" r="2.9" fill="#006400"/><circle cx="266.0" cy="470.0" r="2.9" fill="#006400"/><circle cx="278.9" cy="479.1" r="2.9" fill="#006400"/><circle cx="263.2" cy="514.8" r="2.9" fill="#006400"/><circle cx="250.6" cy="506.0" r="2.9" fill="#006400"/><circle cx="241.0" cy="484.4" r="2.9" fill="#006400"/><circle cx="301.5" cy="455.3" r="2.9" fill="#006400"/><circle cx="274.3" cy="459.2" r="2.9" fill="#006400"/><circle cx="272.1" cy="448.8" r="2.9" fill="#006400"/><circle cx="260.4" cy="486.0" r="2.9" fill="#006400"/><circle cx="231.1" cy="515.2" r="2.9" fill="#006400"/><circle cx="268.5" cy="468.0" r="2.9" fill="#006400"/><circle cx="249.2" cy="519.1" r="2.9" fill="#006400"/><circle cx="260.4" cy="496.6" r="2.9" fill="#006400"/><circle cx="258.3" cy="474.8" r="2.9" fill="#006400"/><circle cx="265.1" cy="495.9" r="2.9" fill="#006400"/><circle cx="279.0" cy="458.7" r="2.9" fill="#006400"/><circle cx="246.7" cy="524.4" r="2.9" fill="#006400"/><circle cx="308.6" cy="445.3" r="2.9" fill="#006400"/><circle cx="306.5" cy="484.4" r="2.9" fill="#006400"/><circle cx="228.7" cy="507.6" r="2.9" fill="#006400"/><circle cx="281.4" cy="431.1" r="2.9" fill="#006400"/><circle cx="263.1" cy="465.7" r="2.9" fill="#006400"/><circle cx="261.2" cy="477.3" r="2.9" fill="#006400"/><circle cx="257.0" cy="503.4" r="2.9" fill="#006400"/><circle cx="271.6" cy="474.0" r="2.9" fill="#006400"/><circle cx="262.6" cy="495.8" r="2.9" fill="#006400"/><circle cx="255.5" cy="488.8" r="2.9" fill="#006400"/><circle cx="277.9" cy="484.3" r="2.9" fill="#006400"/><circle cx="286.0" cy="467.5" r="2.9" fill="#006400"/><circle cx="273.8" cy="462.4" r="2.9" fill="#006400"/><circle cx="239.2" cy="503.4" r="2.9" fill="#006400"/><circle cx="270.2" cy="497.4" r="2.9" fill="#006400"/><circle cx="283.9" cy="448.4" r="2.9" fill="#006400"/><circle cx="262.2" cy="476.9" r="2.9" fill="#006400"/><circle cx="255.2" cy="478.6" r="2.9" fill="#006400"/><circle cx="227.6" cy="507.7" r="2.9" fill="#006400"/><circle cx="256.5" cy="486.9" r="2.9" fill="#006400"/><circle cx="266.9" cy="483.3" r="2.9" fill="#006400"/><circle cx="229.5" cy="507.5" r="2.9" fill="#006400"/><circle cx="284.6" cy="467.4" r="2.9" fill="#006400"/><circle cx="268.8" cy="484.2" r="2.9" fill="#006400"/><circle cx="250.7" cy="507.4" r="2.9" fill="#006400"/><circle cx="277.3" cy="465.7" r="2.9" fill="#006400"/><circle cx="275.7" cy="480.7" r="2.9" fill="#006400"/><circle cx="285.8" cy="490.3" r="2.9" fill="#006400"/><circle cx="304.3" cy="431.7" r="2.9" fill="#006400"/><circle cx="262.2" cy="457.9" r="2.9" fill="#006400"/><circle cx="282.9" cy="452.3" r="2.9" fill="#006400"/><circle cx="248.6" cy="470.9" r="2.9" fill="#006400"/><circle cx="230.5" cy="503.8" r="2.9" fill="#006400"/><circle cx="272.6" cy="470.2" r="2.9" fill="#006400"/><circle cx="244.4" cy="505.1" r="2.9" fill="#006400"/><circle cx="302.0" cy="450.6" r="2.9" fill="#006400"/><circle cx="262.3" cy="503.5" r="2.9" fill="#006400"/><circle cx="272.1" cy="487.0" r="2.9" fill="#006400"/><circle cx="236.4" cy="515.9" r="2.9" fill="#006400"/><circle cx="240.3" cy="499.9" r="2.9" fill="#006400"/><circle cx="253.0" cy="508.9" r="2.9" fill="#006400"/><circle cx="296.8" cy="455.7" r="2.9" fill="#006400"/><circle cx="249.9" cy="498.7" r="2.9" fill="#006400"/><circle cx="270.8" cy="492.6" r="2.9" fill="#006400"/><circle cx="268.0" cy="464.0" r="2.9" fill="#006400"/><circle cx="241.3" cy="498.3" r="2.9" fill="#006400"/><circle cx="259.2" cy="493.9" r="2.9" fill="#006400"/><circle cx="227.7" cy="506.3" r="2.9" fill="#006400"/><circle cx="275.0" cy="469.9" r="2.9" fill="#006400"/><circle cx="262.5" cy="465.3" r="2.9" fill="#006400"/><circle cx="265.3" cy="471.9" r="2.9" fill="#006400"/><circle cx="325.4" cy="424.1" r="2.9" fill="#006400"/><circle cx="259.4" cy="457.1" r="2.9" fill="#006400"/><circle cx="244.0" cy="480.1" r="2.9" fill="#006400"/><circle cx="255.3" cy="491.7" r="2.9" fill="#006400"/><circle cx="254.8" cy="487.1" r="2.9" fill="#006400"/><circle cx="258.8" cy="503.6" r="2.9" fill="#006400"/><circle cx="271.6" cy="472.5" r="2.9" fill="#006400"/><circle cx="245.9" cy="524.4" r="2.9" fill="#006400"/><circle cx="255.4" cy="513.6" r="2.9" fill="#006400"/><circle cx="260.1" cy="478.1" r="2.9" fill="#006400"/><circle cx="245.8" cy="498.4" r="2.9" fill="#006400"/><circle cx="259.1" cy="501.1" r="2.9" fill="#006400"/><circle cx="249.9" cy="503.0" r="2.9" fill="#006400"/><circle cx="271.8" cy="489.6" r="2.9" fill="#006400"/><circle cx="271.1" cy="454.3" r="2.9" fill="#006400"/><circle cx="278.5" cy="504.5" r="2.9" fill="#006400"/><circle cx="221.7" cy="519.1" r="2.9" fill="#006400"/><circle cx="278.6" cy="473.0" r="2.9" fill="#006400"/><circle cx="241.8" cy="500.2" r="2.9" fill="#006400"/><circle cx="277.0" cy="467.8" r="2.9" fill="#006400"/><circle cx="267.8" cy="484.0" r="2.9" fill="#006400"/><circle cx="282.6" cy="448.3" r="2.9" fill="#006400"/><circle cx="251.2" cy="493.0" r="2.9" fill="#006400"/><circle cx="296.1" cy="432.1" r="2.9" fill="#006400"/><circle cx="305.4" cy="451.6" r="2.9" fill="#006400"/><circle cx="278.9" cy="455.8" r="2.9" fill="#006400"/><circle cx="284.2" cy="466.7" r="2.9" fill="#006400"/><circle cx="244.0" cy="486.6" r="2.9" fill="#006400"/><circle cx="268.5" cy="496.2" r="2.9" fill="#006400"/><circle cx="292.1" cy="437.1" r="2.9" fill="#006400"/><circle cx="252.2" cy="471.7" r="2.9" fill="#006400"/><circle cx="243.8" cy="487.9" r="2.9" fill="#006400"/><circle cx="280.1" cy="453.2" r="2.9" fill="#006400"/><circle cx="268.4" cy="477.4" r="2.9" fill="#006400"/><circle cx="277.8" cy="498.4" r="2.9" fill="#006400"/><circle cx="264.8" cy="480.9" r="2.9" fill="#006400"/><circle cx="283.3" cy="437.8" r="2.9" fill="#006400"/><circle cx="280.2" cy="473.9" r="2.9" fill="#006400"/><circle cx="263.7" cy="488.1" r="2.9" fill="#006400"/><circle cx="241.2" cy="512.5" r="2.9" fill="#006400"/><circle cx="266.9" cy="480.7" r="2.9" fill="#006400"/><circle cx="266.1" cy="508.2" r="2.9" fill="#006400"/><circle cx="262.0" cy="500.0" r="2.9" fill="#006400"/><circle cx="230.0" cy="508.8" r="2.9" fill="#006400"/><circle cx="263.1" cy="467.5" r="2.9" fill="#006400"/><circle cx="275.6" cy="445.1" r="2.9" fill="#006400"/><circle cx="282.5" cy="473.1" r="2.9" fill="#006400"/><circle cx="226.1" cy="524.4" r="2.9" fill="#006400"/><circle cx="306.9" cy="448.0" r="2.9" fill="#006400"/><circle cx="314.8" cy="454.4" r="2.9" fill="#006400"/><circle cx="235.3" cy="499.0" r="2.9" fill="#006400"/><circle cx="262.9" cy="497.5" r="2.9" fill="#006400"/><circle cx="224.5" cy="523.1" r="2.9" fill="#006400"/><circle cx="237.5" cy="490.0" r="2.9" fill="#006400"/><circle cx="276.7" cy="460.0" r="2.9" fill="#006400"/><circle cx="298.1" cy="463.9" r="2.9" fill="#006400"/><circle cx="276.4" cy="472.2" r="2.9" fill="#006400"/><circle cx="267.3" cy="499.8" r="2.9" fill="#006400"/><circle cx="240.5" cy="492.7" r="2.9" fill="#006400"/><circle cx="278.1" cy="463.1" r="2.9" fill="#006400"/><circle cx="228.5" cy="497.7" r="2.9" fill="#006400"/><circle cx="284.2" cy="460.7" r="2.9" fill="#006400"/><circle cx="270.7" cy="479.0" r="2.9" fill="#006400"/><circle cx="278.2" cy="496.2" r="2.9" fill="#006400"/><circle cx="253.7" cy="488.0" r="2.9" fill="#006400"/><circle cx="287.8" cy="462.9" r="2.9" fill="#006400"/><circle cx="285.0" cy="472.5" r="2.9" fill="#006400"/><circle cx="268.3" cy="488.5" r="2.9" fill="#006400"/><circle cx="300.8" cy="476.4" r="2.9" fill="#006400"/><circle cx="277.1" cy="479.1" r="2.9" fill="#006400"/><circle cx="262.4" cy="511.5" r="2.9" fill="#006400"/><circle cx="281.1" cy="464.4" r="2.9" fill="#006400"/><circle cx="272.5" cy="485.2" r="2.9" fill="#006400"/><circle cx="266.7" cy="481.9" r="2.9" fill="#006400"/><circle cx="233.9" cy="499.8" r="2.9" fill="#006400"/><circle cx="266.9" cy="482.1" r="2.9" fill="#006400"/><circle cx="252.5" cy="511.5" r="2.9" fill="#006400"/><circle cx="300.7" cy="442.0" r="2.9" fill="#006400"/><circle cx="259.9" cy="486.0" r="2.9" fill="#006400"/><circle cx="299.9" cy="436.7" r="2.9" fill="#006400"/><circle cx="286.4" cy="442.3" r="2.9" fill="#006400"/><circle cx="285.3" cy="478.8" r="2.9" fill="#006400"/><circle cx="229.1" cy="523.8" r="2.9" fill="#006400"/><circle cx="284.0" cy="464.9" r="2.9" fill="#006400"/><circle cx="260.2" cy="481.1" r="2.9" fill="#006400"/><circle cx="268.6" cy="469.1" r="2.9" fill="#006400"/><circle cx="250.9" cy="491.4" r="2.9" fill="#006400"/><circle cx="255.3" cy="517.1" r="2.9" fill="#006400"/><circle cx="258.8" cy="499.6" r="2.9" fill="#006400"/><circle cx="249.7" cy="485.4" r="2.9" fill="#006400"/><circle cx="301.8" cy="455.7" r="2.9" fill="#006400"/><circle cx="252.6" cy="518.3" r="2.9" fill="#006400"/><circle cx="280.6" cy="460.5" r="2.9" fill="#006400"/><circle cx="283.9" cy="469.6" r="2.9" fill="#006400"/><circle cx="280.7" cy="460.5" r="2.9" fill="#006400"/><circle cx="275.5" cy="467.6" r="2.9" fill="#006400"/><circle cx="253.1" cy="497.7" r="2.9" fill="#006400"/><circle cx="288.8" cy="423.0" r="2.9" fill="#006400"/><circle cx="264.8" cy="493.4" r="2.9" fill="#006400"/><circle cx="283.8" cy="460.7" r="2.9" fill="#006400"/><circle cx="276.3" cy="501.6" r="2.9" fill="#006400"/><circle cx="276.7" cy="452.0" r="2.9" fill="#006400"/><circle cx="287.5" cy="450.6" r="2.9" fill="#006400"/><circle cx="270.9" cy="475.4" r="2.9" fill="#006400"/><circle cx="233.0" cy="512.5" r="2.9" fill="#006400"/><circle cx="248.1" cy="508.8" r="2.9" fill="#006400"/><circle cx="286.0" cy="478.3" r="2.9" fill="#006400"/><circle cx="266.0" cy="496.8" r="2.9" fill="#006400"/><circle cx="220.9" cy="521.7" r="2.9" fill="#006400"/><circle cx="231.9" cy="521.5" r="2.9" fill="#006400"/><circle cx="237.3" cy="501.2" r="2.9" fill="#006400"/><circle cx="232.1" cy="505.1" r="2.9" fill="#006400"/><circle cx="254.6" cy="502.8" r="2.9" fill="#006400"/><circle cx="236.3" cy="506.4" r="2.9" fill="#006400"/><circle cx="242.9" cy="519.1" r="2.9" fill="#006400"/><circle cx="234.2" cy="522.8" r="2.9" fill="#006400"/><circle cx="282.8" cy="447.7" r="2.9" fill="#006400"/><circle cx="276.7" cy="513.4" r="2.9" fill="#006400"/><circle cx="289.7" cy="452.1" r="2.9" fill="#006400"/><circle cx="231.9" cy="519.2" r="2.9" fill="#006400"/><circle cx="239.3" cy="524.4" r="2.9" fill="#006400"/><circle cx="220.3" cy="507.0" r="2.9" fill="#006400"/><circle cx="245.8" cy="502.4" r="2.9" fill="#006400"/><circle cx="254.8" cy="498.0" r="2.9" fill="#006400"/><circle cx="272.2" cy="482.4" r="2.9" fill="#006400"/><circle cx="268.3" cy="504.0" r="2.9" fill="#006400"/><circle cx="282.7" cy="472.5" r="2.9" fill="#006400"/><circle cx="282.0" cy="448.0" r="2.9" fill="#006400"/><circle cx="273.2" cy="480.1" r="2.9" fill="#006400"/><circle cx="294.2" cy="452.4" r="2.9" fill="#006400"/><circle cx="236.7" cy="522.3" r="2.9" fill="#006400"/><circle cx="286.5" cy="471.7" r="2.9" fill="#006400"/><circle cx="239.6" cy="524.4" r="2.9" fill="#006400"/><circle cx="247.9" cy="498.9" r="2.9" fill="#006400"/><circle cx="296.0" cy="436.1" r="2.9" fill="#006400"/><circle cx="239.5" cy="489.7" r="2.9" fill="#006400"/><circle cx="254.0" cy="488.6" r="2.9" fill="#006400"/><circle cx="266.8" cy="483.9" r="2.9" fill="#006400"/><circle cx="262.9" cy="477.7" r="2.9" fill="#006400"/><circle cx="242.8" cy="503.8" r="2.9" fill="#006400"/><circle cx="254.7" cy="506.0" r="2.9" fill="#006400"/><circle cx="270.8" cy="485.6" r="2.9" fill="#006400"/><circle cx="298.6" cy="475.6" r="2.9" fill="#006400"/><circle cx="292.9" cy="437.1" r="2.9" fill="#006400"/><circle cx="263.6" cy="473.2" r="2.9" fill="#006400"/><circle cx="256.4" cy="488.3" r="2.9" fill="#006400"/><circle cx="270.1" cy="456.0" r="2.9" fill="#006400"/><circle cx="293.9" cy="430.5" r="2.9" fill="#006400"/><circle cx="269.7" cy="491.3" r="2.9" fill="#006400"/><circle cx="235.9" cy="523.9" r="2.9" fill="#006400"/><circle cx="297.1" cy="478.8" r="2.9" fill="#006400"/><circle cx="274.0" cy="487.6" r="2.9" fill="#006400"/><circle cx="230.1" cy="519.6" r="2.9" fill="#006400"/><circle cx="287.2" cy="482.1" r="2.9" fill="#006400"/><circle cx="264.7" cy="472.1" r="2.9" fill="#006400"/><circle cx="266.5" cy="493.3" r="2.9" fill="#006400"/><circle cx="268.7" cy="502.0" r="2.9" fill="#006400"/><circle cx="266.5" cy="456.9" r="2.9" fill="#006400"/><circle cx="267.9" cy="504.4" r="2.9" fill="#006400"/><circle cx="253.5" cy="506.1" r="2.9" fill="#006400"/><circle cx="282.6" cy="450.6" r="2.9" fill="#006400"/><circle cx="280.7" cy="451.2" r="2.9" fill="#006400"/><circle cx="271.6" cy="468.4" r="2.9" fill="#006400"/><circle cx="257.8" cy="508.5" r="2.9" fill="#006400"/><circle cx="264.5" cy="464.3" r="2.9" fill="#006400"/><circle cx="273.7" cy="495.4" r="2.9" fill="#006400"/><circle cx="303.9" cy="475.9" r="2.9" fill="#006400"/><circle cx="270.5" cy="480.4" r="2.9" fill="#006400"/><circle cx="250.9" cy="513.2" r="2.9" fill="#006400"/><circle cx="279.5" cy="482.2" r="2.9" fill="#006400"/><circle cx="306.5" cy="466.2" r="2.9" fill="#006400"/><circle cx="265.8" cy="524.4" r="2.9" fill="#006400"/><circle cx="263.7" cy="484.2" r="2.9" fill="#006400"/><circle cx="246.9" cy="507.1" r="2.9" fill="#006400"/><circle cx="294.4" cy="460.3" r="2.9" fill="#006400"/><circle cx="259.9" cy="495.8" r="2.9" fill="#006400"/><circle cx="220.4" cy="513.5" r="2.9" fill="#006400"/><circle cx="284.7" cy="434.7" r="2.9" fill="#006400"/><circle cx="244.7" cy="522.2" r="2.9" fill="#006400"/><circle cx="242.6" cy="516.5" r="2.9" fill="#006400"/><circle cx="256.2" cy="511.3" r="2.9" fill="#006400"/><circle cx="273.9" cy="456.5" r="2.9" fill="#006400"/><circle cx="267.0" cy="471.9" r="2.9" fill="#006400"/><circle cx="275.0" cy="458.3" r="2.9" fill="#006400"/><circle cx="249.4" cy="489.7" r="2.9" fill="#006400"/><circle cx="231.0" cy="515.9" r="2.9" fill="#006400"/><circle cx="285.1" cy="476.8" r="2.9" fill="#006400"/><circle cx="287.7" cy="461.9" r="2.9" fill="#006400"/><circle cx="263.2" cy="490.4" r="2.9" fill="#006400"/><circle cx="277.0" cy="495.6" r="2.9" fill="#006400"/><circle cx="262.6" cy="487.7" r="2.9" fill="#006400"/><circle cx="222.1" cy="524.4" r="2.9" fill="#006400"/><circle cx="243.4" cy="497.9" r="2.9" fill="#006400"/><circle cx="254.0" cy="492.8" r="2.9" fill="#006400"/><circle cx="261.6" cy="496.0" r="2.9" fill="#006400"/><circle cx="304.5" cy="432.9" r="2.9" fill="#006400"/><circle cx="269.1" cy="480.9" r="2.9" fill="#006400"/><circle cx="267.9" cy="440.4" r="2.9" fill="#006400"/><circle cx="278.1" cy="482.5" r="2.9" fill="#006400"/><circle cx="223.4" cy="509.5" r="2.9" fill="#006400"/><circle cx="282.0" cy="508.9" r="2.9" fill="#006400"/><circle cx="278.9" cy="445.6" r="2.9" fill="#006400"/><circle cx="298.4" cy="455.6" r="2.9" fill="#006400"/><circle cx="269.9" cy="487.9" r="2.9" fill="#006400"/><circle cx="264.4" cy="495.6" r="2.9" fill="#006400"/><circle cx="258.4" cy="491.7" r="2.9" fill="#006400"/><circle cx="244.8" cy="509.8" r="2.9" fill="#006400"/><circle cx="290.6" cy="440.2" r="2.9" fill="#006400"/><circle cx="245.2" cy="489.7" r="2.9" fill="#006400"/><circle cx="247.0" cy="495.6" r="2.9" fill="#006400"/><circle cx="303.0" cy="465.2" r="2.9" fill="#006400"/><circle cx="249.2" cy="486.2" r="2.9" fill="#006400"/><circle cx="260.5" cy="484.4" r="2.9" fill="#006400"/><circle cx="248.4" cy="476.5" r="2.9" fill="#006400"/><circle cx="260.2" cy="495.9" r="2.9" fill="#006400"/><circle cx="288.2" cy="485.2" r="2.9" fill="#006400"/><circle cx="289.9" cy="494.7" r="2.9" fill="#006400"/><circle cx="237.8" cy="497.3" r="2.9" fill="#006400"/><circle cx="264.3" cy="471.9" r="2.9" fill="#006400"/><circle cx="285.0" cy="490.7" r="2.9" fill="#006400"/><circle cx="230.8" cy="505.9" r="2.9" fill="#006400"/><circle cx="244.6" cy="490.4" r="2.9" fill="#006400"/><circle cx="233.6" cy="498.7" r="2.9" fill="#006400"/><circle cx="228.5" cy="523.9" r="2.9" fill="#006400"/><circle cx="224.1" cy="519.9" r="2.9" fill="#006400"/><circle cx="296.5" cy="471.5" r="2.9" fill="#006400"/><circle cx="269.5" cy="483.4" r="2.9" fill="#006400"/><circle cx="303.4" cy="461.5" r="2.9" fill="#006400"/><circle cx="268.6" cy="455.5" r="2.9" fill="#006400"/><circle cx="224.4" cy="524.4" r="2.9" fill="#006400"/><circle cx="241.0" cy="508.8" r="2.9" fill="#006400"/><circle cx="271.6" cy="468.2" r="2.9" fill="#006400"/><circle cx="246.0" cy="514.4" r="2.9" fill="#006400"/><circle cx="257.3" cy="490.6" r="2.9" fill="#006400"/><circle cx="271.6" cy="485.9" r="2.9" fill="#006400"/><circle cx="273.7" cy="477.0" r="2.9" fill="#006400"/><circle cx="253.5" cy="493.6" r="2.9" fill="#006400"/><circle cx="332.7" cy="414.9" r="2.9" fill="#006400"/><circle cx="237.4" cy="508.7" r="2.9" fill="#006400"/><circle cx="270.5" cy="497.6" r="2.9" fill="#006400"/><circle cx="270.6" cy="509.6" r="2.9" fill="#006400"/><circle cx="266.0" cy="479.4" r="2.9" fill="#006400"/><circle cx="221.0" cy="522.3" r="2.9" fill="#006400"/><circle cx="238.0" cy="505.2" r="2.9" fill="#006400"/><circle cx="251.0" cy="499.3" r="2.9" fill="#006400"/><circle cx="249.8" cy="492.4" r="2.9" fill="#006400"/><circle cx="232.6" cy="511.1" r="2.9" fill="#006400"/><circle cx="223.3" cy="518.8" r="2.9" fill="#006400"/><circle cx="238.2" cy="508.7" r="2.9" fill="#006400"/><circle cx="240.7" cy="500.0" r="2.9" fill="#006400"/><circle cx="232.5" cy="514.8" r="2.9" fill="#006400"/><circle cx="234.3" cy="506.1" r="2.9" fill="#006400"/><circle cx="252.5" cy="486.2" r="2.9" fill="#006400"/><circle cx="226.7" cy="515.6" r="2.9" fill="#006400"/><circle cx="231.1" cy="513.8" r="2.9" fill="#006400"/><circle cx="249.5" cy="491.4" r="2.9" fill="#006400"/><circle cx="220.9" cy="525.4" r="2.9" fill="#006400"/><circle cx="245.6" cy="502.5" r="2.9" fill="#006400"/><circle cx="252.3" cy="500.5" r="2.9" fill="#006400"/><circle cx="221.2" cy="519.6" r="2.9" fill="#006400"/><circle cx="250.8" cy="491.2" r="2.9" fill="#006400"/><circle cx="242.0" cy="506.1" r="2.9" fill="#006400"/><circle cx="244.7" cy="497.0" r="2.9" fill="#006400"/><circle cx="222.8" cy="523.5" r="2.9" fill="#006400"/><circle cx="223.5" cy="518.9" r="2.9" fill="#006400"/><circle cx="235.4" cy="509.1" r="2.9" fill="#006400"/><circle cx="224.1" cy="518.5" r="2.9" fill="#006400"/><circle cx="242.0" cy="498.3" r="2.9" fill="#006400"/><circle cx="225.8" cy="518.9" r="2.9" fill="#006400"/><circle cx="220.5" cy="521.8" r="2.9" fill="#006400"/><circle cx="250.6" cy="497.8" r="2.9" fill="#006400"/><circle cx="248.3" cy="497.0" r="2.9" fill="#006400"/><circle cx="234.3" cy="513.0" r="2.9" fill="#006400"/><circle cx="222.5" cy="515.6" r="2.9" fill="#006400"/><circle cx="240.3" cy="509.3" r="2.9" fill="#006400"/><circle cx="234.4" cy="515.3" r="2.9" fill="#006400"/><circle cx="235.3" cy="504.5" r="2.9" fill="#006400"/><circle cx="240.3" cy="504.3" r="2.9" fill="#006400"/><circle cx="221.2" cy="521.5" r="2.9" fill="#006400"/><circle cx="243.2" cy="505.4" r="2.9" fill="#006400"/><circle cx="248.5" cy="499.2" r="2.9" fill="#006400"/><circle cx="228.2" cy="519.1" r="2.9" fill="#006400"/><circle cx="228.4" cy="515.8" r="2.9" fill="#006400"/><circle cx="247.4" cy="500.7" r="2.9" fill="#006400"/><circle cx="235.7" cy="508.2" r="2.9" fill="#006400"/><circle cx="229.9" cy="514.0" r="2.9" fill="#006400"/><circle cx="252.1" cy="496.3" r="2.9" fill="#006400"/><circle cx="221.2" cy="519.0" r="2.9" fill="#006400"/><circle cx="226.4" cy="522.4" r="2.9" fill="#006400"/><circle cx="235.3" cy="511.3" r="2.9" fill="#006400"/><circle cx="226.1" cy="516.2" r="2.9" fill="#006400"/><circle cx="231.5" cy="500.3" r="2.9" fill="#006400"/><circle cx="250.3" cy="497.6" r="2.9" fill="#006400"/><circle cx="222.6" cy="524.4" r="2.9" fill="#006400"/><circle cx="221.2" cy="515.5" r="2.9" fill="#006400"/><circle cx="243.6" cy="505.9" r="2.9" fill="#006400"/><circle cx="219.8" cy="514.4" r="2.9" fill="#006400"/><circle cx="246.3" cy="501.7" r="2.9" fill="#006400"/><circle cx="219.4" cy="523.5" r="2.9" fill="#006400"/><circle cx="247.2" cy="502.2" r="2.9" fill="#006400"/><circle cx="233.9" cy="512.4" r="2.9" fill="#006400"/><circle cx="249.8" cy="496.2" r="2.9" fill="#006400"/><circle cx="223.9" cy="516.1" r="2.9" fill="#006400"/><circle cx="225.3" cy="519.0" r="2.9" fill="#006400"/><circle cx="225.9" cy="525.4" r="2.9" fill="#006400"/><circle cx="222.0" cy="518.4" r="2.9" fill="#006400"/><circle cx="235.9" cy="507.3" r="2.9" fill="#006400"/><circle cx="228.5" cy="515.5" r="2.9" fill="#006400"/><circle cx="243.0" cy="498.4" r="2.9" fill="#006400"/><circle cx="246.5" cy="502.6" r="2.9" fill="#006400"/><circle cx="221.5" cy="524.7" r="2.9" fill="#006400"/><circle cx="243.8" cy="508.0" r="2.9" fill="#006400"/><circle cx="221.2" cy="520.3" r="2.9" fill="#006400"/><circle cx="246.4" cy="504.2" r="2.9" fill="#006400"/><circle cx="248.2" cy="492.2" r="2.9" fill="#006400"/><circle cx="235.8" cy="501.6" r="2.9" fill="#006400"/><circle cx="235.3" cy="509.9" r="2.9" fill="#006400"/><circle cx="248.5" cy="498.7" r="2.9" fill="#006400"/><circle cx="247.1" cy="497.2" r="2.9" fill="#006400"/><circle cx="231.6" cy="512.1" r="2.9" fill="#006400"/><circle cx="239.2" cy="503.8" r="2.9" fill="#006400"/><circle cx="219.5" cy="525.4" r="2.9" fill="#006400"/><circle cx="236.6" cy="510.0" r="2.9" fill="#006400"/><circle cx="223.3" cy="523.3" r="2.9" fill="#006400"/><circle cx="248.3" cy="505.7" r="2.9" fill="#006400"/><circle cx="230.0" cy="516.4" r="2.9" fill="#006400"/><circle cx="244.5" cy="505.9" r="2.9" fill="#006400"/><circle cx="221.3" cy="516.7" r="2.9" fill="#006400"/><circle cx="235.9" cy="517.1" r="2.9" fill="#006400"/><circle cx="236.5" cy="514.3" r="2.9" fill="#006400"/><circle cx="220.0" cy="525.4" r="2.9" fill="#006400"/><circle cx="251.7" cy="495.1" r="2.9" fill="#006400"/><circle cx="222.7" cy="519.8" r="2.9" fill="#006400"/><circle cx="227.7" cy="517.3" r="2.9" fill="#006400"/><circle cx="222.5" cy="523.3" r="2.9" fill="#006400"/><circle cx="242.7" cy="503.6" r="2.9" fill="#006400"/><circle cx="239.4" cy="506.2" r="2.9" fill="#006400"/><circle cx="238.6" cy="513.6" r="2.9" fill="#006400"/><circle cx="222.7" cy="523.1" r="2.9" fill="#006400"/><circle cx="248.4" cy="498.8" r="2.9" fill="#006400"/><circle cx="223.4" cy="522.8" r="2.9" fill="#006400"/><circle cx="235.8" cy="513.3" r="2.9" fill="#006400"/><circle cx="223.4" cy="521.6" r="2.9" fill="#006400"/><circle cx="232.9" cy="509.5" r="2.9" fill="#006400"/><circle cx="248.1" cy="494.8" r="2.9" fill="#006400"/><circle cx="224.2" cy="525.4" r="2.9" fill="#006400"/><circle cx="224.8" cy="523.2" r="2.9" fill="#006400"/><circle cx="247.0" cy="496.3" r="2.9" fill="#006400"/><circle cx="233.4" cy="513.9" r="2.9" fill="#006400"/><circle cx="247.4" cy="503.4" r="2.9" fill="#006400"/><circle cx="250.8" cy="497.0" r="2.9" fill="#006400"/><circle cx="245.3" cy="503.0" r="2.9" fill="#006400"/><circle cx="230.5" cy="512.6" r="2.9" fill="#006400"/><circle cx="233.9" cy="504.9" r="2.9" fill="#006400"/><circle cx="249.9" cy="498.1" r="2.9" fill="#006400"/><circle cx="246.6" cy="499.5" r="2.9" fill="#006400"/><circle cx="236.6" cy="510.5" r="2.9" fill="#006400"/><circle cx="251.4" cy="493.1" r="2.9" fill="#006400"/><circle cx="233.4" cy="513.6" r="2.9" fill="#006400"/><circle cx="240.5" cy="509.0" r="2.9" fill="#006400"/><circle cx="221.6" cy="519.6" r="2.9" fill="#006400"/><circle cx="233.8" cy="512.8" r="2.9" fill="#006400"/><circle cx="316.4" cy="447.1" r="2.9" fill="#006400"/><circle cx="362.7" cy="405.0" r="2.9" fill="#006400"/><circle cx="343.9" cy="452.0" r="2.9" fill="#006400"/><circle cx="353.7" cy="398.5" r="2.9" fill="#006400"/><circle cx="310.5" cy="468.0" r="2.9" fill="#006400"/><circle cx="344.4" cy="426.1" r="2.9" fill="#006400"/><circle cx="323.8" cy="423.3" r="2.9" fill="#006400"/><circle cx="338.8" cy="414.3" r="2.9" fill="#006400"/><circle cx="322.6" cy="449.5" r="2.9" fill="#006400"/><circle cx="337.6" cy="456.2" r="2.9" fill="#006400"/><circle cx="324.6" cy="428.6" r="2.9" fill="#006400"/><circle cx="325.6" cy="443.1" r="2.9" fill="#006400"/><circle cx="341.7" cy="431.2" r="2.9" fill="#006400"/><circle cx="361.9" cy="419.4" r="2.9" fill="#006400"/><circle cx="334.6" cy="433.0" r="2.9" fill="#006400"/><circle cx="338.4" cy="425.6" r="2.9" fill="#006400"/><circle cx="315.9" cy="442.5" r="2.9" fill="#006400"/><circle cx="325.0" cy="448.1" r="2.9" fill="#006400"/><circle cx="322.2" cy="436.9" r="2.9" fill="#006400"/><circle cx="313.5" cy="470.9" r="2.9" fill="#006400"/><circle cx="342.6" cy="432.2" r="2.9" fill="#006400"/><circle cx="340.4" cy="432.2" r="2.9" fill="#006400"/><circle cx="348.2" cy="427.6" r="2.9" fill="#006400"/><circle cx="334.3" cy="448.0" r="2.9" fill="#006400"/><circle cx="334.7" cy="436.9" r="2.9" fill="#006400"/><circle cx="325.9" cy="438.9" r="2.9" fill="#006400"/><circle cx="337.2" cy="421.9" r="2.9" fill="#006400"/><circle cx="330.0" cy="437.6" r="2.9" fill="#006400"/><circle cx="328.3" cy="438.3" r="2.9" fill="#006400"/><circle cx="356.7" cy="413.3" r="2.9" fill="#006400"/><circle cx="336.0" cy="416.2" r="2.9" fill="#006400"/><circle cx="324.5" cy="430.6" r="2.9" fill="#006400"/><circle cx="351.7" cy="419.2" r="2.9" fill="#006400"/><circle cx="317.4" cy="424.4" r="2.9" fill="#006400"/><circle cx="333.1" cy="423.7" r="2.9" fill="#006400"/><circle cx="312.0" cy="460.1" r="2.9" fill="#006400"/><circle cx="349.6" cy="411.9" r="2.9" fill="#006400"/><circle cx="314.7" cy="443.7" r="2.9" fill="#006400"/><circle cx="349.8" cy="390.6" r="2.9" fill="#006400"/><circle cx="317.2" cy="452.0" r="2.9" fill="#006400"/><circle cx="346.3" cy="413.5" r="2.9" fill="#006400"/><circle cx="343.0" cy="412.7" r="2.9" fill="#006400"/><circle cx="337.5" cy="447.6" r="2.9" fill="#006400"/><circle cx="349.8" cy="420.8" r="2.9" fill="#006400"/><circle cx="335.1" cy="451.7" r="2.9" fill="#006400"/>
<line x1="220.6" y1="523.6" x2="369.7" y2="392.5" stroke="#000" stroke-width="1.2" stroke-dasharray="4,2.5"/></g>
</g>
<rect x="220.6" y="392.5" width="149.1" height="131.10000000000002" fill="none" stroke="#2d4d20" stroke-width="1"/>
<line x1="247.2" y1="523.6" x2="247.2" y2="526.1" stroke="#000" stroke-width="0.7"/>
<text x="247.2" y="535.2" font-family="Liberation Sans" font-size="8.2" text-anchor="middle" textLength="21.5" lengthAdjust="spacingAndGlyphs" >0.025</text>
<line x1="274.7" y1="523.6" x2="274.7" y2="526.1" stroke="#000" stroke-width="0.7"/>
<text x="274.7" y="535.2" font-family="Liberation Sans" font-size="8.2" text-anchor="middle" textLength="21.5" lengthAdjust="spacingAndGlyphs" >0.050</text>
<line x1="302.3" y1="523.6" x2="302.3" y2="526.1" stroke="#000" stroke-width="0.7"/>
<text x="302.3" y="535.2" font-family="Liberation Sans" font-size="8.2" text-anchor="middle" textLength="21.5" lengthAdjust="spacingAndGlyphs" >0.075</text>
<line x1="330.4" y1="523.6" x2="330.4" y2="526.1" stroke="#000" stroke-width="0.7"/>
<text x="330.4" y="535.2" font-family="Liberation Sans" font-size="8.2" text-anchor="middle" textLength="21.5" lengthAdjust="spacingAndGlyphs" >0.100</text>
<line x1="358.7" y1="523.6" x2="358.7" y2="526.1" stroke="#000" stroke-width="0.7"/>
<text x="358.7" y="535.2" font-family="Liberation Sans" font-size="8.2" text-anchor="middle" textLength="21.5" lengthAdjust="spacingAndGlyphs" >0.125</text>
<line x1="218.1" y1="505.8" x2="220.6" y2="505.8" stroke="#000" stroke-width="0.7"/>
<text x="217.0" y="508.8" font-family="Liberation Sans" font-size="8.2" text-anchor="end" textLength="17.5" lengthAdjust="spacingAndGlyphs" >0.02</text>
<line x1="218.1" y1="486" x2="220.6" y2="486" stroke="#000" stroke-width="0.7"/>
<text x="217.0" y="489.0" font-family="Liberation Sans" font-size="8.2" text-anchor="end" textLength="17.5" lengthAdjust="spacingAndGlyphs" >0.04</text>
<line x1="218.1" y1="466.5" x2="220.6" y2="466.5" stroke="#000" stroke-width="0.7"/>
<text x="217.0" y="469.5" font-family="Liberation Sans" font-size="8.2" text-anchor="end" textLength="17.5" lengthAdjust="spacingAndGlyphs" >0.06</text>
<line x1="218.1" y1="446.7" x2="220.6" y2="446.7" stroke="#000" stroke-width="0.7"/>
<text x="217.0" y="449.7" font-family="Liberation Sans" font-size="8.2" text-anchor="end" textLength="17.5" lengthAdjust="spacingAndGlyphs" >0.08</text>
<line x1="218.1" y1="427.1" x2="220.6" y2="427.1" stroke="#000" stroke-width="0.7"/>
<text x="217.0" y="430.1" font-family="Liberation Sans" font-size="8.2" text-anchor="end" textLength="17.5" lengthAdjust="spacingAndGlyphs" >0.10</text>
<line x1="218.1" y1="407.6" x2="220.6" y2="407.6" stroke="#000" stroke-width="0.7"/>
<text x="217.0" y="410.6" font-family="Liberation Sans" font-size="8.2" text-anchor="end" textLength="17.5" lengthAdjust="spacingAndGlyphs" >0.12</text>
<text x="295.3" y="547.0" font-family="Liberation Sans" font-size="8.2" text-anchor="middle" textLength="69" lengthAdjust="spacingAndGlyphs" >Henry's Constant</text>
<text transform="translate(195,459) rotate(-90)" font-family="Liberation Sans" font-size="8" text-anchor="middle" textLength="23" lengthAdjust="spacingAndGlyphs">dq/dp</text>
<rect x="86" y="385.6" width="293" height="257.19999999999993" fill="none" stroke="#1a1a1a" stroke-width="1.6"/>
<line x1="86" y1="642.8" x2="86" y2="648.3" stroke="#000" stroke-width="1.1"/>
<text x="86.0" y="666.8" font-family="Liberation Sans" font-size="17" text-anchor="middle" textLength="34" lengthAdjust="spacingAndGlyphs" >0.00</text>
<line x1="144.6" y1="642.8" x2="144.6" y2="648.3" stroke="#000" stroke-width="1.1"/>
<text x="144.6" y="666.8" font-family="Liberation Sans" font-size="17" text-anchor="middle" textLength="34" lengthAdjust="spacingAndGlyphs" >0.01</text>
<line x1="203.2" y1="642.8" x2="203.2" y2="648.3" stroke="#000" stroke-width="1.1"/>
<text x="203.2" y="666.8" font-family="Liberation Sans" font-size="17" text-anchor="middle" textLength="34" lengthAdjust="spacingAndGlyphs" >0.02</text>
<line x1="261.8" y1="642.8" x2="261.8" y2="648.3" stroke="#000" stroke-width="1.1"/>
<text x="261.8" y="666.8" font-family="Liberation Sans" font-size="17" text-anchor="middle" textLength="34" lengthAdjust="spacingAndGlyphs" >0.03</text>
<line x1="320.4" y1="642.8" x2="320.4" y2="648.3" stroke="#000" stroke-width="1.1"/>
<text x="320.4" y="666.8" font-family="Liberation Sans" font-size="17" text-anchor="middle" textLength="34" lengthAdjust="spacingAndGlyphs" >0.04</text>
<line x1="379" y1="642.8" x2="379" y2="648.3" stroke="#000" stroke-width="1.1"/>
<text x="379.0" y="666.8" font-family="Liberation Sans" font-size="17" text-anchor="middle" textLength="34" lengthAdjust="spacingAndGlyphs" >0.05</text>
<line x1="80" y1="606.7" x2="86" y2="606.7" stroke="#000" stroke-width="1.1"/>
<text x="74.3" y="612.7" font-family="Liberation Sans" font-size="17" text-anchor="end" textLength="38.7" lengthAdjust="spacingAndGlyphs" >1000</text>
<line x1="80" y1="569.2" x2="86" y2="569.2" stroke="#000" stroke-width="1.1"/>
<text x="74.3" y="575.2" font-family="Liberation Sans" font-size="17" text-anchor="end" textLength="38.7" lengthAdjust="spacingAndGlyphs" >2000</text>
<line x1="80" y1="531.6" x2="86" y2="531.6" stroke="#000" stroke-width="1.1"/>
<text x="74.3" y="537.6" font-family="Liberation Sans" font-size="17" text-anchor="end" textLength="38.7" lengthAdjust="spacingAndGlyphs" >3000</text>
<line x1="80" y1="494" x2="86" y2="494" stroke="#000" stroke-width="1.1"/>
<text x="74.3" y="500.0" font-family="Liberation Sans" font-size="17" text-anchor="end" textLength="38.7" lengthAdjust="spacingAndGlyphs" >4000</text>
<line x1="80" y1="456.4" x2="86" y2="456.4" stroke="#000" stroke-width="1.1"/>
<text x="74.3" y="462.4" font-family="Liberation Sans" font-size="17" text-anchor="end" textLength="38.7" lengthAdjust="spacingAndGlyphs" >5000</text>
<line x1="80" y1="419" x2="86" y2="419" stroke="#000" stroke-width="1.1"/>
<text x="74.3" y="425.0" font-family="Liberation Sans" font-size="17" text-anchor="end" textLength="38.7" lengthAdjust="spacingAndGlyphs" >6000</text>
<text transform="translate(24.6,525) rotate(-90)" font-family="Liberation Sans" font-size="17.5" text-anchor="middle" textLength="98" lengthAdjust="spacingAndGlyphs">Surface Area</text>
<text x="225.6" y="693.0" font-family="Liberation Sans" font-size="16" text-anchor="middle" textLength="92" lengthAdjust="spacingAndGlyphs" >Uptake [g/g]</text>
<path d="M83,334.5 L86,385.6" fill="none" stroke="#000" stroke-width="1.7" stroke-dasharray="6,4"/>
<path d="M261,334.5 C266,337 267,347 272.5,354 C278,360 290,363 300.8,365.3 C320,369.5 345,373 357.5,375.2 C366,377 374,380 379,385.6" fill="none" stroke="#1e3a55" stroke-width="1.7" stroke-dasharray="6,4"/>
<polygon points="516.0,558.0 603.0,479.0 603.0,362.0 516.0,441.0" fill="rgb(242,242,242)" fill-opacity="0.5"/><polygon points="603.0,479.0 759.0,525.0 759.0,408.0 603.0,362.0" fill="rgb(230,230,230)" fill-opacity="0.5"/><polygon points="516.0,558.0 672.0,604.0 759.0,525.0 603.0,479.0" fill="rgb(236,236,236)" fill-opacity="0.5"/><line x1="533.4" y1="542.2" x2="533.4" y2="425.2" stroke="#b4b4b4" stroke-width="0.8"/><line x1="533.4" y1="542.2" x2="689.4" y2="588.2" stroke="#b4b4b4" stroke-width="0.8"/><line x1="552.4" y1="525.0" x2="552.4" y2="408.0" stroke="#b4b4b4" stroke-width="0.8"/><line x1="552.4" y1="525.0" x2="708.4" y2="571.0" stroke="#b4b4b4" stroke-width="0.8"/><line x1="571.0" y1="508.1" x2="571.0" y2="391.1" stroke="#b4b4b4" stroke-width="0.8"/><line x1="571.0" y1="508.1" x2="727.0" y2="554.1" stroke="#b4b4b4" stroke-width="0.8"/><line x1="589.9" y1="490.9" x2="589.9" y2="373.9" stroke="#b4b4b4" stroke-width="0.8"/><line x1="589.9" y1="490.9" x2="745.9" y2="536.9" stroke="#b4b4b4" stroke-width="0.8"/><line x1="516.0" y1="542.1" x2="603.0" y2="463.1" stroke="#b4b4b4" stroke-width="0.8"/><line x1="603.0" y1="463.1" x2="759.0" y2="509.1" stroke="#b4b4b4" stroke-width="0.8"/><line x1="516.0" y1="528.9" x2="603.0" y2="449.9" stroke="#b4b4b4" stroke-width="0.8"/><line x1="603.0" y1="449.9" x2="759.0" y2="495.9" stroke="#b4b4b4" stroke-width="0.8"/><line x1="516.0" y1="515.7" x2="603.0" y2="436.7" stroke="#b4b4b4" stroke-width="0.8"/><line x1="603.0" y1="436.7" x2="759.0" y2="482.7" stroke="#b4b4b4" stroke-width="0.8"/><line x1="516.0" y1="502.5" x2="603.0" y2="423.5" stroke="#b4b4b4" stroke-width="0.8"/><line x1="603.0" y1="423.5" x2="759.0" y2="469.5" stroke="#b4b4b4" stroke-width="0.8"/><line x1="516.0" y1="489.3" x2="603.0" y2="410.3" stroke="#b4b4b4" stroke-width="0.8"/><line x1="603.0" y1="410.3" x2="759.0" y2="456.3" stroke="#b4b4b4" stroke-width="0.8"/><line x1="516.0" y1="476.2" x2="603.0" y2="397.2" stroke="#b4b4b4" stroke-width="0.8"/><line x1="603.0" y1="397.2" x2="759.0" y2="443.2" stroke="#b4b4b4" stroke-width="0.8"/><line x1="516.0" y1="463.0" x2="603.0" y2="384.0" stroke="#b4b4b4" stroke-width="0.8"/><line x1="603.0" y1="384.0" x2="759.0" y2="430.0" stroke="#b4b4b4" stroke-width="0.8"/><line x1="516.0" y1="449.8" x2="603.0" y2="370.8" stroke="#b4b4b4" stroke-width="0.8"/><line x1="603.0" y1="370.8" x2="759.0" y2="416.8" stroke="#b4b4b4" stroke-width="0.8"/><line x1="614.4" y1="482.4" x2="614.4" y2="365.4" stroke="#b4b4b4" stroke-width="0.8"/><line x1="527.4" y1="561.4" x2="614.4" y2="482.4" stroke="#b4b4b4" stroke-width="0.8"/><line x1="638.5" y1="489.5" x2="638.5" y2="372.5" stroke="#b4b4b4" stroke-width="0.8"/><line x1="551.5" y1="568.5" x2="638.5" y2="489.5" stroke="#b4b4b4" stroke-width="0.8"/><line x1="662.6" y1="496.6" x2="662.6" y2="379.6" stroke="#b4b4b4" stroke-width="0.8"/><line x1="575.6" y1="575.6" x2="662.6" y2="496.6" stroke="#b4b4b4" stroke-width="0.8"/><line x1="686.7" y1="503.7" x2="686.7" y2="386.7" stroke="#b4b4b4" stroke-width="0.8"/><line x1="599.7" y1="582.7" x2="686.7" y2="503.7" stroke="#b4b4b4" stroke-width="0.8"/><line x1="710.8" y1="510.8" x2="710.8" y2="393.8" stroke="#b4b4b4" stroke-width="0.8"/><line x1="623.8" y1="589.8" x2="710.8" y2="510.8" stroke="#b4b4b4" stroke-width="0.8"/><line x1="734.9" y1="517.9" x2="734.9" y2="400.9" stroke="#b4b4b4" stroke-width="0.8"/><line x1="647.9" y1="596.9" x2="734.9" y2="517.9" stroke="#b4b4b4" stroke-width="0.8"/>
<circle cx="576.8" cy="436.7" r="2.4" fill="#48186a" fill-opacity="0.85"/><circle cx="552.3" cy="439.7" r="2.4" fill="#470e61" fill-opacity="0.85"/><circle cx="676.3" cy="474.2" r="2.4" fill="#48186a" fill-opacity="0.85"/><circle cx="568.6" cy="436.6" r="2.4" fill="#481b6d" fill-opacity="0.85"/><circle cx="632.8" cy="453.2" r="2.4" fill="#471063" fill-opacity="0.85"/><circle cx="557.8" cy="451.1" r="2.4" fill="#481d6f" fill-opacity="0.85"/><circle cx="635.4" cy="468.9" r="2.4" fill="#481467" fill-opacity="0.85"/><circle cx="666.1" cy="478.4" r="2.4" fill="#470e61" fill-opacity="0.85"/><circle cx="670.9" cy="472.8" r="2.4" fill="#481668" fill-opacity="0.85"/><circle cx="593.3" cy="448.0" r="2.4" fill="#481f70" fill-opacity="0.85"/><circle cx="634.8" cy="464.2" r="2.4" fill="#481a6c" fill-opacity="0.85"/><circle cx="573.3" cy="438.9" r="2.4" fill="#481769" fill-opacity="0.85"/><circle cx="639.2" cy="456.4" r="2.4" fill="#471063" fill-opacity="0.85"/><circle cx="562.4" cy="446.6" r="2.4" fill="#481c6e" fill-opacity="0.85"/><circle cx="598.6" cy="451.3" r="2.4" fill="#481d6f" fill-opacity="0.85"/><circle cx="559.4" cy="447.9" r="2.4" fill="#471164" fill-opacity="0.85"/><circle cx="652.8" cy="475.5" r="2.4" fill="#471063" fill-opacity="0.85"/><circle cx="560.5" cy="443.3" r="2.4" fill="#471365" fill-opacity="0.85"/><circle cx="626.5" cy="455.5" r="2.4" fill="#471063" fill-opacity="0.85"/><circle cx="667.6" cy="480.3" r="2.4" fill="#481668" fill-opacity="0.85"/><circle cx="626.3" cy="461.1" r="2.4" fill="#481f70" fill-opacity="0.85"/><circle cx="608.8" cy="454.9" r="2.4" fill="#471063" fill-opacity="0.85"/><circle cx="672.7" cy="475.2" r="2.4" fill="#471365" fill-opacity="0.85"/><circle cx="619.0" cy="451.0" r="2.4" fill="#460a5d" fill-opacity="0.85"/><circle cx="625.2" cy="458.5" r="2.4" fill="#481a6c" fill-opacity="0.85"/><circle cx="644.0" cy="456.3" r="2.4" fill="#482071" fill-opacity="0.85"/><circle cx="579.2" cy="435.4" r="2.4" fill="#471164" fill-opacity="0.85"/><circle cx="586.3" cy="440.9" r="2.4" fill="#471164" fill-opacity="0.85"/><circle cx="645.4" cy="455.5" r="2.4" fill="#471063" fill-opacity="0.85"/><circle cx="576.0" cy="439.6" r="2.4" fill="#471365" fill-opacity="0.85"/><circle cx="636.0" cy="456.9" r="2.4" fill="#481d6f" fill-opacity="0.85"/><circle cx="598.5" cy="460.1" r="2.4" fill="#48186a" fill-opacity="0.85"/><circle cx="661.1" cy="469.9" r="2.4" fill="#481668" fill-opacity="0.85"/><circle cx="571.8" cy="437.8" r="2.4" fill="#471063" fill-opacity="0.85"/><circle cx="650.2" cy="465.7" r="2.4" fill="#460b5e" fill-opacity="0.85"/><circle cx="580.6" cy="444.6" r="2.4" fill="#471365" fill-opacity="0.85"/><circle cx="597.5" cy="452.1" r="2.4" fill="#46085c" fill-opacity="0.85"/><circle cx="667.9" cy="478.3" r="2.4" fill="#482071" fill-opacity="0.85"/><circle cx="667.4" cy="466.7" r="2.4" fill="#481a6c" fill-opacity="0.85"/><circle cx="610.5" cy="454.9" r="2.4" fill="#460a5d" fill-opacity="0.85"/><circle cx="620.9" cy="455.7" r="2.4" fill="#481f70" fill-opacity="0.85"/><circle cx="636.3" cy="465.7" r="2.4" fill="#481769" fill-opacity="0.85"/><circle cx="557.4" cy="453.0" r="2.4" fill="#48186a" fill-opacity="0.85"/><circle cx="613.0" cy="455.4" r="2.4" fill="#471164" fill-opacity="0.85"/><circle cx="574.1" cy="440.4" r="2.4" fill="#471164" fill-opacity="0.85"/><circle cx="573.0" cy="434.0" r="2.4" fill="#481c6e" fill-opacity="0.85"/><circle cx="663.6" cy="476.0" r="2.4" fill="#48186a" fill-opacity="0.85"/><circle cx="660.5" cy="463.8" r="2.4" fill="#481668" fill-opacity="0.85"/><circle cx="597.2" cy="453.3" r="2.4" fill="#460a5d" fill-opacity="0.85"/><circle cx="563.9" cy="434.6" r="2.4" fill="#481d6f" fill-opacity="0.85"/><circle cx="558.8" cy="442.3" r="2.4" fill="#471164" fill-opacity="0.85"/><circle cx="627.8" cy="462.2" r="2.4" fill="#471164" fill-opacity="0.85"/><circle cx="563.4" cy="437.5" r="2.4" fill="#460a5d" fill-opacity="0.85"/><circle cx="568.5" cy="431.0" r="2.4" fill="#471164" fill-opacity="0.85"/><circle cx="648.2" cy="466.6" r="2.4" fill="#481668" fill-opacity="0.85"/><circle cx="636.1" cy="459.2" r="2.4" fill="#470e61" fill-opacity="0.85"/><circle cx="613.4" cy="460.8" r="2.4" fill="#471365" fill-opacity="0.85"/><circle cx="655.5" cy="476.9" r="2.4" fill="#481c6e" fill-opacity="0.85"/><circle cx="582.7" cy="438.8" r="2.4" fill="#48186a" fill-opacity="0.85"/><circle cx="658.2" cy="472.1" r="2.4" fill="#481769" fill-opacity="0.85"/><circle cx="562.1" cy="440.6" r="2.4" fill="#481b6d" fill-opacity="0.85"/><circle cx="553.3" cy="445.1" r="2.4" fill="#470d60" fill-opacity="0.85"/><circle cx="560.5" cy="453.1" r="2.4" fill="#481a6c" fill-opacity="0.85"/><circle cx="649.7" cy="471.4" r="2.4" fill="#46085c" fill-opacity="0.85"/><circle cx="645.4" cy="462.4" r="2.4" fill="#481b6d" fill-opacity="0.85"/><circle cx="668.4" cy="468.5" r="2.4" fill="#481c6e" fill-opacity="0.85"/><circle cx="582.0" cy="434.0" r="2.4" fill="#481b6d" fill-opacity="0.85"/><circle cx="594.4" cy="450.4" r="2.4" fill="#471365" fill-opacity="0.85"/><circle cx="560.2" cy="441.5" r="2.4" fill="#481b6d" fill-opacity="0.85"/><circle cx="569.3" cy="435.8" r="2.4" fill="#481668" fill-opacity="0.85"/><circle cx="605.6" cy="457.4" r="2.4" fill="#460a5d" fill-opacity="0.85"/><circle cx="640.7" cy="468.1" r="2.4" fill="#481b6d" fill-opacity="0.85"/><circle cx="571.9" cy="432.4" r="2.4" fill="#471063" fill-opacity="0.85"/><circle cx="578.4" cy="437.0" r="2.4" fill="#481a6c" fill-opacity="0.85"/><circle cx="591.6" cy="456.0" r="2.4" fill="#470e61" fill-opacity="0.85"/><circle cx="553.9" cy="449.5" r="2.4" fill="#471164" fill-opacity="0.85"/><circle cx="586.3" cy="449.3" r="2.4" fill="#481467" fill-opacity="0.85"/><circle cx="622.9" cy="456.9" r="2.4" fill="#481769" fill-opacity="0.85"/><circle cx="605.2" cy="457.8" r="2.4" fill="#481b6d" fill-opacity="0.85"/><circle cx="670.9" cy="474.6" r="2.4" fill="#481a6c" fill-opacity="0.85"/><circle cx="632.1" cy="466.6" r="2.4" fill="#470d60" fill-opacity="0.85"/><circle cx="582.9" cy="431.9" r="2.4" fill="#481f70" fill-opacity="0.85"/><circle cx="575.9" cy="441.5" r="2.4" fill="#481b6d" fill-opacity="0.85"/><circle cx="554.8" cy="437.6" r="2.4" fill="#471164" fill-opacity="0.85"/><circle cx="619.6" cy="461.2" r="2.4" fill="#471365" fill-opacity="0.85"/><circle cx="604.2" cy="450.5" r="2.4" fill="#471365" fill-opacity="0.85"/><circle cx="614.7" cy="454.3" r="2.4" fill="#460b5e" fill-opacity="0.85"/><circle cx="660.8" cy="476.8" r="2.4" fill="#471164" fill-opacity="0.85"/><circle cx="645.2" cy="468.2" r="2.4" fill="#48186a" fill-opacity="0.85"/><circle cx="652.2" cy="458.9" r="2.4" fill="#481a6c" fill-opacity="0.85"/><circle cx="612.7" cy="452.3" r="2.4" fill="#481a6c" fill-opacity="0.85"/><circle cx="633.5" cy="463.5" r="2.4" fill="#48186a" fill-opacity="0.85"/><circle cx="569.3" cy="438.9" r="2.4" fill="#481f70" fill-opacity="0.85"/><circle cx="563.9" cy="433.1" r="2.4" fill="#481769" fill-opacity="0.85"/><circle cx="628.3" cy="460.5" r="2.4" fill="#460a5d" fill-opacity="0.85"/><circle cx="635.8" cy="464.8" r="2.4" fill="#471164" fill-opacity="0.85"/><circle cx="582.5" cy="436.6" r="2.4" fill="#481668" fill-opacity="0.85"/><circle cx="575.9" cy="439.5" r="2.4" fill="#471365" fill-opacity="0.85"/><circle cx="611.4" cy="463.3" r="2.4" fill="#460b5e" fill-opacity="0.85"/><circle cx="587.2" cy="435.9" r="2.4" fill="#481b6d" fill-opacity="0.85"/><circle cx="569.6" cy="430.7" r="2.4" fill="#481c6e" fill-opacity="0.85"/><circle cx="643.4" cy="464.7" r="2.4" fill="#470d60" fill-opacity="0.85"/><circle cx="611.7" cy="459.1" r="2.4" fill="#481c6e" fill-opacity="0.85"/><circle cx="561.1" cy="448.6" r="2.4" fill="#471164" fill-opacity="0.85"/><circle cx="612.7" cy="456.7" r="2.4" fill="#481a6c" fill-opacity="0.85"/><circle cx="579.2" cy="445.1" r="2.4" fill="#481b6d" fill-opacity="0.85"/><circle cx="555.7" cy="452.4" r="2.4" fill="#481668" fill-opacity="0.85"/><circle cx="603.0" cy="450.8" r="2.4" fill="#481668" fill-opacity="0.85"/><circle cx="625.6" cy="458.4" r="2.4" fill="#481f70" fill-opacity="0.85"/><circle cx="566.6" cy="440.4" r="2.4" fill="#471164" fill-opacity="0.85"/><circle cx="575.7" cy="428.1" r="2.4" fill="#471063" fill-opacity="0.85"/><circle cx="659.2" cy="473.2" r="2.4" fill="#481769" fill-opacity="0.85"/><circle cx="665.1" cy="474.4" r="2.4" fill="#481c6e" fill-opacity="0.85"/><circle cx="663.2" cy="478.4" r="2.4" fill="#481467" fill-opacity="0.85"/><circle cx="558.9" cy="434.0" r="2.4" fill="#470d60" fill-opacity="0.85"/><circle cx="605.5" cy="458.7" r="2.4" fill="#48186a" fill-opacity="0.85"/><circle cx="585.4" cy="440.4" r="2.4" fill="#470d60" fill-opacity="0.85"/><circle cx="660.4" cy="474.5" r="2.4" fill="#481668" fill-opacity="0.85"/><circle cx="622.9" cy="455.4" r="2.4" fill="#481c6e" fill-opacity="0.85"/><circle cx="565.7" cy="436.9" r="2.4" fill="#470d60" fill-opacity="0.85"/>
<circle cx="581.4" cy="431.8" r="2.4" fill="#460b5e" fill-opacity="0.85"/><circle cx="577.3" cy="430.1" r="2.4" fill="#460b5e" fill-opacity="0.85"/><circle cx="579.2" cy="432.7" r="2.4" fill="#460b5e" fill-opacity="0.85"/><circle cx="582.2" cy="433.0" r="2.4" fill="#460b5e" fill-opacity="0.85"/><circle cx="579.5" cy="429.3" r="2.4" fill="#460b5e" fill-opacity="0.85"/><circle cx="581.1" cy="435.2" r="2.4" fill="#460b5e" fill-opacity="0.85"/><circle cx="582.3" cy="434.6" r="2.4" fill="#460b5e" fill-opacity="0.85"/><circle cx="583.0" cy="439.4" r="2.4" fill="#460b5e" fill-opacity="0.85"/><circle cx="579.7" cy="438.7" r="2.4" fill="#460b5e" fill-opacity="0.85"/><circle cx="576.7" cy="437.8" r="2.4" fill="#460b5e" fill-opacity="0.85"/>
<circle cx="607.7" cy="440.5" r="2.4" fill="#471063" fill-opacity="0.85"/><circle cx="604.8" cy="440.5" r="2.4" fill="#471063" fill-opacity="0.85"/><circle cx="608.0" cy="453.0" r="2.4" fill="#471063" fill-opacity="0.85"/><circle cx="609.1" cy="456.2" r="2.4" fill="#471063" fill-opacity="0.85"/><circle cx="608.7" cy="457.1" r="2.4" fill="#471063" fill-opacity="0.85"/><circle cx="605.0" cy="443.3" r="2.4" fill="#471063" fill-opacity="0.85"/><circle cx="608.7" cy="452.7" r="2.4" fill="#471063" fill-opacity="0.85"/><circle cx="607.4" cy="452.9" r="2.4" fill="#471063" fill-opacity="0.85"/>
<circle cx="604.2" cy="470.9" r="2.4" fill="#481467" fill-opacity="0.9"/><circle cx="572.5" cy="468.5" r="2.4" fill="#481769" fill-opacity="0.9"/><circle cx="612.8" cy="474.2" r="2.4" fill="#481a6c" fill-opacity="0.9"/><circle cx="638.7" cy="496.9" r="2.4" fill="#482374" fill-opacity="0.9"/><circle cx="625.1" cy="492.2" r="2.4" fill="#482576" fill-opacity="0.9"/><circle cx="637.4" cy="490.5" r="2.4" fill="#481769" fill-opacity="0.9"/><circle cx="662.1" cy="504.0" r="2.4" fill="#470e61" fill-opacity="0.9"/><circle cx="630.1" cy="484.6" r="2.4" fill="#481d6f" fill-opacity="0.9"/><circle cx="624.7" cy="480.8" r="2.4" fill="#471365" fill-opacity="0.9"/><circle cx="619.3" cy="480.7" r="2.4" fill="#482173" fill-opacity="0.9"/><circle cx="618.0" cy="478.0" r="2.4" fill="#482374" fill-opacity="0.9"/><circle cx="571.9" cy="456.8" r="2.4" fill="#482475" fill-opacity="0.9"/><circle cx="566.2" cy="464.8" r="2.4" fill="#481d6f" fill-opacity="0.9"/><circle cx="625.7" cy="490.6" r="2.4" fill="#481d6f" fill-opacity="0.9"/><circle cx="608.9" cy="470.4" r="2.4" fill="#482374" fill-opacity="0.9"/><circle cx="577.1" cy="468.7" r="2.4" fill="#470e61" fill-opacity="0.9"/><circle cx="596.3" cy="473.8" r="2.4" fill="#482071" fill-opacity="0.9"/><circle cx="601.8" cy="478.3" r="2.4" fill="#481668" fill-opacity="0.9"/><circle cx="661.5" cy="510.4" r="2.4" fill="#471365" fill-opacity="0.9"/><circle cx="572.0" cy="470.3" r="2.4" fill="#482677" fill-opacity="0.9"/><circle cx="619.4" cy="492.0" r="2.4" fill="#482677" fill-opacity="0.9"/><circle cx="645.8" cy="506.2" r="2.4" fill="#48186a" fill-opacity="0.9"/><circle cx="653.4" cy="517.9" r="2.4" fill="#471164" fill-opacity="0.9"/><circle cx="565.3" cy="468.3" r="2.4" fill="#481d6f" fill-opacity="0.9"/><circle cx="559.1" cy="466.4" r="2.4" fill="#481668" fill-opacity="0.9"/><circle cx="635.6" cy="497.1" r="2.4" fill="#481467" fill-opacity="0.9"/><circle cx="605.6" cy="471.5" r="2.4" fill="#482071" fill-opacity="0.9"/><circle cx="652.8" cy="512.8" r="2.4" fill="#471063" fill-opacity="0.9"/><circle cx="589.7" cy="471.2" r="2.4" fill="#481769" fill-opacity="0.9"/><circle cx="648.3" cy="496.4" r="2.4" fill="#482374" fill-opacity="0.9"/><circle cx="590.9" cy="467.4" r="2.4" fill="#471063" fill-opacity="0.9"/><circle cx="615.0" cy="482.6" r="2.4" fill="#471164" fill-opacity="0.9"/><circle cx="642.8" cy="493.7" r="2.4" fill="#482677" fill-opacity="0.9"/><circle cx="562.8" cy="456.6" r="2.4" fill="#481668" fill-opacity="0.9"/><circle cx="562.4" cy="463.1" r="2.4" fill="#471365" fill-opacity="0.9"/><circle cx="644.4" cy="495.4" r="2.4" fill="#48186a" fill-opacity="0.9"/><circle cx="625.9" cy="488.3" r="2.4" fill="#471365" fill-opacity="0.9"/><circle cx="570.3" cy="467.6" r="2.4" fill="#482374" fill-opacity="0.9"/><circle cx="619.0" cy="479.9" r="2.4" fill="#481d6f" fill-opacity="0.9"/><circle cx="646.3" cy="505.3" r="2.4" fill="#482576" fill-opacity="0.9"/><circle cx="643.1" cy="499.0" r="2.4" fill="#471164" fill-opacity="0.9"/><circle cx="577.2" cy="469.5" r="2.4" fill="#48186a" fill-opacity="0.9"/><circle cx="596.1" cy="471.7" r="2.4" fill="#482677" fill-opacity="0.9"/><circle cx="573.2" cy="462.8" r="2.4" fill="#482475" fill-opacity="0.9"/><circle cx="643.2" cy="503.5" r="2.4" fill="#481c6e" fill-opacity="0.9"/><circle cx="616.8" cy="484.5" r="2.4" fill="#482576" fill-opacity="0.9"/><circle cx="565.7" cy="467.4" r="2.4" fill="#482576" fill-opacity="0.9"/><circle cx="656.5" cy="511.7" r="2.4" fill="#471164" fill-opacity="0.9"/><circle cx="596.7" cy="480.8" r="2.4" fill="#482677" fill-opacity="0.9"/><circle cx="658.2" cy="505.4" r="2.4" fill="#471063" fill-opacity="0.9"/><circle cx="582.2" cy="477.0" r="2.4" fill="#471164" fill-opacity="0.9"/><circle cx="564.7" cy="461.0" r="2.4" fill="#481d6f" fill-opacity="0.9"/><circle cx="648.4" cy="493.0" r="2.4" fill="#470e61" fill-opacity="0.9"/><circle cx="586.0" cy="471.4" r="2.4" fill="#470d60" fill-opacity="0.9"/><circle cx="581.8" cy="477.8" r="2.4" fill="#471164" fill-opacity="0.9"/><circle cx="656.8" cy="512.2" r="2.4" fill="#470d60" fill-opacity="0.9"/><circle cx="642.5" cy="491.4" r="2.4" fill="#482475" fill-opacity="0.9"/><circle cx="558.0" cy="468.5" r="2.4" fill="#470e61" fill-opacity="0.9"/><circle cx="596.8" cy="483.2" r="2.4" fill="#471063" fill-opacity="0.9"/><circle cx="571.4" cy="462.2" r="2.4" fill="#471164" fill-opacity="0.9"/><circle cx="650.4" cy="509.9" r="2.4" fill="#481668" fill-opacity="0.9"/><circle cx="656.9" cy="505.9" r="2.4" fill="#470d60" fill-opacity="0.9"/><circle cx="593.6" cy="475.6" r="2.4" fill="#481a6c" fill-opacity="0.9"/><circle cx="614.0" cy="480.8" r="2.4" fill="#471164" fill-opacity="0.9"/><circle cx="619.1" cy="490.7" r="2.4" fill="#482677" fill-opacity="0.9"/><circle cx="650.2" cy="494.3" r="2.4" fill="#470d60" fill-opacity="0.9"/><circle cx="660.3" cy="508.6" r="2.4" fill="#460b5e" fill-opacity="0.9"/><circle cx="650.7" cy="503.9" r="2.4" fill="#481b6d" fill-opacity="0.9"/><circle cx="641.7" cy="488.1" r="2.4" fill="#471063" fill-opacity="0.9"/><circle cx="622.5" cy="482.9" r="2.4" fill="#481668" fill-opacity="0.9"/><circle cx="598.4" cy="475.1" r="2.4" fill="#482475" fill-opacity="0.9"/><circle cx="649.8" cy="494.8" r="2.4" fill="#471063" fill-opacity="0.9"/><circle cx="609.3" cy="485.0" r="2.4" fill="#481467" fill-opacity="0.9"/><circle cx="657.1" cy="508.5" r="2.4" fill="#482475" fill-opacity="0.9"/><circle cx="657.2" cy="511.5" r="2.4" fill="#470e61" fill-opacity="0.9"/><circle cx="601.7" cy="481.5" r="2.4" fill="#482475" fill-opacity="0.9"/><circle cx="595.7" cy="482.8" r="2.4" fill="#481b6d" fill-opacity="0.9"/><circle cx="654.3" cy="498.2" r="2.4" fill="#481769" fill-opacity="0.9"/><circle cx="588.8" cy="472.3" r="2.4" fill="#481f70" fill-opacity="0.9"/><circle cx="651.5" cy="502.0" r="2.4" fill="#481769" fill-opacity="0.9"/><circle cx="627.4" cy="481.6" r="2.4" fill="#481467" fill-opacity="0.9"/><circle cx="560.4" cy="460.9" r="2.4" fill="#482071" fill-opacity="0.9"/><circle cx="645.3" cy="501.8" r="2.4" fill="#481f70" fill-opacity="0.9"/><circle cx="566.7" cy="471.2" r="2.4" fill="#482475" fill-opacity="0.9"/><circle cx="590.7" cy="464.8" r="2.4" fill="#470e61" fill-opacity="0.9"/><circle cx="562.2" cy="458.8" r="2.4" fill="#471164" fill-opacity="0.9"/><circle cx="586.2" cy="468.6" r="2.4" fill="#481d6f" fill-opacity="0.9"/><circle cx="631.9" cy="489.6" r="2.4" fill="#481f70" fill-opacity="0.9"/><circle cx="565.8" cy="458.5" r="2.4" fill="#470e61" fill-opacity="0.9"/><circle cx="554.9" cy="461.2" r="2.4" fill="#482374" fill-opacity="0.9"/><circle cx="591.5" cy="470.3" r="2.4" fill="#471164" fill-opacity="0.9"/><circle cx="602.0" cy="468.9" r="2.4" fill="#482576" fill-opacity="0.9"/><circle cx="614.5" cy="482.9" r="2.4" fill="#481a6c" fill-opacity="0.9"/><circle cx="648.7" cy="503.0" r="2.4" fill="#481f70" fill-opacity="0.9"/><circle cx="616.1" cy="479.8" r="2.4" fill="#471063" fill-opacity="0.9"/><circle cx="613.0" cy="485.2" r="2.4" fill="#482576" fill-opacity="0.9"/><circle cx="648.1" cy="503.0" r="2.4" fill="#48186a" fill-opacity="0.9"/><circle cx="593.3" cy="466.8" r="2.4" fill="#482374" fill-opacity="0.9"/><circle cx="662.4" cy="501.9" r="2.4" fill="#471365" fill-opacity="0.9"/><circle cx="578.2" cy="460.0" r="2.4" fill="#482475" fill-opacity="0.9"/><circle cx="649.3" cy="492.2" r="2.4" fill="#471164" fill-opacity="0.9"/><circle cx="585.2" cy="464.8" r="2.4" fill="#470e61" fill-opacity="0.9"/><circle cx="580.3" cy="467.0" r="2.4" fill="#482071" fill-opacity="0.9"/><circle cx="578.8" cy="470.2" r="2.4" fill="#482173" fill-opacity="0.9"/><circle cx="598.5" cy="475.0" r="2.4" fill="#48186a" fill-opacity="0.9"/><circle cx="561.7" cy="465.3" r="2.4" fill="#481c6e" fill-opacity="0.9"/><circle cx="583.6" cy="475.3" r="2.4" fill="#482374" fill-opacity="0.9"/><circle cx="662.6" cy="509.3" r="2.4" fill="#471164" fill-opacity="0.9"/><circle cx="635.8" cy="487.8" r="2.4" fill="#470e61" fill-opacity="0.9"/><circle cx="610.8" cy="486.9" r="2.4" fill="#482475" fill-opacity="0.9"/><circle cx="604.1" cy="476.4" r="2.4" fill="#471164" fill-opacity="0.9"/><circle cx="564.2" cy="467.1" r="2.4" fill="#482475" fill-opacity="0.9"/><circle cx="654.6" cy="501.0" r="2.4" fill="#482173" fill-opacity="0.9"/><circle cx="590.6" cy="462.0" r="2.4" fill="#481668" fill-opacity="0.9"/><circle cx="609.0" cy="481.8" r="2.4" fill="#481c6e" fill-opacity="0.9"/><circle cx="600.4" cy="468.9" r="2.4" fill="#482071" fill-opacity="0.9"/><circle cx="576.4" cy="466.0" r="2.4" fill="#481c6e" fill-opacity="0.9"/><circle cx="569.5" cy="457.3" r="2.4" fill="#481b6d" fill-opacity="0.9"/><circle cx="574.2" cy="459.5" r="2.4" fill="#482475" fill-opacity="0.9"/><circle cx="615.0" cy="479.9" r="2.4" fill="#481668" fill-opacity="0.9"/><circle cx="662.9" cy="502.4" r="2.4" fill="#48186a" fill-opacity="0.9"/><circle cx="583.5" cy="478.3" r="2.4" fill="#481b6d" fill-opacity="0.9"/><circle cx="582.0" cy="463.1" r="2.4" fill="#482071" fill-opacity="0.9"/><circle cx="658.9" cy="496.9" r="2.4" fill="#471365" fill-opacity="0.9"/><circle cx="603.5" cy="487.0" r="2.4" fill="#471164" fill-opacity="0.9"/><circle cx="630.0" cy="485.6" r="2.4" fill="#482475" fill-opacity="0.9"/><circle cx="637.3" cy="492.0" r="2.4" fill="#482374" fill-opacity="0.9"/><circle cx="583.7" cy="469.7" r="2.4" fill="#470d60" fill-opacity="0.9"/><circle cx="574.9" cy="470.4" r="2.4" fill="#481b6d" fill-opacity="0.9"/><circle cx="652.2" cy="509.0" r="2.4" fill="#470d60" fill-opacity="0.9"/><circle cx="616.7" cy="486.3" r="2.4" fill="#471063" fill-opacity="0.9"/><circle cx="653.6" cy="512.2" r="2.4" fill="#471063" fill-opacity="0.9"/><circle cx="614.7" cy="484.5" r="2.4" fill="#471063" fill-opacity="0.9"/><circle cx="622.4" cy="492.4" r="2.4" fill="#470e61" fill-opacity="0.9"/><circle cx="639.1" cy="494.8" r="2.4" fill="#481d6f" fill-opacity="0.9"/><circle cx="585.4" cy="473.0" r="2.4" fill="#481f70" fill-opacity="0.9"/><circle cx="576.5" cy="459.2" r="2.4" fill="#482677" fill-opacity="0.9"/><circle cx="564.2" cy="469.7" r="2.4" fill="#48186a" fill-opacity="0.9"/><circle cx="631.0" cy="487.8" r="2.4" fill="#482374" fill-opacity="0.9"/><circle cx="595.8" cy="469.6" r="2.4" fill="#481668" fill-opacity="0.9"/><circle cx="618.4" cy="484.1" r="2.4" fill="#470d60" fill-opacity="0.9"/><circle cx="560.3" cy="459.9" r="2.4" fill="#481467" fill-opacity="0.9"/><circle cx="637.8" cy="493.8" r="2.4" fill="#481b6d" fill-opacity="0.9"/><circle cx="606.8" cy="474.7" r="2.4" fill="#481a6c" fill-opacity="0.9"/><circle cx="563.6" cy="469.3" r="2.4" fill="#48186a" fill-opacity="0.9"/><circle cx="568.2" cy="473.3" r="2.4" fill="#482878" fill-opacity="0.9"/><circle cx="568.8" cy="464.6" r="2.4" fill="#482576" fill-opacity="0.9"/><circle cx="605.0" cy="469.0" r="2.4" fill="#482071" fill-opacity="0.9"/><circle cx="649.7" cy="506.1" r="2.4" fill="#481467" fill-opacity="0.9"/><circle cx="609.8" cy="476.3" r="2.4" fill="#481d6f" fill-opacity="0.9"/>
<circle cx="684.5" cy="484.3" r="2.4" fill="#404588" fill-opacity="0.85"/><circle cx="677.9" cy="480.9" r="2.4" fill="#3b528b" fill-opacity="0.85"/><circle cx="697.4" cy="502.7" r="2.4" fill="#33638d" fill-opacity="0.85"/><circle cx="669.0" cy="474.6" r="2.4" fill="#3c4f8a" fill-opacity="0.85"/><circle cx="697.9" cy="513.8" r="2.4" fill="#39558c" fill-opacity="0.85"/><circle cx="673.2" cy="477.8" r="2.4" fill="#3b518b" fill-opacity="0.85"/><circle cx="692.0" cy="474.7" r="2.4" fill="#33638d" fill-opacity="0.85"/><circle cx="692.2" cy="495.3" r="2.4" fill="#3f4788" fill-opacity="0.85"/><circle cx="690.8" cy="506.4" r="2.4" fill="#424186" fill-opacity="0.85"/><circle cx="686.0" cy="478.5" r="2.4" fill="#3a548c" fill-opacity="0.85"/><circle cx="693.3" cy="485.3" r="2.4" fill="#375b8d" fill-opacity="0.85"/><circle cx="687.3" cy="486.3" r="2.4" fill="#3f4788" fill-opacity="0.85"/><circle cx="686.1" cy="476.2" r="2.4" fill="#424186" fill-opacity="0.85"/><circle cx="700.3" cy="511.2" r="2.4" fill="#3c4f8a" fill-opacity="0.85"/><circle cx="687.1" cy="473.8" r="2.4" fill="#34618d" fill-opacity="0.85"/><circle cx="686.7" cy="479.1" r="2.4" fill="#32648e" fill-opacity="0.85"/><circle cx="684.8" cy="479.1" r="2.4" fill="#39558c" fill-opacity="0.85"/><circle cx="701.2" cy="497.1" r="2.4" fill="#3c4f8a" fill-opacity="0.85"/><circle cx="682.5" cy="472.1" r="2.4" fill="#3e4a89" fill-opacity="0.85"/><circle cx="683.2" cy="494.4" r="2.4" fill="#33638d" fill-opacity="0.85"/><circle cx="693.6" cy="482.9" r="2.4" fill="#424186" fill-opacity="0.85"/><circle cx="702.5" cy="502.1" r="2.4" fill="#3f4788" fill-opacity="0.85"/><circle cx="702.9" cy="501.9" r="2.4" fill="#3a538b" fill-opacity="0.85"/><circle cx="690.9" cy="502.5" r="2.4" fill="#355f8d" fill-opacity="0.85"/><circle cx="703.9" cy="495.0" r="2.4" fill="#3f4889" fill-opacity="0.85"/><circle cx="691.9" cy="472.1" r="2.4" fill="#34618d" fill-opacity="0.85"/><circle cx="694.8" cy="501.7" r="2.4" fill="#34618d" fill-opacity="0.85"/><circle cx="696.0" cy="479.0" r="2.4" fill="#33628d" fill-opacity="0.85"/><circle cx="691.7" cy="483.0" r="2.4" fill="#3d4e8a" fill-opacity="0.85"/><circle cx="688.0" cy="483.8" r="2.4" fill="#414287" fill-opacity="0.85"/><circle cx="695.9" cy="499.3" r="2.4" fill="#404588" fill-opacity="0.85"/><circle cx="694.8" cy="486.4" r="2.4" fill="#3d4e8a" fill-opacity="0.85"/><circle cx="691.1" cy="485.0" r="2.4" fill="#3c4f8a" fill-opacity="0.85"/><circle cx="701.9" cy="510.6" r="2.4" fill="#355f8d" fill-opacity="0.85"/><circle cx="688.1" cy="495.5" r="2.4" fill="#3d4d8a" fill-opacity="0.85"/><circle cx="693.1" cy="486.9" r="2.4" fill="#3b518b" fill-opacity="0.85"/><circle cx="688.0" cy="497.6" r="2.4" fill="#404588" fill-opacity="0.85"/><circle cx="696.4" cy="498.7" r="2.4" fill="#365d8d" fill-opacity="0.85"/><circle cx="692.2" cy="472.5" r="2.4" fill="#355f8d" fill-opacity="0.85"/><circle cx="711.2" cy="503.4" r="2.4" fill="#424186" fill-opacity="0.85"/><circle cx="700.6" cy="508.9" r="2.4" fill="#32648e" fill-opacity="0.85"/><circle cx="693.7" cy="513.4" r="2.4" fill="#34618d" fill-opacity="0.85"/><circle cx="677.4" cy="473.1" r="2.4" fill="#38588c" fill-opacity="0.85"/><circle cx="672.7" cy="477.4" r="2.4" fill="#3b528b" fill-opacity="0.85"/><circle cx="699.2" cy="498.6" r="2.4" fill="#39568c" fill-opacity="0.85"/><circle cx="704.6" cy="511.2" r="2.4" fill="#3a538b" fill-opacity="0.85"/><circle cx="696.9" cy="498.5" r="2.4" fill="#355f8d" fill-opacity="0.85"/><circle cx="687.7" cy="492.6" r="2.4" fill="#375b8d" fill-opacity="0.85"/><circle cx="706.4" cy="509.8" r="2.4" fill="#414487" fill-opacity="0.85"/><circle cx="702.9" cy="501.1" r="2.4" fill="#375a8c" fill-opacity="0.85"/><circle cx="693.4" cy="481.3" r="2.4" fill="#3e4989" fill-opacity="0.85"/><circle cx="679.9" cy="482.0" r="2.4" fill="#3d4e8a" fill-opacity="0.85"/><circle cx="699.8" cy="497.8" r="2.4" fill="#3e4c8a" fill-opacity="0.85"/><circle cx="695.5" cy="504.0" r="2.4" fill="#3c508b" fill-opacity="0.85"/><circle cx="694.4" cy="509.3" r="2.4" fill="#3b528b" fill-opacity="0.85"/><circle cx="686.2" cy="500.0" r="2.4" fill="#3e4989" fill-opacity="0.85"/><circle cx="697.7" cy="502.0" r="2.4" fill="#375a8c" fill-opacity="0.85"/><circle cx="689.9" cy="475.0" r="2.4" fill="#3a548c" fill-opacity="0.85"/><circle cx="671.3" cy="481.3" r="2.4" fill="#3c508b" fill-opacity="0.85"/><circle cx="692.1" cy="500.8" r="2.4" fill="#38598c" fill-opacity="0.85"/><circle cx="671.5" cy="481.2" r="2.4" fill="#365d8d" fill-opacity="0.85"/><circle cx="692.5" cy="482.5" r="2.4" fill="#3b518b" fill-opacity="0.85"/><circle cx="704.1" cy="503.1" r="2.4" fill="#3a538b" fill-opacity="0.85"/><circle cx="689.5" cy="486.4" r="2.4" fill="#423f85" fill-opacity="0.85"/><circle cx="683.2" cy="470.1" r="2.4" fill="#3f4788" fill-opacity="0.85"/><circle cx="700.1" cy="514.3" r="2.4" fill="#3f4788" fill-opacity="0.85"/><circle cx="694.8" cy="499.0" r="2.4" fill="#355f8d" fill-opacity="0.85"/><circle cx="704.7" cy="507.3" r="2.4" fill="#375a8c" fill-opacity="0.85"/><circle cx="680.4" cy="481.8" r="2.4" fill="#375a8c" fill-opacity="0.85"/><circle cx="689.6" cy="511.8" r="2.4" fill="#414287" fill-opacity="0.85"/><circle cx="686.9" cy="480.6" r="2.4" fill="#3d4e8a" fill-opacity="0.85"/><circle cx="706.7" cy="500.0" r="2.4" fill="#423f85" fill-opacity="0.85"/><circle cx="692.7" cy="479.7" r="2.4" fill="#34608d" fill-opacity="0.85"/><circle cx="705.3" cy="513.1" r="2.4" fill="#3b528b" fill-opacity="0.85"/><circle cx="703.9" cy="513.8" r="2.4" fill="#39568c" fill-opacity="0.85"/><circle cx="690.7" cy="481.6" r="2.4" fill="#3b518b" fill-opacity="0.85"/><circle cx="684.2" cy="477.7" r="2.4" fill="#34608d" fill-opacity="0.85"/><circle cx="689.2" cy="507.5" r="2.4" fill="#355e8d" fill-opacity="0.85"/><circle cx="709.1" cy="505.5" r="2.4" fill="#404688" fill-opacity="0.85"/><circle cx="698.4" cy="504.9" r="2.4" fill="#355e8d" fill-opacity="0.85"/><circle cx="693.9" cy="485.6" r="2.4" fill="#3d4d8a" fill-opacity="0.85"/><circle cx="690.6" cy="501.6" r="2.4" fill="#3e4989" fill-opacity="0.85"/><circle cx="701.5" cy="490.8" r="2.4" fill="#404688" fill-opacity="0.85"/><circle cx="703.8" cy="513.8" r="2.4" fill="#375a8c" fill-opacity="0.85"/><circle cx="690.3" cy="498.7" r="2.4" fill="#38588c" fill-opacity="0.85"/><circle cx="707.8" cy="514.4" r="2.4" fill="#33628d" fill-opacity="0.85"/><circle cx="695.6" cy="509.6" r="2.4" fill="#365d8d" fill-opacity="0.85"/><circle cx="692.7" cy="509.3" r="2.4" fill="#414287" fill-opacity="0.85"/><circle cx="694.8" cy="498.3" r="2.4" fill="#3b518b" fill-opacity="0.85"/><circle cx="699.2" cy="510.7" r="2.4" fill="#355f8d" fill-opacity="0.85"/>
<circle cx="704.5" cy="510.2" r="2.4" fill="#2e6f8e" fill-opacity="0.85"/><circle cx="706.1" cy="505.2" r="2.4" fill="#23888e" fill-opacity="0.85"/><circle cx="706.3" cy="505.3" r="2.4" fill="#23888e" fill-opacity="0.85"/><circle cx="706.3" cy="500.0" r="2.4" fill="#2b758e" fill-opacity="0.85"/><circle cx="704.1" cy="509.4" r="2.4" fill="#27808e" fill-opacity="0.85"/><circle cx="702.3" cy="499.0" r="2.4" fill="#26818e" fill-opacity="0.85"/><circle cx="706.5" cy="498.9" r="2.4" fill="#2e6f8e" fill-opacity="0.85"/><circle cx="703.5" cy="495.1" r="2.4" fill="#2c738e" fill-opacity="0.85"/><circle cx="707.4" cy="509.7" r="2.4" fill="#23888e" fill-opacity="0.85"/><circle cx="705.9" cy="509.9" r="2.4" fill="#2b748e" fill-opacity="0.85"/><circle cx="698.3" cy="493.1" r="2.4" fill="#24868e" fill-opacity="0.85"/><circle cx="703.0" cy="496.9" r="2.4" fill="#23888e" fill-opacity="0.85"/><circle cx="706.4" cy="504.2" r="2.4" fill="#2a768e" fill-opacity="0.85"/><circle cx="707.3" cy="511.6" r="2.4" fill="#24868e" fill-opacity="0.85"/>
<circle cx="703.8" cy="525" r="2.2" fill="#287d8e"/><circle cx="707.3" cy="484.8" r="2.4" fill="#bddf26"/><circle cx="704.5" cy="487" r="2.2" fill="#21918c"/>
<line x1="759.2" y1="408.0" x2="759.2" y2="525.0" stroke="#000" stroke-width="0.9"/>
<line x1="759.2" y1="525.0" x2="672.0" y2="604.0" stroke="#000" stroke-width="0.9"/>
<line x1="759.2" y1="509.1" x2="762.5" y2="510.0" stroke="#000" stroke-width="0.8"/>
<line x1="759.2" y1="495.9" x2="762.5" y2="496.8" stroke="#000" stroke-width="0.8"/>
<line x1="759.2" y1="482.7" x2="762.5" y2="483.6" stroke="#000" stroke-width="0.8"/>
<line x1="759.2" y1="469.5" x2="762.5" y2="470.4" stroke="#000" stroke-width="0.8"/>
<line x1="759.2" y1="456.3" x2="762.5" y2="457.2" stroke="#000" stroke-width="0.8"/>
<line x1="759.2" y1="443.2" x2="762.5" y2="444.1" stroke="#000" stroke-width="0.8"/>
<line x1="759.2" y1="430.0" x2="762.5" y2="430.9" stroke="#000" stroke-width="0.8"/>
<line x1="759.2" y1="416.8" x2="762.5" y2="417.7" stroke="#000" stroke-width="0.8"/>
<polygon points="427.0,633.0 514.0,554.0 514.0,439.0 427.0,518.0" fill="rgb(242,242,242)" fill-opacity="0.5"/><polygon points="514.0,554.0 670.0,600.0 670.0,485.0 514.0,439.0" fill="rgb(230,230,230)" fill-opacity="0.5"/><polygon points="427.0,633.0 583.0,679.0 670.0,600.0 514.0,554.0" fill="rgb(236,236,236)" fill-opacity="0.5"/><line x1="444.4" y1="617.2" x2="444.4" y2="502.2" stroke="#b4b4b4" stroke-width="0.8"/><line x1="444.4" y1="617.2" x2="600.4" y2="663.2" stroke="#b4b4b4" stroke-width="0.8"/><line x1="463.7" y1="599.7" x2="463.7" y2="484.7" stroke="#b4b4b4" stroke-width="0.8"/><line x1="463.7" y1="599.7" x2="619.7" y2="645.7" stroke="#b4b4b4" stroke-width="0.8"/><line x1="482.1" y1="583.0" x2="482.1" y2="468.0" stroke="#b4b4b4" stroke-width="0.8"/><line x1="482.1" y1="583.0" x2="638.1" y2="629.0" stroke="#b4b4b4" stroke-width="0.8"/><line x1="502.0" y1="564.9" x2="502.0" y2="449.9" stroke="#b4b4b4" stroke-width="0.8"/><line x1="502.0" y1="564.9" x2="658.0" y2="610.9" stroke="#b4b4b4" stroke-width="0.8"/><line x1="427.0" y1="619.5" x2="514.0" y2="540.5" stroke="#b4b4b4" stroke-width="0.8"/><line x1="514.0" y1="540.5" x2="670.0" y2="586.5" stroke="#b4b4b4" stroke-width="0.8"/><line x1="427.0" y1="606.1" x2="514.0" y2="527.1" stroke="#b4b4b4" stroke-width="0.8"/><line x1="514.0" y1="527.1" x2="670.0" y2="573.1" stroke="#b4b4b4" stroke-width="0.8"/><line x1="427.0" y1="593.1" x2="514.0" y2="514.1" stroke="#b4b4b4" stroke-width="0.8"/><line x1="514.0" y1="514.1" x2="670.0" y2="560.1" stroke="#b4b4b4" stroke-width="0.8"/><line x1="427.0" y1="579.8" x2="514.0" y2="500.8" stroke="#b4b4b4" stroke-width="0.8"/><line x1="514.0" y1="500.8" x2="670.0" y2="546.8" stroke="#b4b4b4" stroke-width="0.8"/><line x1="427.0" y1="566.5" x2="514.0" y2="487.5" stroke="#b4b4b4" stroke-width="0.8"/><line x1="514.0" y1="487.5" x2="670.0" y2="533.5" stroke="#b4b4b4" stroke-width="0.8"/><line x1="427.0" y1="552.8" x2="514.0" y2="473.8" stroke="#b4b4b4" stroke-width="0.8"/><line x1="514.0" y1="473.8" x2="670.0" y2="519.8" stroke="#b4b4b4" stroke-width="0.8"/><line x1="427.0" y1="539.2" x2="514.0" y2="460.2" stroke="#b4b4b4" stroke-width="0.8"/><line x1="514.0" y1="460.2" x2="670.0" y2="506.2" stroke="#b4b4b4" stroke-width="0.8"/><line x1="427.0" y1="526.5" x2="514.0" y2="447.5" stroke="#b4b4b4" stroke-width="0.8"/><line x1="514.0" y1="447.5" x2="670.0" y2="493.5" stroke="#b4b4b4" stroke-width="0.8"/><line x1="525.4" y1="557.4" x2="525.4" y2="442.4" stroke="#b4b4b4" stroke-width="0.8"/><line x1="438.4" y1="636.4" x2="525.4" y2="557.4" stroke="#b4b4b4" stroke-width="0.8"/><line x1="549.5" y1="564.5" x2="549.5" y2="449.5" stroke="#b4b4b4" stroke-width="0.8"/><line x1="462.5" y1="643.5" x2="549.5" y2="564.5" stroke="#b4b4b4" stroke-width="0.8"/><line x1="573.6" y1="571.6" x2="573.6" y2="456.6" stroke="#b4b4b4" stroke-width="0.8"/><line x1="486.6" y1="650.6" x2="573.6" y2="571.6" stroke="#b4b4b4" stroke-width="0.8"/><line x1="597.7" y1="578.7" x2="597.7" y2="463.7" stroke="#b4b4b4" stroke-width="0.8"/><line x1="510.7" y1="657.7" x2="597.7" y2="578.7" stroke="#b4b4b4" stroke-width="0.8"/><line x1="621.8" y1="585.8" x2="621.8" y2="470.8" stroke="#b4b4b4" stroke-width="0.8"/><line x1="534.8" y1="664.8" x2="621.8" y2="585.8" stroke="#b4b4b4" stroke-width="0.8"/><line x1="645.9" y1="592.9" x2="645.9" y2="477.9" stroke="#b4b4b4" stroke-width="0.8"/><line x1="558.9" y1="671.9" x2="645.9" y2="592.9" stroke="#b4b4b4" stroke-width="0.8"/>
<circle cx="518.5" cy="530.8" r="2.4" fill="#656870" fill-opacity="0.68"/><circle cx="482.6" cy="521.0" r="2.4" fill="#bdae6c" fill-opacity="0.68"/><circle cx="543.2" cy="558.2" r="2.4" fill="#8e8978" fill-opacity="0.68"/><circle cx="459.1" cy="522.1" r="2.4" fill="#6e6f73" fill-opacity="0.68"/><circle cx="610.0" cy="586.9" r="2.4" fill="#787877" fill-opacity="0.68"/><circle cx="593.9" cy="590.3" r="2.4" fill="#b9ab6d" fill-opacity="0.68"/><circle cx="594.7" cy="587.7" r="2.4" fill="#6d6f72" fill-opacity="0.68"/><circle cx="497.7" cy="524.0" r="2.4" fill="#c8b866" fill-opacity="0.68"/><circle cx="474.5" cy="535.0" r="2.4" fill="#bbad6d" fill-opacity="0.68"/><circle cx="609.5" cy="584.8" r="2.4" fill="#bdae6c" fill-opacity="0.68"/><circle cx="481.5" cy="524.5" r="2.4" fill="#c9b965" fill-opacity="0.68"/><circle cx="513.8" cy="528.1" r="2.4" fill="#7e7c78" fill-opacity="0.68"/><circle cx="564.2" cy="571.4" r="2.4" fill="#bcae6c" fill-opacity="0.68"/><circle cx="573.9" cy="563.3" r="2.4" fill="#9b9476" fill-opacity="0.68"/><circle cx="488.4" cy="527.9" r="2.4" fill="#9b9476" fill-opacity="0.68"/><circle cx="562.0" cy="552.6" r="2.4" fill="#777776" fill-opacity="0.68"/><circle cx="558.7" cy="572.2" r="2.4" fill="#a39a74" fill-opacity="0.68"/><circle cx="607.5" cy="584.0" r="2.4" fill="#757575" fill-opacity="0.68"/><circle cx="538.4" cy="551.5" r="2.4" fill="#c6b667" fill-opacity="0.68"/><circle cx="581.7" cy="579.8" r="2.4" fill="#a49b74" fill-opacity="0.68"/><circle cx="613.2" cy="578.0" r="2.4" fill="#888578" fill-opacity="0.68"/><circle cx="569.1" cy="566.4" r="2.4" fill="#9d9576" fill-opacity="0.68"/><circle cx="612.9" cy="589.6" r="2.4" fill="#aea371" fill-opacity="0.68"/><circle cx="552.9" cy="560.2" r="2.4" fill="#cdbb63" fill-opacity="0.68"/><circle cx="557.7" cy="551.5" r="2.4" fill="#787877" fill-opacity="0.68"/><circle cx="589.1" cy="580.4" r="2.4" fill="#6c6e72" fill-opacity="0.68"/><circle cx="517.9" cy="538.7" r="2.4" fill="#b1a570" fill-opacity="0.68"/><circle cx="553.6" cy="549.4" r="2.4" fill="#a09875" fill-opacity="0.68"/><circle cx="495.2" cy="513.0" r="2.4" fill="#a29975" fill-opacity="0.68"/><circle cx="513.8" cy="547.5" r="2.4" fill="#62656f" fill-opacity="0.68"/><circle cx="612.1" cy="586.1" r="2.4" fill="#aca172" fill-opacity="0.68"/><circle cx="489.1" cy="515.9" r="2.4" fill="#a79d73" fill-opacity="0.68"/><circle cx="604.3" cy="590.2" r="2.4" fill="#807f78" fill-opacity="0.68"/><circle cx="558.0" cy="560.8" r="2.4" fill="#b3a670" fill-opacity="0.68"/><circle cx="489.8" cy="526.0" r="2.4" fill="#7b7a78" fill-opacity="0.68"/><circle cx="620.4" cy="582.3" r="2.4" fill="#696b71" fill-opacity="0.68"/><circle cx="564.4" cy="547.2" r="2.4" fill="#c7b767" fill-opacity="0.68"/><circle cx="603.3" cy="574.8" r="2.4" fill="#b4a76f" fill-opacity="0.68"/><circle cx="472.4" cy="512.3" r="2.4" fill="#7a7a78" fill-opacity="0.68"/><circle cx="508.2" cy="534.3" r="2.4" fill="#cbb965" fill-opacity="0.68"/><circle cx="512.5" cy="535.9" r="2.4" fill="#737475" fill-opacity="0.68"/><circle cx="594.1" cy="571.6" r="2.4" fill="#888578" fill-opacity="0.68"/><circle cx="514.9" cy="527.5" r="2.4" fill="#848279" fill-opacity="0.68"/><circle cx="491.3" cy="513.4" r="2.4" fill="#9c9576" fill-opacity="0.68"/><circle cx="556.8" cy="557.7" r="2.4" fill="#757575" fill-opacity="0.68"/><circle cx="582.5" cy="582.1" r="2.4" fill="#c6b667" fill-opacity="0.68"/><circle cx="495.1" cy="515.0" r="2.4" fill="#9e9676" fill-opacity="0.68"/><circle cx="483.7" cy="527.4" r="2.4" fill="#d0be62" fill-opacity="0.68"/><circle cx="582.9" cy="578.1" r="2.4" fill="#8b8778" fill-opacity="0.68"/><circle cx="469.4" cy="532.6" r="2.4" fill="#918b78" fill-opacity="0.68"/><circle cx="601.9" cy="580.6" r="2.4" fill="#908b78" fill-opacity="0.68"/><circle cx="610.4" cy="595.8" r="2.4" fill="#757575" fill-opacity="0.68"/><circle cx="565.8" cy="564.0" r="2.4" fill="#807f78" fill-opacity="0.68"/><circle cx="485.4" cy="529.1" r="2.4" fill="#cebc63" fill-opacity="0.68"/><circle cx="537.8" cy="553.1" r="2.4" fill="#838179" fill-opacity="0.68"/><circle cx="593.7" cy="571.7" r="2.4" fill="#c4b468" fill-opacity="0.68"/><circle cx="489.9" cy="519.0" r="2.4" fill="#989277" fill-opacity="0.68"/><circle cx="515.6" cy="540.5" r="2.4" fill="#828079" fill-opacity="0.68"/><circle cx="602.5" cy="574.6" r="2.4" fill="#9e9676" fill-opacity="0.68"/><circle cx="493.0" cy="537.1" r="2.4" fill="#646770" fill-opacity="0.68"/><circle cx="524.6" cy="552.2" r="2.4" fill="#b9ab6d" fill-opacity="0.68"/><circle cx="467.0" cy="510.8" r="2.4" fill="#999277" fill-opacity="0.68"/><circle cx="483.2" cy="518.3" r="2.4" fill="#7d7c78" fill-opacity="0.68"/><circle cx="556.8" cy="561.4" r="2.4" fill="#888578" fill-opacity="0.68"/><circle cx="540.3" cy="543.3" r="2.4" fill="#c5b568" fill-opacity="0.68"/><circle cx="516.5" cy="532.5" r="2.4" fill="#777777" fill-opacity="0.68"/><circle cx="595.9" cy="579.8" r="2.4" fill="#cdbb63" fill-opacity="0.68"/><circle cx="582.5" cy="566.2" r="2.4" fill="#7c7b78" fill-opacity="0.68"/><circle cx="515.4" cy="533.7" r="2.4" fill="#a19975" fill-opacity="0.68"/><circle cx="527.8" cy="542.7" r="2.4" fill="#646770" fill-opacity="0.68"/><circle cx="590.4" cy="579.0" r="2.4" fill="#b4a76f" fill-opacity="0.68"/><circle cx="516.3" cy="528.6" r="2.4" fill="#888578" fill-opacity="0.68"/><circle cx="476.7" cy="522.0" r="2.4" fill="#999277" fill-opacity="0.68"/><circle cx="499.5" cy="538.2" r="2.4" fill="#7e7c78" fill-opacity="0.68"/><circle cx="470.4" cy="520.4" r="2.4" fill="#a79d73" fill-opacity="0.68"/><circle cx="487.4" cy="513.8" r="2.4" fill="#a59c74" fill-opacity="0.68"/><circle cx="463.9" cy="527.7" r="2.4" fill="#bcae6c" fill-opacity="0.68"/><circle cx="519.9" cy="544.4" r="2.4" fill="#a59c74" fill-opacity="0.68"/><circle cx="468.6" cy="523.2" r="2.4" fill="#7a7a78" fill-opacity="0.68"/><circle cx="590.9" cy="573.7" r="2.4" fill="#989277" fill-opacity="0.68"/><circle cx="522.2" cy="538.9" r="2.4" fill="#969077" fill-opacity="0.68"/><circle cx="557.4" cy="546.7" r="2.4" fill="#cfbd62" fill-opacity="0.68"/><circle cx="610.0" cy="576.5" r="2.4" fill="#6d6f72" fill-opacity="0.68"/><circle cx="593.1" cy="586.2" r="2.4" fill="#cebc63" fill-opacity="0.68"/><circle cx="544.1" cy="553.7" r="2.4" fill="#bfb06b" fill-opacity="0.68"/><circle cx="508.8" cy="528.4" r="2.4" fill="#858279" fill-opacity="0.68"/><circle cx="590.4" cy="584.1" r="2.4" fill="#aca172" fill-opacity="0.68"/><circle cx="488.7" cy="528.5" r="2.4" fill="#a49b74" fill-opacity="0.68"/><circle cx="505.7" cy="524.7" r="2.4" fill="#aca172" fill-opacity="0.68"/><circle cx="478.9" cy="526.1" r="2.4" fill="#b1a570" fill-opacity="0.68"/><circle cx="555.4" cy="556.0" r="2.4" fill="#656870" fill-opacity="0.68"/><circle cx="495.3" cy="534.2" r="2.4" fill="#beaf6b" fill-opacity="0.68"/><circle cx="515.3" cy="539.0" r="2.4" fill="#817f78" fill-opacity="0.68"/><circle cx="587.4" cy="560.2" r="2.4" fill="#a49b74" fill-opacity="0.68"/><circle cx="501.4" cy="539.1" r="2.4" fill="#828079" fill-opacity="0.68"/><circle cx="587.2" cy="583.3" r="2.4" fill="#c9b965" fill-opacity="0.68"/><circle cx="504.1" cy="519.6" r="2.4" fill="#6f7073" fill-opacity="0.68"/><circle cx="576.1" cy="580.6" r="2.4" fill="#7f7e78" fill-opacity="0.68"/><circle cx="582.5" cy="572.1" r="2.4" fill="#a79d73" fill-opacity="0.68"/><circle cx="572.8" cy="559.4" r="2.4" fill="#7c7b78" fill-opacity="0.68"/><circle cx="612.3" cy="594.1" r="2.4" fill="#6f7073" fill-opacity="0.68"/><circle cx="517.5" cy="546.3" r="2.4" fill="#bbad6d" fill-opacity="0.68"/><circle cx="569.8" cy="568.5" r="2.4" fill="#656870" fill-opacity="0.68"/><circle cx="513.9" cy="528.1" r="2.4" fill="#7d7c78" fill-opacity="0.68"/><circle cx="503.3" cy="521.7" r="2.4" fill="#a09875" fill-opacity="0.68"/><circle cx="611.8" cy="577.2" r="2.4" fill="#c8b866" fill-opacity="0.68"/><circle cx="557.8" cy="560.9" r="2.4" fill="#c5b568" fill-opacity="0.68"/><circle cx="507.6" cy="540.2" r="2.4" fill="#807f78" fill-opacity="0.68"/><circle cx="505.8" cy="525.2" r="2.4" fill="#727274" fill-opacity="0.68"/><circle cx="512.5" cy="540.6" r="2.4" fill="#beaf6b" fill-opacity="0.68"/><circle cx="556.9" cy="566.8" r="2.4" fill="#c9b965" fill-opacity="0.68"/><circle cx="548.6" cy="541.7" r="2.4" fill="#c1b26a" fill-opacity="0.68"/><circle cx="573.2" cy="565.6" r="2.4" fill="#a19975" fill-opacity="0.68"/><circle cx="617.8" cy="586.0" r="2.4" fill="#a79d73" fill-opacity="0.68"/><circle cx="515.4" cy="529.7" r="2.4" fill="#c2b369" fill-opacity="0.68"/><circle cx="519.9" cy="545.1" r="2.4" fill="#b4a76f" fill-opacity="0.68"/><circle cx="523.7" cy="534.2" r="2.4" fill="#b3a670" fill-opacity="0.68"/><circle cx="460.4" cy="518.7" r="2.4" fill="#b0a571" fill-opacity="0.68"/><circle cx="488.2" cy="521.9" r="2.4" fill="#bfb06b" fill-opacity="0.68"/><circle cx="526.9" cy="543.0" r="2.4" fill="#747475" fill-opacity="0.68"/><circle cx="603.8" cy="589.5" r="2.4" fill="#a39a74" fill-opacity="0.68"/><circle cx="508.5" cy="524.8" r="2.4" fill="#6c6d72" fill-opacity="0.68"/><circle cx="616.7" cy="587.6" r="2.4" fill="#7d7c78" fill-opacity="0.68"/><circle cx="490.3" cy="529.7" r="2.4" fill="#9f9775" fill-opacity="0.68"/><circle cx="543.6" cy="554.9" r="2.4" fill="#7e7d78" fill-opacity="0.68"/><circle cx="583.5" cy="584.0" r="2.4" fill="#747475" fill-opacity="0.68"/><circle cx="564.6" cy="557.1" r="2.4" fill="#aca172" fill-opacity="0.68"/><circle cx="483.5" cy="515.7" r="2.4" fill="#c5b568" fill-opacity="0.68"/><circle cx="501.1" cy="529.2" r="2.4" fill="#696b71" fill-opacity="0.68"/><circle cx="485.2" cy="525.4" r="2.4" fill="#bcae6c" fill-opacity="0.68"/><circle cx="591.2" cy="563.5" r="2.4" fill="#ada272" fill-opacity="0.68"/><circle cx="590.0" cy="583.6" r="2.4" fill="#9b9476" fill-opacity="0.68"/><circle cx="476.0" cy="513.0" r="2.4" fill="#928d78" fill-opacity="0.68"/><circle cx="594.9" cy="581.9" r="2.4" fill="#969077" fill-opacity="0.68"/><circle cx="470.1" cy="516.0" r="2.4" fill="#989277" fill-opacity="0.68"/><circle cx="474.4" cy="524.1" r="2.4" fill="#656870" fill-opacity="0.68"/><circle cx="537.9" cy="538.9" r="2.4" fill="#bcae6c" fill-opacity="0.68"/><circle cx="530.4" cy="539.9" r="2.4" fill="#979177" fill-opacity="0.68"/><circle cx="555.5" cy="567.8" r="2.4" fill="#918b78" fill-opacity="0.68"/><circle cx="605.1" cy="593.4" r="2.4" fill="#7d7c78" fill-opacity="0.68"/><circle cx="583.4" cy="562.4" r="2.4" fill="#aba072" fill-opacity="0.68"/><circle cx="570.1" cy="557.6" r="2.4" fill="#7d7c78" fill-opacity="0.68"/><circle cx="543.0" cy="552.8" r="2.4" fill="#737475" fill-opacity="0.68"/><circle cx="535.6" cy="550.9" r="2.4" fill="#767676" fill-opacity="0.68"/><circle cx="539.9" cy="549.5" r="2.4" fill="#918b78" fill-opacity="0.68"/><circle cx="518.2" cy="544.7" r="2.4" fill="#777777" fill-opacity="0.68"/><circle cx="513.4" cy="548.6" r="2.4" fill="#686a71" fill-opacity="0.68"/><circle cx="609.4" cy="587.2" r="2.4" fill="#c3b369" fill-opacity="0.68"/><circle cx="612.5" cy="593.2" r="2.4" fill="#817f78" fill-opacity="0.68"/><circle cx="491.3" cy="516.6" r="2.4" fill="#666970" fill-opacity="0.68"/><circle cx="475.6" cy="528.5" r="2.4" fill="#858279" fill-opacity="0.68"/><circle cx="529.6" cy="544.6" r="2.4" fill="#979177" fill-opacity="0.68"/><circle cx="543.0" cy="558.6" r="2.4" fill="#8b8778" fill-opacity="0.68"/><circle cx="600.9" cy="573.6" r="2.4" fill="#7d7c78" fill-opacity="0.68"/><circle cx="560.6" cy="550.0" r="2.4" fill="#898578" fill-opacity="0.68"/><circle cx="574.0" cy="577.1" r="2.4" fill="#b4a76f" fill-opacity="0.68"/><circle cx="550.9" cy="556.0" r="2.4" fill="#aba072" fill-opacity="0.68"/><circle cx="499.2" cy="531.3" r="2.4" fill="#c4b468" fill-opacity="0.68"/><circle cx="505.4" cy="535.2" r="2.4" fill="#747475" fill-opacity="0.68"/><circle cx="567.6" cy="553.0" r="2.4" fill="#aca172" fill-opacity="0.68"/><circle cx="589.5" cy="590.5" r="2.4" fill="#928d78" fill-opacity="0.68"/><circle cx="543.1" cy="538.6" r="2.4" fill="#7e7c78" fill-opacity="0.68"/><circle cx="509.8" cy="530.4" r="2.4" fill="#999277" fill-opacity="0.68"/><circle cx="515.2" cy="542.4" r="2.4" fill="#888578" fill-opacity="0.68"/><circle cx="565.0" cy="565.3" r="2.4" fill="#757575" fill-opacity="0.68"/><circle cx="575.9" cy="573.2" r="2.4" fill="#696b71" fill-opacity="0.68"/><circle cx="578.4" cy="578.7" r="2.4" fill="#aba072" fill-opacity="0.68"/><circle cx="586.2" cy="564.2" r="2.4" fill="#777777" fill-opacity="0.68"/><circle cx="463.6" cy="521.8" r="2.4" fill="#b9ab6d" fill-opacity="0.68"/><circle cx="618.2" cy="580.8" r="2.4" fill="#a79d73" fill-opacity="0.68"/><circle cx="512.4" cy="530.4" r="2.4" fill="#7c7b78" fill-opacity="0.68"/><circle cx="564.7" cy="564.7" r="2.4" fill="#958f77" fill-opacity="0.68"/><circle cx="568.2" cy="565.3" r="2.4" fill="#b4a76f" fill-opacity="0.68"/><circle cx="525.7" cy="548.2" r="2.4" fill="#727374" fill-opacity="0.68"/><circle cx="515.9" cy="543.0" r="2.4" fill="#9a9376" fill-opacity="0.68"/><circle cx="471.5" cy="523.1" r="2.4" fill="#c0b16a" fill-opacity="0.68"/><circle cx="478.3" cy="532.4" r="2.4" fill="#cfbd62" fill-opacity="0.68"/><circle cx="499.4" cy="523.0" r="2.4" fill="#b4a76f" fill-opacity="0.68"/><circle cx="604.6" cy="594.0" r="2.4" fill="#868379" fill-opacity="0.68"/><circle cx="510.3" cy="533.8" r="2.4" fill="#9c9576" fill-opacity="0.68"/><circle cx="545.2" cy="559.1" r="2.4" fill="#9c9576" fill-opacity="0.68"/><circle cx="530.0" cy="550.6" r="2.4" fill="#656870" fill-opacity="0.68"/><circle cx="519.2" cy="548.2" r="2.4" fill="#c9b965" fill-opacity="0.68"/><circle cx="591.1" cy="572.9" r="2.4" fill="#787877" fill-opacity="0.68"/><circle cx="556.3" cy="548.0" r="2.4" fill="#7b7a78" fill-opacity="0.68"/><circle cx="482.8" cy="525.1" r="2.4" fill="#a29975" fill-opacity="0.68"/><circle cx="597.7" cy="581.6" r="2.4" fill="#676a71" fill-opacity="0.68"/><circle cx="616.0" cy="583.1" r="2.4" fill="#9a9376" fill-opacity="0.68"/><circle cx="547.5" cy="561.5" r="2.4" fill="#7e7c78" fill-opacity="0.68"/><circle cx="561.6" cy="564.3" r="2.4" fill="#969077" fill-opacity="0.68"/><circle cx="474.7" cy="525.9" r="2.4" fill="#9f9775" fill-opacity="0.68"/><circle cx="555.1" cy="547.5" r="2.4" fill="#918b78" fill-opacity="0.68"/><circle cx="579.3" cy="561.0" r="2.4" fill="#9c9576" fill-opacity="0.68"/><circle cx="463.2" cy="526.4" r="2.4" fill="#737475" fill-opacity="0.68"/><circle cx="501.3" cy="524.5" r="2.4" fill="#969077" fill-opacity="0.68"/><circle cx="482.9" cy="517.3" r="2.4" fill="#ccba64" fill-opacity="0.68"/><circle cx="479.5" cy="523.3" r="2.4" fill="#958f77" fill-opacity="0.68"/><circle cx="570.5" cy="570.9" r="2.4" fill="#baac6d" fill-opacity="0.68"/><circle cx="589.0" cy="573.8" r="2.4" fill="#b9ab6d" fill-opacity="0.68"/><circle cx="569.7" cy="558.5" r="2.4" fill="#636670" fill-opacity="0.68"/><circle cx="572.9" cy="574.6" r="2.4" fill="#8f8a78" fill-opacity="0.68"/><circle cx="559.6" cy="546.6" r="2.4" fill="#8b8778" fill-opacity="0.68"/><circle cx="461.3" cy="520.3" r="2.4" fill="#928d78" fill-opacity="0.68"/><circle cx="598.3" cy="573.8" r="2.4" fill="#7e7d78" fill-opacity="0.68"/><circle cx="585.2" cy="571.9" r="2.4" fill="#908b78" fill-opacity="0.68"/><circle cx="596.0" cy="582.8" r="2.4" fill="#8a8678" fill-opacity="0.68"/><circle cx="527.3" cy="554.2" r="2.4" fill="#958f77" fill-opacity="0.68"/><circle cx="475.0" cy="526.8" r="2.4" fill="#727374" fill-opacity="0.68"/><circle cx="531.2" cy="551.3" r="2.4" fill="#979177" fill-opacity="0.68"/><circle cx="542.5" cy="538.4" r="2.4" fill="#ada272" fill-opacity="0.68"/><circle cx="522.7" cy="530.9" r="2.4" fill="#b5a86f" fill-opacity="0.68"/><circle cx="488.7" cy="534.0" r="2.4" fill="#646770" fill-opacity="0.68"/><circle cx="536.7" cy="546.2" r="2.4" fill="#9a9376" fill-opacity="0.68"/><circle cx="476.3" cy="529.9" r="2.4" fill="#737475" fill-opacity="0.68"/><circle cx="550.6" cy="558.3" r="2.4" fill="#636670" fill-opacity="0.68"/><circle cx="551.8" cy="559.6" r="2.4" fill="#b3a670" fill-opacity="0.68"/><circle cx="578.1" cy="557.4" r="2.4" fill="#aea371" fill-opacity="0.68"/><circle cx="502.9" cy="545.7" r="2.4" fill="#cfbd62" fill-opacity="0.68"/><circle cx="594.0" cy="570.8" r="2.4" fill="#6e6f73" fill-opacity="0.68"/><circle cx="596.8" cy="581.6" r="2.4" fill="#958f77" fill-opacity="0.68"/><circle cx="523.5" cy="549.6" r="2.4" fill="#beaf6b" fill-opacity="0.68"/><circle cx="593.7" cy="585.2" r="2.4" fill="#beaf6b" fill-opacity="0.68"/><circle cx="514.2" cy="541.8" r="2.4" fill="#838179" fill-opacity="0.68"/><circle cx="512.6" cy="545.0" r="2.4" fill="#8e8978" fill-opacity="0.68"/><circle cx="530.6" cy="537.8" r="2.4" fill="#c3b369" fill-opacity="0.68"/><circle cx="602.3" cy="589.8" r="2.4" fill="#908b78" fill-opacity="0.68"/><circle cx="470.6" cy="532.3" r="2.4" fill="#aaa073" fill-opacity="0.68"/><circle cx="502.5" cy="527.1" r="2.4" fill="#636670" fill-opacity="0.68"/><circle cx="527.3" cy="539.3" r="2.4" fill="#b1a570" fill-opacity="0.68"/><circle cx="527.5" cy="531.4" r="2.4" fill="#6c6d72" fill-opacity="0.68"/><circle cx="573.1" cy="577.3" r="2.4" fill="#c3b369" fill-opacity="0.68"/><circle cx="542.6" cy="546.8" r="2.4" fill="#c4b468" fill-opacity="0.68"/><circle cx="590.3" cy="567.8" r="2.4" fill="#b3a670" fill-opacity="0.68"/><circle cx="515.4" cy="543.4" r="2.4" fill="#9d9576" fill-opacity="0.68"/><circle cx="568.3" cy="551.0" r="2.4" fill="#afa471" fill-opacity="0.68"/><circle cx="614.2" cy="586.8" r="2.4" fill="#7d7c78" fill-opacity="0.68"/><circle cx="524.6" cy="551.6" r="2.4" fill="#afa471" fill-opacity="0.68"/><circle cx="482.6" cy="516.6" r="2.4" fill="#aca172" fill-opacity="0.68"/><circle cx="501.5" cy="529.7" r="2.4" fill="#b7a96e" fill-opacity="0.68"/><circle cx="608.0" cy="588.4" r="2.4" fill="#918b78" fill-opacity="0.68"/><circle cx="519.7" cy="534.1" r="2.4" fill="#777776" fill-opacity="0.68"/><circle cx="567.6" cy="551.6" r="2.4" fill="#bbad6d" fill-opacity="0.68"/><circle cx="512.5" cy="526.1" r="2.4" fill="#8d8878" fill-opacity="0.68"/><circle cx="535.0" cy="559.6" r="2.4" fill="#7e7d78" fill-opacity="0.68"/><circle cx="521.7" cy="531.4" r="2.4" fill="#b0a571" fill-opacity="0.68"/><circle cx="500.8" cy="533.0" r="2.4" fill="#ccba64" fill-opacity="0.68"/><circle cx="501.7" cy="534.8" r="2.4" fill="#c8b866" fill-opacity="0.68"/><circle cx="522.7" cy="538.9" r="2.4" fill="#676a71" fill-opacity="0.68"/><circle cx="483.6" cy="518.7" r="2.4" fill="#bbad6d" fill-opacity="0.68"/><circle cx="505.4" cy="544.7" r="2.4" fill="#8e8978" fill-opacity="0.68"/><circle cx="583.3" cy="582.8" r="2.4" fill="#999277" fill-opacity="0.68"/><circle cx="502.6" cy="526.7" r="2.4" fill="#c8b866" fill-opacity="0.68"/><circle cx="583.1" cy="564.9" r="2.4" fill="#bcae6c" fill-opacity="0.68"/><circle cx="553.0" cy="561.2" r="2.4" fill="#bbad6d" fill-opacity="0.68"/><circle cx="516.0" cy="530.0" r="2.4" fill="#7e7c78" fill-opacity="0.68"/><circle cx="472.2" cy="523.8" r="2.4" fill="#b6a96f" fill-opacity="0.68"/><circle cx="499.8" cy="523.4" r="2.4" fill="#c1b26a" fill-opacity="0.68"/><circle cx="474.5" cy="531.7" r="2.4" fill="#cfbd62" fill-opacity="0.68"/><circle cx="485.7" cy="525.4" r="2.4" fill="#928d78" fill-opacity="0.68"/><circle cx="555.0" cy="557.2" r="2.4" fill="#afa471" fill-opacity="0.68"/><circle cx="503.3" cy="543.5" r="2.4" fill="#6f7073" fill-opacity="0.68"/><circle cx="605.3" cy="580.0" r="2.4" fill="#b7a96e" fill-opacity="0.68"/><circle cx="508.3" cy="534.6" r="2.4" fill="#6d6f72" fill-opacity="0.68"/><circle cx="520.3" cy="545.2" r="2.4" fill="#a89e73" fill-opacity="0.68"/><circle cx="588.6" cy="581.0" r="2.4" fill="#cfbd62" fill-opacity="0.68"/><circle cx="574.4" cy="558.4" r="2.4" fill="#a49b74" fill-opacity="0.68"/><circle cx="512.4" cy="542.5" r="2.4" fill="#828079" fill-opacity="0.68"/><circle cx="571.2" cy="573.9" r="2.4" fill="#7b7a78" fill-opacity="0.68"/><circle cx="582.6" cy="566.3" r="2.4" fill="#8f8a78" fill-opacity="0.68"/><circle cx="471.7" cy="525.8" r="2.4" fill="#bdae6c" fill-opacity="0.68"/><circle cx="582.3" cy="583.9" r="2.4" fill="#958f77" fill-opacity="0.68"/><circle cx="565.0" cy="553.6" r="2.4" fill="#c0b16a" fill-opacity="0.68"/><circle cx="489.5" cy="519.1" r="2.4" fill="#bfb06b" fill-opacity="0.68"/><circle cx="530.4" cy="534.2" r="2.4" fill="#c0b16a" fill-opacity="0.68"/><circle cx="522.2" cy="540.3" r="2.4" fill="#b7a96e" fill-opacity="0.68"/><circle cx="554.6" cy="547.5" r="2.4" fill="#bfb06b" fill-opacity="0.68"/><circle cx="488.6" cy="516.1" r="2.4" fill="#c4b468" fill-opacity="0.68"/><circle cx="584.3" cy="570.2" r="2.4" fill="#979177" fill-opacity="0.68"/><circle cx="560.2" cy="554.3" r="2.4" fill="#c4b468" fill-opacity="0.68"/><circle cx="511.1" cy="544.8" r="2.4" fill="#797977" fill-opacity="0.68"/><circle cx="609.0" cy="577.4" r="2.4" fill="#aea371" fill-opacity="0.68"/><circle cx="566.3" cy="554.0" r="2.4" fill="#707173" fill-opacity="0.68"/><circle cx="483.7" cy="522.4" r="2.4" fill="#747475" fill-opacity="0.68"/><circle cx="590.5" cy="574.2" r="2.4" fill="#c3b369" fill-opacity="0.68"/><circle cx="461.3" cy="521.1" r="2.4" fill="#6f7073" fill-opacity="0.68"/><circle cx="527.6" cy="545.5" r="2.4" fill="#686a71" fill-opacity="0.68"/><circle cx="608.1" cy="574.4" r="2.4" fill="#787877" fill-opacity="0.68"/><circle cx="553.1" cy="550.1" r="2.4" fill="#858279" fill-opacity="0.68"/><circle cx="489.6" cy="517.5" r="2.4" fill="#ada272" fill-opacity="0.68"/><circle cx="535.6" cy="559.1" r="2.4" fill="#ccba64" fill-opacity="0.68"/><circle cx="584.5" cy="569.7" r="2.4" fill="#7f7e78" fill-opacity="0.68"/><circle cx="518.5" cy="547.2" r="2.4" fill="#9a9376" fill-opacity="0.68"/><circle cx="470.7" cy="515.9" r="2.4" fill="#baac6d" fill-opacity="0.68"/><circle cx="459.5" cy="526.3" r="2.4" fill="#c9b965" fill-opacity="0.68"/><circle cx="614.7" cy="585.6" r="2.4" fill="#b8aa6e" fill-opacity="0.68"/><circle cx="546.6" cy="540.7" r="2.4" fill="#aba072" fill-opacity="0.68"/><circle cx="533.6" cy="543.6" r="2.4" fill="#8d8878" fill-opacity="0.68"/><circle cx="556.6" cy="555.4" r="2.4" fill="#a89e73" fill-opacity="0.68"/><circle cx="609.9" cy="576.8" r="2.4" fill="#787877" fill-opacity="0.68"/><circle cx="479.3" cy="524.0" r="2.4" fill="#6b6d72" fill-opacity="0.68"/>
<circle cx="489.3" cy="509.7" r="2.4" fill="#afa471" fill-opacity="0.8"/><circle cx="482.6" cy="504.0" r="2.4" fill="#9c9576" fill-opacity="0.8"/><circle cx="478.4" cy="506.9" r="2.4" fill="#9c9576" fill-opacity="0.8"/><circle cx="483.4" cy="513.0" r="2.4" fill="#a39a74" fill-opacity="0.8"/><circle cx="481.0" cy="505.4" r="2.4" fill="#918b78" fill-opacity="0.8"/><circle cx="487.4" cy="512.3" r="2.4" fill="#c0b16a" fill-opacity="0.8"/><circle cx="478.6" cy="510.6" r="2.4" fill="#c2b369" fill-opacity="0.8"/><circle cx="483.8" cy="506.9" r="2.4" fill="#928d78" fill-opacity="0.8"/><circle cx="471.0" cy="511.4" r="2.4" fill="#8c8878" fill-opacity="0.8"/><circle cx="489.3" cy="506.7" r="2.4" fill="#c7b767" fill-opacity="0.8"/><circle cx="474.1" cy="510.8" r="2.4" fill="#cfbd62" fill-opacity="0.8"/><circle cx="477.7" cy="507.0" r="2.4" fill="#908b78" fill-opacity="0.8"/><circle cx="469.9" cy="513.0" r="2.4" fill="#898578" fill-opacity="0.8"/><circle cx="477.5" cy="508.5" r="2.4" fill="#baac6d" fill-opacity="0.8"/><circle cx="489.1" cy="513.4" r="2.4" fill="#a69c74" fill-opacity="0.8"/><circle cx="482.5" cy="507.9" r="2.4" fill="#a99f73" fill-opacity="0.8"/><circle cx="479.1" cy="504.9" r="2.4" fill="#aca172" fill-opacity="0.8"/><circle cx="478.4" cy="506.1" r="2.4" fill="#b7a96e" fill-opacity="0.8"/><circle cx="489.9" cy="510.7" r="2.4" fill="#d3c05f" fill-opacity="0.8"/><circle cx="472.5" cy="506.4" r="2.4" fill="#8d8878" fill-opacity="0.8"/><circle cx="477.4" cy="508.3" r="2.4" fill="#a29975" fill-opacity="0.8"/><circle cx="475.1" cy="506.1" r="2.4" fill="#969077" fill-opacity="0.8"/><circle cx="488.4" cy="515.4" r="2.4" fill="#908b78" fill-opacity="0.8"/><circle cx="470.9" cy="509.9" r="2.4" fill="#aaa073" fill-opacity="0.8"/><circle cx="488.0" cy="506.3" r="2.4" fill="#c2b369" fill-opacity="0.8"/>
<circle cx="600.8" cy="554.1" r="2.4" fill="#5e636f" fill-opacity="0.85"/><circle cx="597.6" cy="550.4" r="2.4" fill="#595e6e" fill-opacity="0.85"/><circle cx="594.6" cy="553.9" r="2.4" fill="#535a6d" fill-opacity="0.85"/><circle cx="598.2" cy="552.1" r="2.4" fill="#535a6d" fill-opacity="0.85"/><circle cx="590.4" cy="552.3" r="2.4" fill="#5f636f" fill-opacity="0.85"/><circle cx="597.6" cy="551.8" r="2.4" fill="#51586d" fill-opacity="0.85"/><circle cx="603.9" cy="553.4" r="2.4" fill="#585e6d" fill-opacity="0.85"/><circle cx="596.2" cy="553.1" r="2.4" fill="#575d6d" fill-opacity="0.85"/><circle cx="591.7" cy="551.7" r="2.4" fill="#535a6d" fill-opacity="0.85"/><circle cx="602.6" cy="552.1" r="2.4" fill="#51586d" fill-opacity="0.85"/><circle cx="601.9" cy="550.1" r="2.4" fill="#575d6d" fill-opacity="0.85"/><circle cx="584.4" cy="550.2" r="2.4" fill="#52596d" fill-opacity="0.85"/><circle cx="584.7" cy="549.2" r="2.4" fill="#61656f" fill-opacity="0.85"/><circle cx="601.8" cy="550.0" r="2.4" fill="#565c6d" fill-opacity="0.85"/>
<circle cx="567.0" cy="578.2" r="2.4" fill="#b0a571" fill-opacity="0.45"/><circle cx="562.3" cy="568.7" r="2.4" fill="#d1bf61" fill-opacity="0.45"/><circle cx="568.5" cy="553.6" r="2.4" fill="#dac65b" fill-opacity="0.45"/><circle cx="563.1" cy="585.3" r="2.4" fill="#dfca57" fill-opacity="0.45"/><circle cx="555.6" cy="531.6" r="2.4" fill="#c5b568" fill-opacity="0.45"/><circle cx="570.2" cy="572.6" r="2.4" fill="#ccba64" fill-opacity="0.45"/><circle cx="562.4" cy="535.5" r="2.4" fill="#e4ce53" fill-opacity="0.45"/><circle cx="556.5" cy="539.7" r="2.4" fill="#dac65b" fill-opacity="0.45"/><circle cx="559.1" cy="531.2" r="2.4" fill="#dcc859" fill-opacity="0.45"/><circle cx="551.2" cy="534.6" r="2.4" fill="#cebc63" fill-opacity="0.45"/><circle cx="567.5" cy="550.5" r="2.4" fill="#ddc858" fill-opacity="0.45"/><circle cx="565.6" cy="567.1" r="2.4" fill="#bbad6d" fill-opacity="0.45"/><circle cx="563.8" cy="567.2" r="2.4" fill="#b7a96e" fill-opacity="0.45"/><circle cx="563.3" cy="545.5" r="2.4" fill="#cfbd62" fill-opacity="0.45"/><circle cx="567.8" cy="564.9" r="2.4" fill="#e4ce53" fill-opacity="0.45"/><circle cx="567.4" cy="583.7" r="2.4" fill="#afa471" fill-opacity="0.45"/><circle cx="561.0" cy="532.5" r="2.4" fill="#cdbb63" fill-opacity="0.45"/><circle cx="565.0" cy="540.5" r="2.4" fill="#b6a96f" fill-opacity="0.45"/><circle cx="567.7" cy="549.0" r="2.4" fill="#b5a86f" fill-opacity="0.45"/><circle cx="556.1" cy="540.5" r="2.4" fill="#bdae6c" fill-opacity="0.45"/><circle cx="572.1" cy="573.0" r="2.4" fill="#beaf6b" fill-opacity="0.45"/><circle cx="570.9" cy="567.8" r="2.4" fill="#c6b667" fill-opacity="0.45"/><circle cx="554.7" cy="532.6" r="2.4" fill="#d7c45c" fill-opacity="0.45"/><circle cx="569.3" cy="584.9" r="2.4" fill="#d7c45c" fill-opacity="0.45"/><circle cx="564.0" cy="561.4" r="2.4" fill="#cdbb63" fill-opacity="0.45"/><circle cx="573.0" cy="581.9" r="2.4" fill="#cebc63" fill-opacity="0.45"/><circle cx="566.1" cy="576.9" r="2.4" fill="#ddc858" fill-opacity="0.45"/><circle cx="568.1" cy="566.6" r="2.4" fill="#baac6d" fill-opacity="0.45"/><circle cx="563.3" cy="545.1" r="2.4" fill="#cdbb63" fill-opacity="0.45"/><circle cx="571.7" cy="567.2" r="2.4" fill="#d9c55c" fill-opacity="0.45"/>
<circle cx="604.0" cy="578.2" r="2.4" fill="#535a6d" fill-opacity="0.85"/><circle cx="608.2" cy="592.1" r="2.4" fill="#5d616e" fill-opacity="0.85"/><circle cx="607.8" cy="580.8" r="2.4" fill="#5c616e" fill-opacity="0.85"/><circle cx="596.6" cy="576.0" r="2.4" fill="#434e6c" fill-opacity="0.85"/><circle cx="609.8" cy="592.1" r="2.4" fill="#4c556c" fill-opacity="0.85"/><circle cx="608.4" cy="583.4" r="2.4" fill="#4a536c" fill-opacity="0.85"/><circle cx="597.9" cy="573.1" r="2.4" fill="#535a6d" fill-opacity="0.85"/><circle cx="608.7" cy="572.9" r="2.4" fill="#51586d" fill-opacity="0.85"/><circle cx="606.0" cy="578.1" r="2.4" fill="#60646f" fill-opacity="0.85"/><circle cx="606.8" cy="572.9" r="2.4" fill="#45506c" fill-opacity="0.85"/><circle cx="613.6" cy="598.8" r="2.4" fill="#636670" fill-opacity="0.85"/><circle cx="607.5" cy="582.2" r="2.4" fill="#52596d" fill-opacity="0.85"/><circle cx="612.3" cy="573.1" r="2.4" fill="#47516c" fill-opacity="0.85"/><circle cx="606.6" cy="588.5" r="2.4" fill="#585e6d" fill-opacity="0.85"/><circle cx="607.1" cy="584.8" r="2.4" fill="#49536c" fill-opacity="0.85"/><circle cx="613.0" cy="587.2" r="2.4" fill="#656870" fill-opacity="0.85"/><circle cx="610.5" cy="584.7" r="2.4" fill="#5a5f6e" fill-opacity="0.85"/><circle cx="601.4" cy="577.1" r="2.4" fill="#5d616e" fill-opacity="0.85"/><circle cx="617.0" cy="585.4" r="2.4" fill="#49536c" fill-opacity="0.85"/><circle cx="617.0" cy="591.8" r="2.4" fill="#4b546c" fill-opacity="0.85"/><circle cx="610.4" cy="574.0" r="2.4" fill="#60646f" fill-opacity="0.85"/><circle cx="609.6" cy="596.0" r="2.4" fill="#656870" fill-opacity="0.85"/><circle cx="603.3" cy="572.2" r="2.4" fill="#575d6d" fill-opacity="0.85"/><circle cx="602.6" cy="569.9" r="2.4" fill="#4c556c" fill-opacity="0.85"/><circle cx="617.4" cy="592.5" r="2.4" fill="#4a536c" fill-opacity="0.85"/><circle cx="614.8" cy="593.6" r="2.4" fill="#666970" fill-opacity="0.85"/><circle cx="602.5" cy="575.8" r="2.4" fill="#656870" fill-opacity="0.85"/><circle cx="599.1" cy="568.8" r="2.4" fill="#555c6d" fill-opacity="0.85"/><circle cx="620.6" cy="581.8" r="2.4" fill="#52596d" fill-opacity="0.85"/><circle cx="609.6" cy="576.8" r="2.4" fill="#46516c" fill-opacity="0.85"/><circle cx="616.5" cy="582.9" r="2.4" fill="#555b6d" fill-opacity="0.85"/><circle cx="604.4" cy="578.4" r="2.4" fill="#565c6d" fill-opacity="0.85"/><circle cx="604.4" cy="578.0" r="2.4" fill="#47516c" fill-opacity="0.85"/><circle cx="615.0" cy="597.2" r="2.4" fill="#5e636f" fill-opacity="0.85"/><circle cx="595.0" cy="577.2" r="2.4" fill="#5d616e" fill-opacity="0.85"/><circle cx="610.7" cy="578.3" r="2.4" fill="#656870" fill-opacity="0.85"/><circle cx="608.9" cy="593.3" r="2.4" fill="#50576c" fill-opacity="0.85"/><circle cx="608.8" cy="597.5" r="2.4" fill="#50576c" fill-opacity="0.85"/><circle cx="599.1" cy="569.9" r="2.4" fill="#60646f" fill-opacity="0.85"/><circle cx="609.7" cy="595.3" r="2.4" fill="#46516c" fill-opacity="0.85"/>
<circle cx="618.5" cy="561.3" r="2.4" fill="#002b62"/><circle cx="615.5" cy="563" r="2.2" fill="#243c6e"/><circle cx="477" cy="512" r="2.4" fill="#f9e03a"/><circle cx="476.5" cy="527" r="2.2" fill="#243c6e"/><circle cx="615" cy="603.3" r="2.2" fill="#5b606e"/><circle cx="464.5" cy="532.4" r="2.2" fill="#4f576c"/>
<circle cx="574.3" cy="583.2" r="2.4" fill="#243c6e" fill-opacity="0.75"/><circle cx="577.0" cy="583.4" r="2.4" fill="#243c6e" fill-opacity="0.75"/><circle cx="574.2" cy="581.5" r="2.4" fill="#243c6e" fill-opacity="0.75"/><circle cx="579.1" cy="581.6" r="2.4" fill="#243c6e" fill-opacity="0.75"/>
<line x1="670.7" y1="485.0" x2="670.7" y2="600.7" stroke="#000" stroke-width="0.9"/>
<line x1="667.5" y1="493.5" x2="670.7" y2="493.5" stroke="#000" stroke-width="0.8"/>
<line x1="667.5" y1="506.2" x2="670.7" y2="506.2" stroke="#000" stroke-width="0.8"/>
<line x1="667.5" y1="519.8" x2="670.7" y2="519.8" stroke="#000" stroke-width="0.8"/>
<line x1="667.5" y1="533.5" x2="670.7" y2="533.5" stroke="#000" stroke-width="0.8"/>
<line x1="667.5" y1="546.8" x2="670.7" y2="546.8" stroke="#000" stroke-width="0.8"/>
<line x1="667.5" y1="560.1" x2="670.7" y2="560.1" stroke="#000" stroke-width="0.8"/>
<line x1="667.5" y1="573.1" x2="670.7" y2="573.1" stroke="#000" stroke-width="0.8"/>
<line x1="667.5" y1="586.5" x2="670.7" y2="586.5" stroke="#000" stroke-width="0.8"/>
<line x1="670.7" y1="600.7" x2="580.0" y2="679.0" stroke="#000" stroke-width="0.9"/>
<line x1="583.0" y1="679.0" x2="427.0" y2="633.0" stroke="#000" stroke-width="0.9"/>
<line x1="744.4" y1="535.0" x2="748.4" y2="537.7" stroke="#000" stroke-width="0.8"/>
<line x1="725.4" y1="551.2" x2="729.4" y2="553.9" stroke="#000" stroke-width="0.8"/>
<line x1="707.5" y1="566.7" x2="711.5" y2="569.4" stroke="#000" stroke-width="0.8"/>
<line x1="688.5" y1="582.9" x2="692.5" y2="585.6" stroke="#000" stroke-width="0.8"/>
<line x1="656.5" y1="612.1" x2="660.5" y2="614.8" stroke="#000" stroke-width="0.8"/>
<line x1="636.6" y1="628.6" x2="640.6" y2="631.3" stroke="#000" stroke-width="0.8"/>
<line x1="618.2" y1="644.7" x2="622.2" y2="647.4" stroke="#000" stroke-width="0.8"/>
<line x1="598.9" y1="660.3" x2="602.9" y2="663.0" stroke="#000" stroke-width="0.8"/>
<line x1="439.4" y1="634.4" x2="437.2" y2="639.4" stroke="#000" stroke-width="0.8"/>
<line x1="463.5" y1="641.5" x2="461.3" y2="646.5" stroke="#000" stroke-width="0.8"/>
<line x1="487.6" y1="648.6" x2="485.4" y2="653.6" stroke="#000" stroke-width="0.8"/>
<line x1="511.7" y1="655.7" x2="509.5" y2="660.7" stroke="#000" stroke-width="0.8"/>
<line x1="535.8" y1="662.8" x2="533.6" y2="667.8" stroke="#000" stroke-width="0.8"/>
<line x1="559.9" y1="669.9" x2="557.7" y2="674.9" stroke="#000" stroke-width="0.8"/>
<text transform="translate(773.6,420.3) rotate(0)" font-family="Liberation Sans" font-size="9.2" text-anchor="middle" dominant-baseline="central">6</text>
<text transform="translate(773.6,433.4) rotate(0)" font-family="Liberation Sans" font-size="9.2" text-anchor="middle" dominant-baseline="central">4</text>
<text transform="translate(773.6,446.3) rotate(0)" font-family="Liberation Sans" font-size="9.2" text-anchor="middle" dominant-baseline="central">2</text>
<text transform="translate(773.6,459.4) rotate(0)" font-family="Liberation Sans" font-size="9.2" text-anchor="middle" dominant-baseline="central">0</text>
<text transform="translate(773.6,472.5) rotate(0)" font-family="Liberation Sans" font-size="9.2" text-anchor="middle" dominant-baseline="central">−2</text>
<text transform="translate(773.6,485.7) rotate(0)" font-family="Liberation Sans" font-size="9.2" text-anchor="middle" dominant-baseline="central">−4</text>
<text transform="translate(773.6,498.6) rotate(0)" font-family="Liberation Sans" font-size="9.2" text-anchor="middle" dominant-baseline="central">−6</text>
<text transform="translate(773.6,511.7) rotate(0)" font-family="Liberation Sans" font-size="9.2" text-anchor="middle" dominant-baseline="central">−8</text>
<text transform="translate(792.1,463.6) rotate(-90)" font-family="Liberation Sans" font-size="9.2" text-anchor="middle" dominant-baseline="central">Dimension 3</text>
<text transform="translate(754,551.1) rotate(0)" font-family="Liberation Sans" font-size="9.2" text-anchor="middle" dominant-baseline="central">10</text>
<text transform="translate(734.9,567.2) rotate(0)" font-family="Liberation Sans" font-size="9.2" text-anchor="middle" dominant-baseline="central">5</text>
<text transform="translate(716.8,583) rotate(0)" font-family="Liberation Sans" font-size="9.2" text-anchor="middle" dominant-baseline="central">0</text>
<text transform="translate(698.4,599.6) rotate(0)" font-family="Liberation Sans" font-size="9.2" text-anchor="middle" dominant-baseline="central">−5</text>
<text transform="translate(665.8,627.7) rotate(0)" font-family="Liberation Sans" font-size="9.2" text-anchor="middle" dominant-baseline="central">10</text>
<text transform="translate(646.6,643.7) rotate(0)" font-family="Liberation Sans" font-size="9.2" text-anchor="middle" dominant-baseline="central">5</text>
<text transform="translate(628.8,659.5) rotate(0)" font-family="Liberation Sans" font-size="9.2" text-anchor="middle" dominant-baseline="central">0</text>
<text transform="translate(610.9,675.6) rotate(0)" font-family="Liberation Sans" font-size="9.2" text-anchor="middle" dominant-baseline="central">−5</text>
<text transform="translate(735.4,586.3) rotate(-40)" font-family="Liberation Sans" font-size="9.2" text-anchor="middle" dominant-baseline="central">Dimension 2</text>
<text transform="translate(646.6,662.9) rotate(-40)" font-family="Liberation Sans" font-size="9.2" text-anchor="middle" dominant-baseline="central">Dimension 2</text>
<text transform="translate(434.2,653.1) rotate(0)" font-family="Liberation Sans" font-size="9.2" text-anchor="middle" dominant-baseline="central">−15</text>
<text transform="translate(458.3,660.2) rotate(0)" font-family="Liberation Sans" font-size="9.2" text-anchor="middle" dominant-baseline="central">−10</text>
<text transform="translate(483.8,667.3) rotate(0)" font-family="Liberation Sans" font-size="9.2" text-anchor="middle" dominant-baseline="central">−5</text>
<text transform="translate(506.5,673.5) rotate(0)" font-family="Liberation Sans" font-size="9.2" text-anchor="middle" dominant-baseline="central">0</text>
<text transform="translate(530.6,680) rotate(0)" font-family="Liberation Sans" font-size="9.2" text-anchor="middle" dominant-baseline="central">5</text>
<text transform="translate(554.7,687.7) rotate(0)" font-family="Liberation Sans" font-size="9.2" text-anchor="middle" dominant-baseline="central">10</text>
<text transform="translate(492.3,683.7) rotate(15)" font-family="Liberation Sans" font-size="9.2" text-anchor="middle" dominant-baseline="central">Dimension 1</text>
<text x="687.6" y="435.8" font-family="Liberation Sans" font-size="16" text-anchor="start" font-weight="bold" textLength="55.4" lengthAdjust="spacingAndGlyphs" >Uptake</text>
<text x="543.7" y="646" font-family="Liberation Serif" font-weight="bold" font-style="italic" font-size="16.8" fill="#7a7a7a">ΔH<tspan font-style="normal" font-size="12.5" dy="3.7" dx="0.8">ads</tspan></text>
<rect x="816.7" y="372.4" width="373.3" height="302.3" fill="#fff" stroke="#000" stroke-width="2.6"/>
<text x="829.7" y="397.8" font-family="Liberation Sans" font-size="17" text-anchor="start" font-weight="bold" textLength="107" lengthAdjust="spacingAndGlyphs" >Legend (a-b):</text>
<rect x="901.5" y="433" width="196" height="73" rx="4" fill="#f0f0f0" stroke="#c8c8c8" stroke-width="1"/>
<circle cx="933.1" cy="446" r="6" fill="#00ffff"/><circle cx="933.1" cy="467.1" r="6" fill="#ff0000"/>
<line x1="913.8" y1="486.9" x2="948.7" y2="486.9" stroke="#000" stroke-width="3.7"/>
<text x="966.6" y="453" font-family="Liberation Sans" font-size="16.4">(<tspan font-family="Liberation Serif" font-style="italic">x</tspan>, <tspan font-family="Liberation Serif" font-style="italic">y</tspan>) @ 5 bars</text>
<text x="966.6" y="474.1" font-family="Liberation Sans" font-size="16.4">(<tspan font-family="Liberation Serif" font-style="italic">x</tspan>, <tspan font-family="Liberation Serif" font-style="italic">y</tspan>) @ 30 bars</text>
<text x="966.6" y="495.2" font-family="Liberation Sans" font-size="16.4" text-anchor="start" textLength="88.4" lengthAdjust="spacingAndGlyphs" >Contour line</text>
<rect x="832.90" y="551.2" width="7.89" height="16.3" fill="#002451"/><rect x="840.39" y="551.2" width="7.89" height="16.3" fill="#00285b"/><rect x="847.88" y="551.2" width="7.89" height="16.3" fill="#002c66"/><rect x="855.37" y="551.2" width="7.89" height="16.3" fill="#003070"/><rect x="862.86" y="551.2" width="7.89" height="16.3" fill="#0c3470"/><rect x="870.35" y="551.2" width="7.89" height="16.3" fill="#1a386f"/><rect x="877.85" y="551.2" width="7.89" height="16.3" fill="#233c6e"/><rect x="885.34" y="551.2" width="7.89" height="16.3" fill="#2b406d"/><rect x="892.83" y="551.2" width="7.89" height="16.3" fill="#33446d"/><rect x="900.32" y="551.2" width="7.89" height="16.3" fill="#3a486c"/><rect x="907.81" y="551.2" width="7.89" height="16.3" fill="#404c6c"/><rect x="915.30" y="551.2" width="7.89" height="16.3" fill="#45506c"/><rect x="922.79" y="551.2" width="7.89" height="16.3" fill="#4b546c"/><rect x="930.28" y="551.2" width="7.89" height="16.3" fill="#51586d"/><rect x="937.77" y="551.2" width="7.89" height="16.3" fill="#565c6d"/><rect x="945.26" y="551.2" width="7.89" height="16.3" fill="#5c616e"/><rect x="952.75" y="551.2" width="7.89" height="16.3" fill="#61656f"/><rect x="960.25" y="551.2" width="7.89" height="16.3" fill="#656870"/><rect x="967.74" y="551.2" width="7.89" height="16.3" fill="#6b6d72"/><rect x="975.23" y="551.2" width="7.89" height="16.3" fill="#707173"/><rect x="982.72" y="551.2" width="7.89" height="16.3" fill="#757575"/><rect x="990.21" y="551.2" width="7.89" height="16.3" fill="#7a7a78"/><rect x="997.70" y="551.2" width="7.89" height="16.3" fill="#7e7d78"/><rect x="1005.19" y="551.2" width="7.89" height="16.3" fill="#848279"/><rect x="1012.68" y="551.2" width="7.89" height="16.3" fill="#8a8678"/><rect x="1020.17" y="551.2" width="7.89" height="16.3" fill="#908b78"/><rect x="1027.66" y="551.2" width="7.89" height="16.3" fill="#958f77"/><rect x="1035.15" y="551.2" width="7.89" height="16.3" fill="#9b9476"/><rect x="1042.65" y="551.2" width="7.89" height="16.3" fill="#a09875"/><rect x="1050.14" y="551.2" width="7.89" height="16.3" fill="#a69c74"/><rect x="1057.63" y="551.2" width="7.89" height="16.3" fill="#aca172"/><rect x="1065.12" y="551.2" width="7.89" height="16.3" fill="#b3a670"/><rect x="1072.61" y="551.2" width="7.89" height="16.3" fill="#b9ab6d"/><rect x="1080.10" y="551.2" width="7.89" height="16.3" fill="#beaf6b"/><rect x="1087.59" y="551.2" width="7.89" height="16.3" fill="#c4b468"/><rect x="1095.08" y="551.2" width="7.89" height="16.3" fill="#cbb965"/><rect x="1102.57" y="551.2" width="7.89" height="16.3" fill="#d1bf61"/><rect x="1110.06" y="551.2" width="7.89" height="16.3" fill="#d7c45c"/><rect x="1117.55" y="551.2" width="7.89" height="16.3" fill="#dec958"/><rect x="1125.05" y="551.2" width="7.89" height="16.3" fill="#e4ce53"/><rect x="1132.54" y="551.2" width="7.89" height="16.3" fill="#ead34c"/><rect x="1140.03" y="551.2" width="7.89" height="16.3" fill="#f1d945"/><rect x="1147.52" y="551.2" width="7.89" height="16.3" fill="#f8df3c"/><rect x="1155.01" y="551.2" width="7.89" height="16.3" fill="#fee535"/>
<rect x="832.9" y="551.2" width="329.6" height="16.3" fill="none" stroke="#000" stroke-width="1"/>
<rect x="832.90" y="600.2" width="8.64" height="16.3" fill="#450559"/><rect x="841.14" y="600.2" width="8.64" height="16.3" fill="#470e61"/><rect x="849.38" y="600.2" width="8.64" height="16.3" fill="#48186a"/><rect x="857.62" y="600.2" width="8.64" height="16.3" fill="#482071"/><rect x="865.86" y="600.2" width="8.64" height="16.3" fill="#482878"/><rect x="874.10" y="600.2" width="8.64" height="16.3" fill="#46307e"/><rect x="882.34" y="600.2" width="8.64" height="16.3" fill="#453882"/><rect x="890.58" y="600.2" width="8.64" height="16.3" fill="#424086"/><rect x="898.82" y="600.2" width="8.64" height="16.3" fill="#3f4788"/><rect x="907.06" y="600.2" width="8.64" height="16.3" fill="#3d4e8a"/><rect x="915.30" y="600.2" width="8.64" height="16.3" fill="#39558c"/><rect x="923.54" y="600.2" width="8.64" height="16.3" fill="#365c8d"/><rect x="931.78" y="600.2" width="8.64" height="16.3" fill="#33638d"/><rect x="940.02" y="600.2" width="8.64" height="16.3" fill="#30698e"/><rect x="948.26" y="600.2" width="8.64" height="16.3" fill="#2e6f8e"/><rect x="956.50" y="600.2" width="8.64" height="16.3" fill="#2b758e"/><rect x="964.74" y="600.2" width="8.64" height="16.3" fill="#297b8e"/><rect x="972.98" y="600.2" width="8.64" height="16.3" fill="#26828e"/><rect x="981.22" y="600.2" width="8.64" height="16.3" fill="#24878e"/><rect x="989.46" y="600.2" width="8.64" height="16.3" fill="#228d8d"/><rect x="997.70" y="600.2" width="8.64" height="16.3" fill="#20938c"/><rect x="1005.94" y="600.2" width="8.64" height="16.3" fill="#1f998a"/><rect x="1014.18" y="600.2" width="8.64" height="16.3" fill="#1fa088"/><rect x="1022.42" y="600.2" width="8.64" height="16.3" fill="#21a585"/><rect x="1030.66" y="600.2" width="8.64" height="16.3" fill="#25ab82"/><rect x="1038.90" y="600.2" width="8.64" height="16.3" fill="#2cb17e"/><rect x="1047.14" y="600.2" width="8.64" height="16.3" fill="#34b679"/><rect x="1055.38" y="600.2" width="8.64" height="16.3" fill="#3fbc73"/><rect x="1063.62" y="600.2" width="8.64" height="16.3" fill="#4ac16d"/><rect x="1071.86" y="600.2" width="8.64" height="16.3" fill="#56c667"/><rect x="1080.10" y="600.2" width="8.64" height="16.3" fill="#65cb5e"/><rect x="1088.34" y="600.2" width="8.64" height="16.3" fill="#73d056"/><rect x="1096.58" y="600.2" width="8.64" height="16.3" fill="#84d44b"/><rect x="1104.82" y="600.2" width="8.64" height="16.3" fill="#93d741"/><rect x="1113.06" y="600.2" width="8.64" height="16.3" fill="#a2da37"/><rect x="1121.30" y="600.2" width="8.64" height="16.3" fill="#b5de2b"/><rect x="1129.54" y="600.2" width="8.64" height="16.3" fill="#c5e021"/><rect x="1137.78" y="600.2" width="8.64" height="16.3" fill="#d8e219"/><rect x="1146.02" y="600.2" width="8.64" height="16.3" fill="#e7e419"/><rect x="1154.26" y="600.2" width="8.64" height="16.3" fill="#f6e620"/>
<rect x="832.9" y="600.2" width="329.6" height="16.3" fill="none" stroke="#000" stroke-width="1"/>
<line x1="842.3" y1="567.5" x2="842.3" y2="571" stroke="#000" stroke-width="0.9"/>
<text x="842.3" y="584.4" font-family="Liberation Sans" font-size="11.5" text-anchor="middle" textLength="26" lengthAdjust="spacingAndGlyphs" >−4.8</text>
<line x1="880.2" y1="567.5" x2="880.2" y2="571" stroke="#000" stroke-width="0.9"/>
<text x="880.2" y="584.4" font-family="Liberation Sans" font-size="11.5" text-anchor="middle" textLength="26" lengthAdjust="spacingAndGlyphs" >−4.2</text>
<line x1="918" y1="567.5" x2="918" y2="571" stroke="#000" stroke-width="0.9"/>
<text x="918.0" y="584.4" font-family="Liberation Sans" font-size="11.5" text-anchor="middle" textLength="26" lengthAdjust="spacingAndGlyphs" >−3.6</text>
<line x1="955.5" y1="567.5" x2="955.5" y2="571" stroke="#000" stroke-width="0.9"/>
<text x="955.5" y="584.4" font-family="Liberation Sans" font-size="11.5" text-anchor="middle" textLength="26" lengthAdjust="spacingAndGlyphs" >−3.0</text>
<line x1="993" y1="567.5" x2="993" y2="571" stroke="#000" stroke-width="0.9"/>
<text x="993.0" y="584.4" font-family="Liberation Sans" font-size="11.5" text-anchor="middle" textLength="26" lengthAdjust="spacingAndGlyphs" >−2.4</text>
<line x1="1030.6" y1="567.5" x2="1030.6" y2="571" stroke="#000" stroke-width="0.9"/>
<text x="1030.6" y="584.4" font-family="Liberation Sans" font-size="11.5" text-anchor="middle" textLength="26" lengthAdjust="spacingAndGlyphs" >−1.8</text>
<line x1="1068.3" y1="567.5" x2="1068.3" y2="571" stroke="#000" stroke-width="0.9"/>
<text x="1068.3" y="584.4" font-family="Liberation Sans" font-size="11.5" text-anchor="middle" textLength="26" lengthAdjust="spacingAndGlyphs" >−1.2</text>
<line x1="1105.7" y1="567.5" x2="1105.7" y2="571" stroke="#000" stroke-width="0.9"/>
<text x="1105.7" y="584.4" font-family="Liberation Sans" font-size="11.5" text-anchor="middle" textLength="26" lengthAdjust="spacingAndGlyphs" >−0.6</text>
<line x1="1143.2" y1="567.5" x2="1143.2" y2="571" stroke="#000" stroke-width="0.9"/>
<text x="1143.2" y="584.4" font-family="Liberation Sans" font-size="11.5" text-anchor="middle" textLength="17.5" lengthAdjust="spacingAndGlyphs" >0.0</text>
<line x1="853.5" y1="616.5" x2="853.5" y2="620" stroke="#000" stroke-width="0.9"/>
<text x="853.5" y="633.7" font-family="Liberation Sans" font-size="11.5" text-anchor="middle" textLength="33" lengthAdjust="spacingAndGlyphs" >−0.72</text>
<line x1="892.2" y1="616.5" x2="892.2" y2="620" stroke="#000" stroke-width="0.9"/>
<text x="892.2" y="633.7" font-family="Liberation Sans" font-size="11.5" text-anchor="middle" textLength="33" lengthAdjust="spacingAndGlyphs" >−0.60</text>
<line x1="930.9" y1="616.5" x2="930.9" y2="620" stroke="#000" stroke-width="0.9"/>
<text x="930.9" y="633.7" font-family="Liberation Sans" font-size="11.5" text-anchor="middle" textLength="33" lengthAdjust="spacingAndGlyphs" >−0.48</text>
<line x1="969.6" y1="616.5" x2="969.6" y2="620" stroke="#000" stroke-width="0.9"/>
<text x="969.6" y="633.7" font-family="Liberation Sans" font-size="11.5" text-anchor="middle" textLength="33" lengthAdjust="spacingAndGlyphs" >−0.36</text>
<line x1="1008.2" y1="616.5" x2="1008.2" y2="620" stroke="#000" stroke-width="0.9"/>
<text x="1008.2" y="633.7" font-family="Liberation Sans" font-size="11.5" text-anchor="middle" textLength="33" lengthAdjust="spacingAndGlyphs" >−0.24</text>
<line x1="1046.8" y1="616.5" x2="1046.8" y2="620" stroke="#000" stroke-width="0.9"/>
<text x="1046.8" y="633.7" font-family="Liberation Sans" font-size="11.5" text-anchor="middle" textLength="33" lengthAdjust="spacingAndGlyphs" >−0.12</text>
<line x1="1085.6" y1="616.5" x2="1085.6" y2="620" stroke="#000" stroke-width="0.9"/>
<text x="1085.6" y="633.7" font-family="Liberation Sans" font-size="11.5" text-anchor="middle" textLength="24.5" lengthAdjust="spacingAndGlyphs" >0.00</text>
<line x1="1124.1" y1="616.5" x2="1124.1" y2="620" stroke="#000" stroke-width="0.9"/>
<text x="1124.1" y="633.7" font-family="Liberation Sans" font-size="11.5" text-anchor="middle" textLength="24.5" lengthAdjust="spacingAndGlyphs" >0.12</text>
<line x1="1162.8" y1="616.5" x2="1162.8" y2="620" stroke="#000" stroke-width="0.9"/>
<text x="1162.8" y="633.7" font-family="Liberation Sans" font-size="11.5" text-anchor="middle" textLength="24.5" lengthAdjust="spacingAndGlyphs" >0.24</text>
<text x="1002" y="655" font-family="Liberation Serif" font-style="italic" font-size="18" text-anchor="middle">dy/dp</text>
</svg>
</body></html>
